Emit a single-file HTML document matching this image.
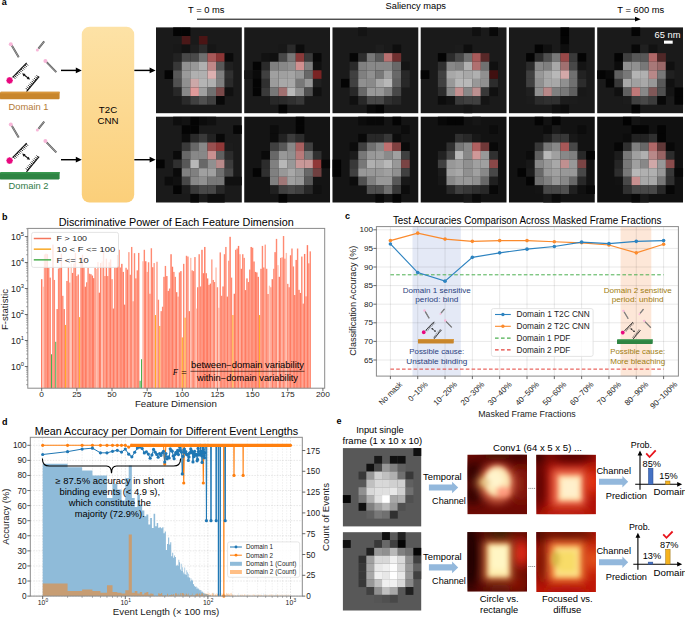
<!DOCTYPE html>
<html><head><meta charset="utf-8"><style>
html,body{margin:0;padding:0;background:#fff;}
svg{display:block;font-family:"Liberation Sans", sans-serif;}
</style></head><body>
<svg width="685" height="617" viewBox="0 0 685 617">
<text x="1.8" y="5.2" font-size="9" font-weight="bold">a</text>
<g transform="translate(0 0)"><line x1="11.8" y1="45.6" x2="18.7" y2="57.3" stroke="#555" stroke-width="1.9"/><line x1="11.8" y1="45.6" x2="18.7" y2="57.3" stroke="#bbb" stroke-width="0.7"/><circle cx="10.8" cy="44.2" r="2.0" fill="#f7b6d8"/><line x1="38.4" y1="48.6" x2="44.2" y2="41.4" stroke="#555" stroke-width="1.9"/><line x1="38.4" y1="48.6" x2="44.2" y2="41.4" stroke="#bbb" stroke-width="0.7"/><circle cx="37.4" cy="49.9" r="1.5" fill="#f7b6d8"/><line x1="46.6" y1="62.2" x2="56.3" y2="72.1" stroke="#555" stroke-width="1.9"/><line x1="46.6" y1="62.2" x2="56.3" y2="72.1" stroke="#bbb" stroke-width="0.7"/><circle cx="45.4" cy="60.9" r="2.0" fill="#f7b6d8"/><line x1="12.6" y1="77.4" x2="26.7" y2="62.9" stroke="#111" stroke-width="1.2"/><line x1="13.24" y1="76.74" x2="15.24" y2="78.74" stroke="#111" stroke-width="0.9"/><line x1="14.52" y1="75.42" x2="16.52" y2="77.42" stroke="#111" stroke-width="0.9"/><line x1="15.80" y1="74.10" x2="17.80" y2="76.10" stroke="#111" stroke-width="0.9"/><line x1="17.09" y1="72.79" x2="19.09" y2="74.79" stroke="#111" stroke-width="0.9"/><line x1="18.37" y1="71.47" x2="20.37" y2="73.47" stroke="#111" stroke-width="0.9"/><line x1="19.65" y1="70.15" x2="21.65" y2="72.15" stroke="#111" stroke-width="0.9"/><line x1="20.93" y1="68.83" x2="22.93" y2="70.83" stroke="#111" stroke-width="0.9"/><line x1="22.21" y1="67.51" x2="24.21" y2="69.51" stroke="#111" stroke-width="0.9"/><line x1="23.50" y1="66.20" x2="25.50" y2="68.20" stroke="#111" stroke-width="0.9"/><line x1="24.78" y1="64.88" x2="26.78" y2="66.88" stroke="#111" stroke-width="0.9"/><line x1="26.06" y1="63.56" x2="28.06" y2="65.56" stroke="#111" stroke-width="0.9"/><polygon points="13.10,80.40 12.40,81.15 12.63,82.15 11.65,82.45 11.35,83.43 10.35,83.20 9.60,83.90 8.85,83.20 7.85,83.43 7.55,82.45 6.57,82.15 6.80,81.15 6.10,80.40 6.80,79.65 6.57,78.65 7.55,78.35 7.85,77.37 8.85,77.60 9.60,76.90 10.35,77.60 11.35,77.37 11.65,78.35 12.63,78.65 12.40,79.65" fill="#e8087e"/><line x1="26.5" y1="91.6" x2="39.1" y2="76.5" stroke="#111" stroke-width="1.2"/><line x1="27.79" y1="90.08" x2="25.79" y2="88.08" stroke="#111" stroke-width="0.9"/><line x1="28.98" y1="88.66" x2="26.98" y2="86.66" stroke="#111" stroke-width="0.9"/><line x1="30.18" y1="87.22" x2="28.18" y2="85.22" stroke="#111" stroke-width="0.9"/><line x1="31.37" y1="85.80" x2="29.37" y2="83.80" stroke="#111" stroke-width="0.9"/><line x1="32.55" y1="84.36" x2="30.55" y2="82.36" stroke="#111" stroke-width="0.9"/><line x1="33.75" y1="82.94" x2="31.75" y2="80.94" stroke="#111" stroke-width="0.9"/><line x1="34.94" y1="81.50" x2="32.94" y2="79.50" stroke="#111" stroke-width="0.9"/><line x1="36.12" y1="80.08" x2="34.12" y2="78.08" stroke="#111" stroke-width="0.9"/><line x1="37.31" y1="78.64" x2="35.31" y2="76.64" stroke="#111" stroke-width="0.9"/><line x1="38.51" y1="77.22" x2="36.51" y2="75.22" stroke="#111" stroke-width="0.9"/><line x1="24.3" y1="75.0" x2="27.9" y2="77.9" stroke="#111" stroke-width="1.2"/><path d="M22.2 73.3 L23.53 76.43 L25.54 73.94 Z M30 79.6 L26.66 78.96 L28.67 76.47 Z" fill="#111"/><path d="M1 91.8 L59.6 91.8 L59.6 98.4 L58.8 99.3 L0.2 99.3 L0 98 L0 92.8 Z" fill="#c8862c"/><rect x="0.5" y="91.8" width="59" height="1.6" fill="#d9983e"/></g>
<text x="28.50" y="109.60" font-size="9.6" text-anchor="middle" fill="#b47a36" textLength="40" lengthAdjust="spacingAndGlyphs" >Domain 1</text>
<g transform="translate(0 80.2)"><line x1="11.8" y1="45.6" x2="18.7" y2="57.3" stroke="#555" stroke-width="1.9"/><line x1="11.8" y1="45.6" x2="18.7" y2="57.3" stroke="#bbb" stroke-width="0.7"/><circle cx="10.8" cy="44.2" r="2.0" fill="#f7b6d8"/><line x1="38.4" y1="48.6" x2="44.2" y2="41.4" stroke="#555" stroke-width="1.9"/><line x1="38.4" y1="48.6" x2="44.2" y2="41.4" stroke="#bbb" stroke-width="0.7"/><circle cx="37.4" cy="49.9" r="1.5" fill="#f7b6d8"/><line x1="46.6" y1="62.2" x2="56.3" y2="72.1" stroke="#555" stroke-width="1.9"/><line x1="46.6" y1="62.2" x2="56.3" y2="72.1" stroke="#bbb" stroke-width="0.7"/><circle cx="45.4" cy="60.9" r="2.0" fill="#f7b6d8"/><line x1="12.6" y1="77.4" x2="26.7" y2="62.9" stroke="#111" stroke-width="1.2"/><line x1="13.24" y1="76.74" x2="15.24" y2="78.74" stroke="#111" stroke-width="0.9"/><line x1="14.52" y1="75.42" x2="16.52" y2="77.42" stroke="#111" stroke-width="0.9"/><line x1="15.80" y1="74.10" x2="17.80" y2="76.10" stroke="#111" stroke-width="0.9"/><line x1="17.09" y1="72.79" x2="19.09" y2="74.79" stroke="#111" stroke-width="0.9"/><line x1="18.37" y1="71.47" x2="20.37" y2="73.47" stroke="#111" stroke-width="0.9"/><line x1="19.65" y1="70.15" x2="21.65" y2="72.15" stroke="#111" stroke-width="0.9"/><line x1="20.93" y1="68.83" x2="22.93" y2="70.83" stroke="#111" stroke-width="0.9"/><line x1="22.21" y1="67.51" x2="24.21" y2="69.51" stroke="#111" stroke-width="0.9"/><line x1="23.50" y1="66.20" x2="25.50" y2="68.20" stroke="#111" stroke-width="0.9"/><line x1="24.78" y1="64.88" x2="26.78" y2="66.88" stroke="#111" stroke-width="0.9"/><line x1="26.06" y1="63.56" x2="28.06" y2="65.56" stroke="#111" stroke-width="0.9"/><polygon points="13.10,80.40 12.40,81.15 12.63,82.15 11.65,82.45 11.35,83.43 10.35,83.20 9.60,83.90 8.85,83.20 7.85,83.43 7.55,82.45 6.57,82.15 6.80,81.15 6.10,80.40 6.80,79.65 6.57,78.65 7.55,78.35 7.85,77.37 8.85,77.60 9.60,76.90 10.35,77.60 11.35,77.37 11.65,78.35 12.63,78.65 12.40,79.65" fill="#e8087e"/><line x1="26.5" y1="91.6" x2="39.1" y2="76.5" stroke="#111" stroke-width="1.2"/><line x1="27.79" y1="90.08" x2="25.79" y2="88.08" stroke="#111" stroke-width="0.9"/><line x1="28.98" y1="88.66" x2="26.98" y2="86.66" stroke="#111" stroke-width="0.9"/><line x1="30.18" y1="87.22" x2="28.18" y2="85.22" stroke="#111" stroke-width="0.9"/><line x1="31.37" y1="85.80" x2="29.37" y2="83.80" stroke="#111" stroke-width="0.9"/><line x1="32.55" y1="84.36" x2="30.55" y2="82.36" stroke="#111" stroke-width="0.9"/><line x1="33.75" y1="82.94" x2="31.75" y2="80.94" stroke="#111" stroke-width="0.9"/><line x1="34.94" y1="81.50" x2="32.94" y2="79.50" stroke="#111" stroke-width="0.9"/><line x1="36.12" y1="80.08" x2="34.12" y2="78.08" stroke="#111" stroke-width="0.9"/><line x1="37.31" y1="78.64" x2="35.31" y2="76.64" stroke="#111" stroke-width="0.9"/><line x1="38.51" y1="77.22" x2="36.51" y2="75.22" stroke="#111" stroke-width="0.9"/><line x1="24.3" y1="75.0" x2="27.9" y2="77.9" stroke="#111" stroke-width="1.2"/><path d="M22.2 73.3 L23.53 76.43 L25.54 73.94 Z M30 79.6 L26.66 78.96 L28.67 76.47 Z" fill="#111"/><path d="M1 91.8 L59.6 91.8 L59.6 98.4 L58.8 99.3 L0.2 99.3 L0 98 L0 92.8 Z" fill="#2e8443"/><rect x="0.5" y="91.8" width="59" height="1.6" fill="#3a9950"/></g>
<text x="28.50" y="188.90" font-size="9.6" text-anchor="middle" fill="#2f7a46" textLength="40" lengthAdjust="spacingAndGlyphs" >Domain 2</text>
<line x1="61" y1="70.4" x2="76.3" y2="70.4" stroke="#000" stroke-width="1.45"/>
<path d="M81.8 70.4 L75.8 67.5 L75.8 73.30000000000001 Z" fill="#000"/>
<line x1="134.2" y1="70.4" x2="150.1" y2="70.4" stroke="#000" stroke-width="1.45"/>
<path d="M155.6 70.4 L149.6 67.5 L149.6 73.30000000000001 Z" fill="#000"/>
<line x1="61" y1="159.7" x2="76.3" y2="159.7" stroke="#000" stroke-width="1.45"/>
<path d="M81.8 159.7 L75.8 156.79999999999998 L75.8 162.6 Z" fill="#000"/>
<line x1="134.2" y1="159.7" x2="150.1" y2="159.7" stroke="#000" stroke-width="1.45"/>
<path d="M155.6 159.7 L149.6 156.79999999999998 L149.6 162.6 Z" fill="#000"/>
<defs><linearGradient id="cnn" x1="0" y1="0" x2="0" y2="1"><stop offset="0" stop-color="#fde2a6"/><stop offset="1" stop-color="#fbcf7a"/></linearGradient></defs>
<rect x="81.8" y="26.8" width="52.4" height="175.7" rx="7.8" fill="url(#cnn)"/>
<text x="108.00" y="112.80" font-size="9.7" text-anchor="middle" >T2C</text>
<text x="107.90" y="124.00" font-size="9.7" text-anchor="middle" >CNN</text>
<text x="188.00" y="13.10" font-size="9.7" textLength="36.4" lengthAdjust="spacingAndGlyphs" >T = 0 ms</text>
<text x="385.60" y="9.30" font-size="9.7" textLength="60.4" lengthAdjust="spacingAndGlyphs" >Saliency maps</text>
<text x="617.30" y="13.10" font-size="9.7" textLength="47" lengthAdjust="spacingAndGlyphs" >T = 600 ms</text>
<line x1="197" y1="19.2" x2="636" y2="19.2" stroke="#000" stroke-width="1"/>
<path d="M640.8 19.2 L635 16.8 L635 21.6 Z" fill="#000"/>
<rect x="156.00" y="27.40" width="85.8" height="85.8" fill="#1a1a1a"/><rect x="173.16" y="27.40" width="8.63" height="8.63" fill="#040404"/><rect x="181.74" y="27.40" width="8.63" height="8.63" fill="#040404"/><rect x="181.74" y="35.98" width="8.63" height="8.63" fill="#4a1818"/><rect x="198.90" y="35.98" width="8.63" height="8.63" fill="#4a1515"/><rect x="173.16" y="44.56" width="8.63" height="8.63" fill="#181818"/><rect x="181.74" y="44.56" width="8.63" height="8.63" fill="#121212"/><rect x="190.32" y="44.56" width="8.63" height="8.63" fill="#1e1e1e"/><rect x="198.90" y="44.56" width="8.63" height="8.63" fill="#2c2c2c"/><rect x="207.48" y="44.56" width="8.63" height="8.63" fill="#161616"/><rect x="173.16" y="53.14" width="8.63" height="8.63" fill="#222222"/><rect x="181.74" y="53.14" width="8.63" height="8.63" fill="#484848"/><rect x="190.32" y="53.14" width="8.63" height="8.63" fill="#4a4a4a"/><rect x="198.90" y="53.14" width="8.63" height="8.63" fill="#707070"/><rect x="207.48" y="53.14" width="8.63" height="8.63" fill="#a85858"/><rect x="216.06" y="53.14" width="8.63" height="8.63" fill="#8c3636"/><rect x="224.64" y="53.14" width="8.63" height="8.63" fill="#0a0a0a"/><rect x="173.16" y="61.72" width="8.63" height="8.63" fill="#383838"/><rect x="181.74" y="61.72" width="8.63" height="8.63" fill="#909090"/><rect x="190.32" y="61.72" width="8.63" height="8.63" fill="#989898"/><rect x="198.90" y="61.72" width="8.63" height="8.63" fill="#b0b0b0"/><rect x="207.48" y="61.72" width="8.63" height="8.63" fill="#c08888"/><rect x="216.06" y="61.72" width="8.63" height="8.63" fill="#585858"/><rect x="224.64" y="61.72" width="8.63" height="8.63" fill="#202020"/><rect x="164.58" y="70.30" width="8.63" height="8.63" fill="#040404"/><rect x="173.16" y="70.30" width="8.63" height="8.63" fill="#585858"/><rect x="181.74" y="70.30" width="8.63" height="8.63" fill="#9a9a9a"/><rect x="190.32" y="70.30" width="8.63" height="8.63" fill="#b0b0b0"/><rect x="198.90" y="70.30" width="8.63" height="8.63" fill="#b0b0b0"/><rect x="207.48" y="70.30" width="8.63" height="8.63" fill="#dcb0b0"/><rect x="216.06" y="70.30" width="8.63" height="8.63" fill="#808080"/><rect x="224.64" y="70.30" width="8.63" height="8.63" fill="#303030"/><rect x="173.16" y="78.88" width="8.63" height="8.63" fill="#505050"/><rect x="181.74" y="78.88" width="8.63" height="8.63" fill="#909090"/><rect x="190.32" y="78.88" width="8.63" height="8.63" fill="#cca8a8"/><rect x="198.90" y="78.88" width="8.63" height="8.63" fill="#b4b4b4"/><rect x="207.48" y="78.88" width="8.63" height="8.63" fill="#b0b0b0"/><rect x="216.06" y="78.88" width="8.63" height="8.63" fill="#808080"/><rect x="224.64" y="78.88" width="8.63" height="8.63" fill="#2a2a2a"/><rect x="173.16" y="87.46" width="8.63" height="8.63" fill="#282828"/><rect x="181.74" y="87.46" width="8.63" height="8.63" fill="#888888"/><rect x="190.32" y="87.46" width="8.63" height="8.63" fill="#e09a9a"/><rect x="198.90" y="87.46" width="8.63" height="8.63" fill="#a0a0a0"/><rect x="207.48" y="87.46" width="8.63" height="8.63" fill="#707070"/><rect x="216.06" y="87.46" width="8.63" height="8.63" fill="#7a4a4a"/><rect x="224.64" y="87.46" width="8.63" height="8.63" fill="#101010"/><rect x="181.74" y="96.04" width="8.63" height="8.63" fill="#2a2a2a"/><rect x="190.32" y="96.04" width="8.63" height="8.63" fill="#404040"/><rect x="198.90" y="96.04" width="8.63" height="8.63" fill="#505050"/><rect x="207.48" y="96.04" width="8.63" height="8.63" fill="#404040"/><rect x="216.06" y="96.04" width="8.63" height="8.63" fill="#080808"/>
<rect x="244.24" y="27.40" width="85.8" height="85.8" fill="#1a1a1a"/><rect x="278.56" y="44.56" width="8.63" height="8.63" fill="#181818"/><rect x="287.14" y="44.56" width="8.63" height="8.63" fill="#2a2a2a"/><rect x="295.72" y="44.56" width="8.63" height="8.63" fill="#0c0c0c"/><rect x="261.40" y="53.14" width="8.63" height="8.63" fill="#121212"/><rect x="269.98" y="53.14" width="8.63" height="8.63" fill="#101010"/><rect x="278.56" y="53.14" width="8.63" height="8.63" fill="#484848"/><rect x="287.14" y="53.14" width="8.63" height="8.63" fill="#787878"/><rect x="295.72" y="53.14" width="8.63" height="8.63" fill="#8a3a3a"/><rect x="304.30" y="53.14" width="8.63" height="8.63" fill="#3a3a3a"/><rect x="312.88" y="53.14" width="8.63" height="8.63" fill="#080808"/><rect x="252.82" y="61.72" width="8.63" height="8.63" fill="#040404"/><rect x="261.40" y="61.72" width="8.63" height="8.63" fill="#2a2a2a"/><rect x="269.98" y="61.72" width="8.63" height="8.63" fill="#808080"/><rect x="278.56" y="61.72" width="8.63" height="8.63" fill="#888888"/><rect x="287.14" y="61.72" width="8.63" height="8.63" fill="#909090"/><rect x="295.72" y="61.72" width="8.63" height="8.63" fill="#d09090"/><rect x="304.30" y="61.72" width="8.63" height="8.63" fill="#808080"/><rect x="312.88" y="61.72" width="8.63" height="8.63" fill="#101010"/><rect x="244.24" y="70.30" width="8.63" height="8.63" fill="#141414"/><rect x="252.82" y="70.30" width="8.63" height="8.63" fill="#0a0a0a"/><rect x="261.40" y="70.30" width="8.63" height="8.63" fill="#404040"/><rect x="269.98" y="70.30" width="8.63" height="8.63" fill="#a0a0a0"/><rect x="278.56" y="70.30" width="8.63" height="8.63" fill="#a0a0a0"/><rect x="287.14" y="70.30" width="8.63" height="8.63" fill="#a4a4a4"/><rect x="295.72" y="70.30" width="8.63" height="8.63" fill="#989898"/><rect x="304.30" y="70.30" width="8.63" height="8.63" fill="#686868"/><rect x="312.88" y="70.30" width="8.63" height="8.63" fill="#7a2424"/><rect x="252.82" y="78.88" width="8.63" height="8.63" fill="#040404"/><rect x="261.40" y="78.88" width="8.63" height="8.63" fill="#303030"/><rect x="269.98" y="78.88" width="8.63" height="8.63" fill="#9c9c9c"/><rect x="278.56" y="78.88" width="8.63" height="8.63" fill="#a8a8a8"/><rect x="287.14" y="78.88" width="8.63" height="8.63" fill="#a8a8a8"/><rect x="295.72" y="78.88" width="8.63" height="8.63" fill="#787878"/><rect x="304.30" y="78.88" width="8.63" height="8.63" fill="#989898"/><rect x="312.88" y="78.88" width="8.63" height="8.63" fill="#202020"/><rect x="252.82" y="87.46" width="8.63" height="8.63" fill="#040404"/><rect x="261.40" y="87.46" width="8.63" height="8.63" fill="#3a3a3a"/><rect x="269.98" y="87.46" width="8.63" height="8.63" fill="#787878"/><rect x="278.56" y="87.46" width="8.63" height="8.63" fill="#a07070"/><rect x="287.14" y="87.46" width="8.63" height="8.63" fill="#b8b8b8"/><rect x="295.72" y="87.46" width="8.63" height="8.63" fill="#909090"/><rect x="304.30" y="87.46" width="8.63" height="8.63" fill="#505050"/><rect x="312.88" y="87.46" width="8.63" height="8.63" fill="#101010"/><rect x="269.98" y="96.04" width="8.63" height="8.63" fill="#282828"/><rect x="278.56" y="96.04" width="8.63" height="8.63" fill="#2a2a2a"/><rect x="287.14" y="96.04" width="8.63" height="8.63" fill="#303030"/><rect x="295.72" y="96.04" width="8.63" height="8.63" fill="#383838"/><rect x="278.56" y="104.62" width="8.63" height="8.63" fill="#040404"/>
<rect x="332.48" y="27.40" width="85.8" height="85.8" fill="#1a1a1a"/><rect x="358.22" y="27.40" width="8.63" height="8.63" fill="#141414"/><rect x="375.38" y="44.56" width="8.63" height="8.63" fill="#1e1e1e"/><rect x="392.54" y="44.56" width="8.63" height="8.63" fill="#0e0e0e"/><rect x="349.64" y="53.14" width="8.63" height="8.63" fill="#060606"/><rect x="358.22" y="53.14" width="8.63" height="8.63" fill="#2e2e2e"/><rect x="366.80" y="53.14" width="8.63" height="8.63" fill="#787878"/><rect x="375.38" y="53.14" width="8.63" height="8.63" fill="#5a5a5a"/><rect x="383.96" y="53.14" width="8.63" height="8.63" fill="#b87070"/><rect x="392.54" y="53.14" width="8.63" height="8.63" fill="#703030"/><rect x="349.64" y="61.72" width="8.63" height="8.63" fill="#2a2a2a"/><rect x="358.22" y="61.72" width="8.63" height="8.63" fill="#808080"/><rect x="366.80" y="61.72" width="8.63" height="8.63" fill="#888888"/><rect x="375.38" y="61.72" width="8.63" height="8.63" fill="#888888"/><rect x="383.96" y="61.72" width="8.63" height="8.63" fill="#888888"/><rect x="392.54" y="61.72" width="8.63" height="8.63" fill="#686868"/><rect x="401.12" y="61.72" width="8.63" height="8.63" fill="#141414"/><rect x="349.64" y="70.30" width="8.63" height="8.63" fill="#404040"/><rect x="358.22" y="70.30" width="8.63" height="8.63" fill="#808080"/><rect x="366.80" y="70.30" width="8.63" height="8.63" fill="#909090"/><rect x="375.38" y="70.30" width="8.63" height="8.63" fill="#787878"/><rect x="383.96" y="70.30" width="8.63" height="8.63" fill="#a0a0a0"/><rect x="392.54" y="70.30" width="8.63" height="8.63" fill="#686868"/><rect x="401.12" y="70.30" width="8.63" height="8.63" fill="#282828"/><rect x="341.06" y="78.88" width="8.63" height="8.63" fill="#040404"/><rect x="349.64" y="78.88" width="8.63" height="8.63" fill="#404040"/><rect x="358.22" y="78.88" width="8.63" height="8.63" fill="#909090"/><rect x="366.80" y="78.88" width="8.63" height="8.63" fill="#8a8a8a"/><rect x="375.38" y="78.88" width="8.63" height="8.63" fill="#a8a8a8"/><rect x="383.96" y="78.88" width="8.63" height="8.63" fill="#b8b8b8"/><rect x="392.54" y="78.88" width="8.63" height="8.63" fill="#606060"/><rect x="401.12" y="78.88" width="8.63" height="8.63" fill="#282828"/><rect x="349.64" y="87.46" width="8.63" height="8.63" fill="#282828"/><rect x="358.22" y="87.46" width="8.63" height="8.63" fill="#686868"/><rect x="366.80" y="87.46" width="8.63" height="8.63" fill="#989898"/><rect x="375.38" y="87.46" width="8.63" height="8.63" fill="#989898"/><rect x="383.96" y="87.46" width="8.63" height="8.63" fill="#808080"/><rect x="392.54" y="87.46" width="8.63" height="8.63" fill="#484848"/><rect x="349.64" y="96.04" width="8.63" height="8.63" fill="#101010"/><rect x="358.22" y="96.04" width="8.63" height="8.63" fill="#282828"/><rect x="366.80" y="96.04" width="8.63" height="8.63" fill="#484848"/><rect x="375.38" y="96.04" width="8.63" height="8.63" fill="#484848"/><rect x="383.96" y="96.04" width="8.63" height="8.63" fill="#303030"/><rect x="392.54" y="96.04" width="8.63" height="8.63" fill="#282828"/><rect x="366.80" y="104.62" width="8.63" height="8.63" fill="#0a0a0a"/><rect x="375.38" y="104.62" width="8.63" height="8.63" fill="#040404"/>
<rect x="420.72" y="27.40" width="85.8" height="85.8" fill="#1a1a1a"/><rect x="472.20" y="27.40" width="8.63" height="8.63" fill="#101010"/><rect x="489.36" y="27.40" width="8.63" height="8.63" fill="#080808"/><rect x="455.04" y="44.56" width="8.63" height="8.63" fill="#1c1c1c"/><rect x="463.62" y="44.56" width="8.63" height="8.63" fill="#0e0e0e"/><rect x="437.88" y="53.14" width="8.63" height="8.63" fill="#040404"/><rect x="446.46" y="53.14" width="8.63" height="8.63" fill="#2c2c2c"/><rect x="455.04" y="53.14" width="8.63" height="8.63" fill="#484848"/><rect x="463.62" y="53.14" width="8.63" height="8.63" fill="#707070"/><rect x="472.20" y="53.14" width="8.63" height="8.63" fill="#a85a5a"/><rect x="480.78" y="53.14" width="8.63" height="8.63" fill="#582828"/><rect x="437.88" y="61.72" width="8.63" height="8.63" fill="#303030"/><rect x="446.46" y="61.72" width="8.63" height="8.63" fill="#888888"/><rect x="455.04" y="61.72" width="8.63" height="8.63" fill="#808080"/><rect x="463.62" y="61.72" width="8.63" height="8.63" fill="#b0b0b0"/><rect x="472.20" y="61.72" width="8.63" height="8.63" fill="#b07070"/><rect x="480.78" y="61.72" width="8.63" height="8.63" fill="#707070"/><rect x="489.36" y="61.72" width="8.63" height="8.63" fill="#101010"/><rect x="420.72" y="70.30" width="8.63" height="8.63" fill="#040404"/><rect x="437.88" y="70.30" width="8.63" height="8.63" fill="#404040"/><rect x="446.46" y="70.30" width="8.63" height="8.63" fill="#a8a8a8"/><rect x="455.04" y="70.30" width="8.63" height="8.63" fill="#b0b0b0"/><rect x="463.62" y="70.30" width="8.63" height="8.63" fill="#a8a8a8"/><rect x="472.20" y="70.30" width="8.63" height="8.63" fill="#b0b0b0"/><rect x="480.78" y="70.30" width="8.63" height="8.63" fill="#909090"/><rect x="489.36" y="70.30" width="8.63" height="8.63" fill="#401010"/><rect x="437.88" y="78.88" width="8.63" height="8.63" fill="#404040"/><rect x="446.46" y="78.88" width="8.63" height="8.63" fill="#989898"/><rect x="455.04" y="78.88" width="8.63" height="8.63" fill="#b8b8b8"/><rect x="463.62" y="78.88" width="8.63" height="8.63" fill="#b8b8b8"/><rect x="472.20" y="78.88" width="8.63" height="8.63" fill="#989898"/><rect x="480.78" y="78.88" width="8.63" height="8.63" fill="#909090"/><rect x="489.36" y="78.88" width="8.63" height="8.63" fill="#2c2c2c"/><rect x="437.88" y="87.46" width="8.63" height="8.63" fill="#2c2c2c"/><rect x="446.46" y="87.46" width="8.63" height="8.63" fill="#888888"/><rect x="455.04" y="87.46" width="8.63" height="8.63" fill="#c49090"/><rect x="463.62" y="87.46" width="8.63" height="8.63" fill="#888888"/><rect x="472.20" y="87.46" width="8.63" height="8.63" fill="#bc9090"/><rect x="480.78" y="87.46" width="8.63" height="8.63" fill="#383838"/><rect x="489.36" y="87.46" width="8.63" height="8.63" fill="#101010"/><rect x="437.88" y="96.04" width="8.63" height="8.63" fill="#0c0c0c"/><rect x="446.46" y="96.04" width="8.63" height="8.63" fill="#121212"/><rect x="455.04" y="96.04" width="8.63" height="8.63" fill="#3a3a3a"/><rect x="463.62" y="96.04" width="8.63" height="8.63" fill="#404040"/><rect x="472.20" y="96.04" width="8.63" height="8.63" fill="#404040"/><rect x="480.78" y="96.04" width="8.63" height="8.63" fill="#141414"/><rect x="463.62" y="104.62" width="8.63" height="8.63" fill="#161616"/>
<rect x="508.96" y="27.40" width="85.8" height="85.8" fill="#1a1a1a"/><rect x="560.44" y="27.40" width="8.63" height="8.63" fill="#020202"/><rect x="560.44" y="35.98" width="8.63" height="8.63" fill="#040404"/><rect x="534.70" y="44.56" width="8.63" height="8.63" fill="#040404"/><rect x="543.28" y="44.56" width="8.63" height="8.63" fill="#101010"/><rect x="560.44" y="44.56" width="8.63" height="8.63" fill="#0e0e0e"/><rect x="526.12" y="53.14" width="8.63" height="8.63" fill="#040404"/><rect x="534.70" y="53.14" width="8.63" height="8.63" fill="#2c2c2c"/><rect x="543.28" y="53.14" width="8.63" height="8.63" fill="#505050"/><rect x="551.86" y="53.14" width="8.63" height="8.63" fill="#787878"/><rect x="560.44" y="53.14" width="8.63" height="8.63" fill="#984848"/><rect x="569.02" y="53.14" width="8.63" height="8.63" fill="#3a3a3a"/><rect x="577.60" y="53.14" width="8.63" height="8.63" fill="#040404"/><rect x="526.12" y="61.72" width="8.63" height="8.63" fill="#2c2c2c"/><rect x="534.70" y="61.72" width="8.63" height="8.63" fill="#888888"/><rect x="543.28" y="61.72" width="8.63" height="8.63" fill="#808080"/><rect x="551.86" y="61.72" width="8.63" height="8.63" fill="#a8a8a8"/><rect x="560.44" y="61.72" width="8.63" height="8.63" fill="#a07070"/><rect x="569.02" y="61.72" width="8.63" height="8.63" fill="#484848"/><rect x="577.60" y="61.72" width="8.63" height="8.63" fill="#141414"/><rect x="526.12" y="70.30" width="8.63" height="8.63" fill="#404040"/><rect x="534.70" y="70.30" width="8.63" height="8.63" fill="#989898"/><rect x="543.28" y="70.30" width="8.63" height="8.63" fill="#a8a8a8"/><rect x="551.86" y="70.30" width="8.63" height="8.63" fill="#b8b8b8"/><rect x="560.44" y="70.30" width="8.63" height="8.63" fill="#d4a8a8"/><rect x="569.02" y="70.30" width="8.63" height="8.63" fill="#707070"/><rect x="577.60" y="70.30" width="8.63" height="8.63" fill="#222222"/><rect x="526.12" y="78.88" width="8.63" height="8.63" fill="#404040"/><rect x="534.70" y="78.88" width="8.63" height="8.63" fill="#909090"/><rect x="543.28" y="78.88" width="8.63" height="8.63" fill="#a8a8a8"/><rect x="551.86" y="78.88" width="8.63" height="8.63" fill="#a8a8a8"/><rect x="560.44" y="78.88" width="8.63" height="8.63" fill="#909090"/><rect x="569.02" y="78.88" width="8.63" height="8.63" fill="#707070"/><rect x="577.60" y="78.88" width="8.63" height="8.63" fill="#2c2c2c"/><rect x="526.12" y="87.46" width="8.63" height="8.63" fill="#202020"/><rect x="534.70" y="87.46" width="8.63" height="8.63" fill="#909090"/><rect x="543.28" y="87.46" width="8.63" height="8.63" fill="#b88888"/><rect x="551.86" y="87.46" width="8.63" height="8.63" fill="#808080"/><rect x="560.44" y="87.46" width="8.63" height="8.63" fill="#787878"/><rect x="569.02" y="87.46" width="8.63" height="8.63" fill="#606060"/><rect x="577.60" y="87.46" width="8.63" height="8.63" fill="#181818"/><rect x="526.12" y="96.04" width="8.63" height="8.63" fill="#1c1c1c"/><rect x="534.70" y="96.04" width="8.63" height="8.63" fill="#2c2c2c"/><rect x="543.28" y="96.04" width="8.63" height="8.63" fill="#303030"/><rect x="551.86" y="96.04" width="8.63" height="8.63" fill="#303030"/><rect x="560.44" y="96.04" width="8.63" height="8.63" fill="#1c1c1c"/><rect x="569.02" y="96.04" width="8.63" height="8.63" fill="#1c1c1c"/><rect x="551.86" y="104.62" width="8.63" height="8.63" fill="#101010"/><rect x="560.44" y="104.62" width="8.63" height="8.63" fill="#0c0c0c"/>
<rect x="597.20" y="27.40" width="85.8" height="85.8" fill="#1a1a1a"/><rect x="631.52" y="27.40" width="8.63" height="8.63" fill="#040404"/><rect x="631.52" y="44.56" width="8.63" height="8.63" fill="#080808"/><rect x="640.10" y="44.56" width="8.63" height="8.63" fill="#202020"/><rect x="648.68" y="44.56" width="8.63" height="8.63" fill="#121212"/><rect x="614.36" y="53.14" width="8.63" height="8.63" fill="#040404"/><rect x="622.94" y="53.14" width="8.63" height="8.63" fill="#404040"/><rect x="631.52" y="53.14" width="8.63" height="8.63" fill="#585858"/><rect x="640.10" y="53.14" width="8.63" height="8.63" fill="#585858"/><rect x="648.68" y="53.14" width="8.63" height="8.63" fill="#b06868"/><rect x="657.26" y="53.14" width="8.63" height="8.63" fill="#502828"/><rect x="614.36" y="61.72" width="8.63" height="8.63" fill="#0c0c0c"/><rect x="622.94" y="61.72" width="8.63" height="8.63" fill="#909090"/><rect x="631.52" y="61.72" width="8.63" height="8.63" fill="#909090"/><rect x="640.10" y="61.72" width="8.63" height="8.63" fill="#787878"/><rect x="648.68" y="61.72" width="8.63" height="8.63" fill="#a87878"/><rect x="657.26" y="61.72" width="8.63" height="8.63" fill="#9a6868"/><rect x="665.84" y="61.72" width="8.63" height="8.63" fill="#101010"/><rect x="597.20" y="70.30" width="8.63" height="8.63" fill="#040404"/><rect x="605.78" y="70.30" width="8.63" height="8.63" fill="#0a0a0a"/><rect x="614.36" y="70.30" width="8.63" height="8.63" fill="#606060"/><rect x="622.94" y="70.30" width="8.63" height="8.63" fill="#787878"/><rect x="631.52" y="70.30" width="8.63" height="8.63" fill="#b4b4b4"/><rect x="640.10" y="70.30" width="8.63" height="8.63" fill="#b0b0b0"/><rect x="648.68" y="70.30" width="8.63" height="8.63" fill="#b88888"/><rect x="657.26" y="70.30" width="8.63" height="8.63" fill="#787878"/><rect x="665.84" y="70.30" width="8.63" height="8.63" fill="#202020"/><rect x="605.78" y="78.88" width="8.63" height="8.63" fill="#040404"/><rect x="614.36" y="78.88" width="8.63" height="8.63" fill="#383838"/><rect x="622.94" y="78.88" width="8.63" height="8.63" fill="#a8a8a8"/><rect x="631.52" y="78.88" width="8.63" height="8.63" fill="#a0a0a0"/><rect x="640.10" y="78.88" width="8.63" height="8.63" fill="#a8a8a8"/><rect x="648.68" y="78.88" width="8.63" height="8.63" fill="#989898"/><rect x="657.26" y="78.88" width="8.63" height="8.63" fill="#585858"/><rect x="665.84" y="78.88" width="8.63" height="8.63" fill="#101010"/><rect x="614.36" y="87.46" width="8.63" height="8.63" fill="#101010"/><rect x="622.94" y="87.46" width="8.63" height="8.63" fill="#606060"/><rect x="631.52" y="87.46" width="8.63" height="8.63" fill="#c07878"/><rect x="640.10" y="87.46" width="8.63" height="8.63" fill="#888888"/><rect x="648.68" y="87.46" width="8.63" height="8.63" fill="#805858"/><rect x="657.26" y="87.46" width="8.63" height="8.63" fill="#505050"/><rect x="665.84" y="87.46" width="8.63" height="8.63" fill="#141414"/><rect x="674.42" y="87.46" width="8.63" height="8.63" fill="#040404"/><rect x="622.94" y="96.04" width="8.63" height="8.63" fill="#1c1c1c"/><rect x="631.52" y="96.04" width="8.63" height="8.63" fill="#404040"/><rect x="640.10" y="96.04" width="8.63" height="8.63" fill="#484848"/><rect x="648.68" y="96.04" width="8.63" height="8.63" fill="#3c3c3c"/><rect x="657.26" y="96.04" width="8.63" height="8.63" fill="#080808"/><rect x="674.42" y="96.04" width="8.63" height="8.63" fill="#040404"/><rect x="631.52" y="104.62" width="8.63" height="8.63" fill="#040404"/>
<rect x="156.00" y="116.70" width="85.8" height="85.8" fill="#1a1a1a"/><rect x="173.16" y="116.70" width="8.63" height="8.63" fill="#0e0e0e"/><rect x="181.74" y="116.70" width="8.63" height="8.63" fill="#121212"/><rect x="190.32" y="116.70" width="8.63" height="8.63" fill="#040404"/><rect x="198.90" y="116.70" width="8.63" height="8.63" fill="#0c0c0c"/><rect x="207.48" y="116.70" width="8.63" height="8.63" fill="#101010"/><rect x="181.74" y="125.28" width="8.63" height="8.63" fill="#040404"/><rect x="190.32" y="125.28" width="8.63" height="8.63" fill="#040404"/><rect x="233.22" y="125.28" width="8.63" height="8.63" fill="#060606"/><rect x="181.74" y="133.86" width="8.63" height="8.63" fill="#0c0c0c"/><rect x="190.32" y="133.86" width="8.63" height="8.63" fill="#2a2a2a"/><rect x="198.90" y="133.86" width="8.63" height="8.63" fill="#3a3a3a"/><rect x="207.48" y="133.86" width="8.63" height="8.63" fill="#222222"/><rect x="216.06" y="133.86" width="8.63" height="8.63" fill="#080808"/><rect x="181.74" y="142.44" width="8.63" height="8.63" fill="#3a3a3a"/><rect x="190.32" y="142.44" width="8.63" height="8.63" fill="#686868"/><rect x="198.90" y="142.44" width="8.63" height="8.63" fill="#888888"/><rect x="207.48" y="142.44" width="8.63" height="8.63" fill="#985050"/><rect x="216.06" y="142.44" width="8.63" height="8.63" fill="#903838"/><rect x="224.64" y="142.44" width="8.63" height="8.63" fill="#1c1c1c"/><rect x="173.16" y="151.02" width="8.63" height="8.63" fill="#0a0a0a"/><rect x="181.74" y="151.02" width="8.63" height="8.63" fill="#686868"/><rect x="190.32" y="151.02" width="8.63" height="8.63" fill="#888888"/><rect x="198.90" y="151.02" width="8.63" height="8.63" fill="#888888"/><rect x="207.48" y="151.02" width="8.63" height="8.63" fill="#c89090"/><rect x="216.06" y="151.02" width="8.63" height="8.63" fill="#606060"/><rect x="224.64" y="151.02" width="8.63" height="8.63" fill="#2c2c2c"/><rect x="156.00" y="159.60" width="8.63" height="8.63" fill="#040404"/><rect x="173.16" y="159.60" width="8.63" height="8.63" fill="#303030"/><rect x="181.74" y="159.60" width="8.63" height="8.63" fill="#585858"/><rect x="190.32" y="159.60" width="8.63" height="8.63" fill="#b8b8b8"/><rect x="198.90" y="159.60" width="8.63" height="8.63" fill="#686868"/><rect x="207.48" y="159.60" width="8.63" height="8.63" fill="#909090"/><rect x="216.06" y="159.60" width="8.63" height="8.63" fill="#b88a8a"/><rect x="224.64" y="159.60" width="8.63" height="8.63" fill="#3c3c3c"/><rect x="173.16" y="168.18" width="8.63" height="8.63" fill="#0a0a0a"/><rect x="181.74" y="168.18" width="8.63" height="8.63" fill="#808080"/><rect x="190.32" y="168.18" width="8.63" height="8.63" fill="#808080"/><rect x="198.90" y="168.18" width="8.63" height="8.63" fill="#a0a0a0"/><rect x="207.48" y="168.18" width="8.63" height="8.63" fill="#a0a0a0"/><rect x="216.06" y="168.18" width="8.63" height="8.63" fill="#707070"/><rect x="224.64" y="168.18" width="8.63" height="8.63" fill="#484848"/><rect x="164.58" y="176.76" width="8.63" height="8.63" fill="#0c0c0c"/><rect x="173.16" y="176.76" width="8.63" height="8.63" fill="#101010"/><rect x="181.74" y="176.76" width="8.63" height="8.63" fill="#484848"/><rect x="190.32" y="176.76" width="8.63" height="8.63" fill="#888888"/><rect x="198.90" y="176.76" width="8.63" height="8.63" fill="#909090"/><rect x="207.48" y="176.76" width="8.63" height="8.63" fill="#787878"/><rect x="216.06" y="176.76" width="8.63" height="8.63" fill="#787878"/><rect x="224.64" y="176.76" width="8.63" height="8.63" fill="#101010"/><rect x="233.22" y="176.76" width="8.63" height="8.63" fill="#101010"/><rect x="173.16" y="185.34" width="8.63" height="8.63" fill="#040404"/><rect x="181.74" y="185.34" width="8.63" height="8.63" fill="#1c1c1c"/><rect x="190.32" y="185.34" width="8.63" height="8.63" fill="#3a3a3a"/><rect x="198.90" y="185.34" width="8.63" height="8.63" fill="#484848"/><rect x="207.48" y="185.34" width="8.63" height="8.63" fill="#484848"/><rect x="216.06" y="185.34" width="8.63" height="8.63" fill="#282828"/><rect x="190.32" y="193.92" width="8.63" height="8.63" fill="#080808"/><rect x="207.48" y="193.92" width="8.63" height="8.63" fill="#0e0e0e"/><rect x="216.06" y="193.92" width="8.63" height="8.63" fill="#0e0e0e"/>
<rect x="244.24" y="116.70" width="85.8" height="85.8" fill="#141414"/><rect x="295.72" y="116.70" width="8.63" height="8.63" fill="#040404"/><rect x="269.98" y="125.28" width="8.63" height="8.63" fill="#0c0c0c"/><rect x="295.72" y="125.28" width="8.63" height="8.63" fill="#040404"/><rect x="269.98" y="133.86" width="8.63" height="8.63" fill="#0c0c0c"/><rect x="278.56" y="133.86" width="8.63" height="8.63" fill="#222222"/><rect x="287.14" y="133.86" width="8.63" height="8.63" fill="#3c3c3c"/><rect x="295.72" y="133.86" width="8.63" height="8.63" fill="#2c2c2c"/><rect x="269.98" y="142.44" width="8.63" height="8.63" fill="#404040"/><rect x="278.56" y="142.44" width="8.63" height="8.63" fill="#585858"/><rect x="287.14" y="142.44" width="8.63" height="8.63" fill="#888888"/><rect x="295.72" y="142.44" width="8.63" height="8.63" fill="#a86060"/><rect x="304.30" y="142.44" width="8.63" height="8.63" fill="#404040"/><rect x="261.40" y="151.02" width="8.63" height="8.63" fill="#0a0a0a"/><rect x="269.98" y="151.02" width="8.63" height="8.63" fill="#686868"/><rect x="278.56" y="151.02" width="8.63" height="8.63" fill="#989898"/><rect x="287.14" y="151.02" width="8.63" height="8.63" fill="#909090"/><rect x="295.72" y="151.02" width="8.63" height="8.63" fill="#b87a7a"/><rect x="304.30" y="151.02" width="8.63" height="8.63" fill="#787878"/><rect x="312.88" y="151.02" width="8.63" height="8.63" fill="#303030"/><rect x="261.40" y="159.60" width="8.63" height="8.63" fill="#2c2c2c"/><rect x="269.98" y="159.60" width="8.63" height="8.63" fill="#808080"/><rect x="278.56" y="159.60" width="8.63" height="8.63" fill="#b8b8b8"/><rect x="287.14" y="159.60" width="8.63" height="8.63" fill="#989898"/><rect x="295.72" y="159.60" width="8.63" height="8.63" fill="#c89898"/><rect x="304.30" y="159.60" width="8.63" height="8.63" fill="#c89898"/><rect x="312.88" y="159.60" width="8.63" height="8.63" fill="#903838"/><rect x="321.46" y="159.60" width="8.63" height="8.63" fill="#080808"/><rect x="252.82" y="168.18" width="8.63" height="8.63" fill="#040404"/><rect x="261.40" y="168.18" width="8.63" height="8.63" fill="#303030"/><rect x="269.98" y="168.18" width="8.63" height="8.63" fill="#808080"/><rect x="278.56" y="168.18" width="8.63" height="8.63" fill="#989898"/><rect x="287.14" y="168.18" width="8.63" height="8.63" fill="#a8a8a8"/><rect x="295.72" y="168.18" width="8.63" height="8.63" fill="#989898"/><rect x="304.30" y="168.18" width="8.63" height="8.63" fill="#686868"/><rect x="312.88" y="168.18" width="8.63" height="8.63" fill="#704040"/><rect x="269.98" y="176.76" width="8.63" height="8.63" fill="#808080"/><rect x="278.56" y="176.76" width="8.63" height="8.63" fill="#a07878"/><rect x="287.14" y="176.76" width="8.63" height="8.63" fill="#a0a0a0"/><rect x="295.72" y="176.76" width="8.63" height="8.63" fill="#989898"/><rect x="304.30" y="176.76" width="8.63" height="8.63" fill="#585858"/><rect x="269.98" y="185.34" width="8.63" height="8.63" fill="#202020"/><rect x="278.56" y="185.34" width="8.63" height="8.63" fill="#404040"/><rect x="287.14" y="185.34" width="8.63" height="8.63" fill="#484848"/><rect x="295.72" y="185.34" width="8.63" height="8.63" fill="#404040"/><rect x="304.30" y="185.34" width="8.63" height="8.63" fill="#282828"/><rect x="312.88" y="185.34" width="8.63" height="8.63" fill="#101010"/><rect x="278.56" y="193.92" width="8.63" height="8.63" fill="#040404"/>
<rect x="332.48" y="116.70" width="85.8" height="85.8" fill="#141414"/><rect x="358.22" y="116.70" width="8.63" height="8.63" fill="#0c0c0c"/><rect x="366.80" y="116.70" width="8.63" height="8.63" fill="#080808"/><rect x="375.38" y="116.70" width="8.63" height="8.63" fill="#080808"/><rect x="392.54" y="116.70" width="8.63" height="8.63" fill="#040404"/><rect x="401.12" y="125.28" width="8.63" height="8.63" fill="#0c0c0c"/><rect x="358.22" y="133.86" width="8.63" height="8.63" fill="#080808"/><rect x="366.80" y="133.86" width="8.63" height="8.63" fill="#282828"/><rect x="375.38" y="133.86" width="8.63" height="8.63" fill="#282828"/><rect x="383.96" y="133.86" width="8.63" height="8.63" fill="#383838"/><rect x="392.54" y="133.86" width="8.63" height="8.63" fill="#0c0c0c"/><rect x="349.64" y="142.44" width="8.63" height="8.63" fill="#0c0c0c"/><rect x="358.22" y="142.44" width="8.63" height="8.63" fill="#404040"/><rect x="366.80" y="142.44" width="8.63" height="8.63" fill="#707070"/><rect x="375.38" y="142.44" width="8.63" height="8.63" fill="#888888"/><rect x="383.96" y="142.44" width="8.63" height="8.63" fill="#c07070"/><rect x="392.54" y="142.44" width="8.63" height="8.63" fill="#804040"/><rect x="401.12" y="142.44" width="8.63" height="8.63" fill="#0a0a0a"/><rect x="349.64" y="151.02" width="8.63" height="8.63" fill="#1c1c1c"/><rect x="358.22" y="151.02" width="8.63" height="8.63" fill="#787878"/><rect x="366.80" y="151.02" width="8.63" height="8.63" fill="#989898"/><rect x="375.38" y="151.02" width="8.63" height="8.63" fill="#9c9c9c"/><rect x="383.96" y="151.02" width="8.63" height="8.63" fill="#8a8a8a"/><rect x="392.54" y="151.02" width="8.63" height="8.63" fill="#a0a0a0"/><rect x="401.12" y="151.02" width="8.63" height="8.63" fill="#404040"/><rect x="332.48" y="159.60" width="8.63" height="8.63" fill="#020202"/><rect x="349.64" y="159.60" width="8.63" height="8.63" fill="#383838"/><rect x="358.22" y="159.60" width="8.63" height="8.63" fill="#787878"/><rect x="366.80" y="159.60" width="8.63" height="8.63" fill="#b0b0b0"/><rect x="375.38" y="159.60" width="8.63" height="8.63" fill="#a8a8a8"/><rect x="383.96" y="159.60" width="8.63" height="8.63" fill="#b8b8b8"/><rect x="392.54" y="159.60" width="8.63" height="8.63" fill="#989898"/><rect x="401.12" y="159.60" width="8.63" height="8.63" fill="#7a4444"/><rect x="332.48" y="168.18" width="8.63" height="8.63" fill="#020202"/><rect x="349.64" y="168.18" width="8.63" height="8.63" fill="#404040"/><rect x="358.22" y="168.18" width="8.63" height="8.63" fill="#989898"/><rect x="366.80" y="168.18" width="8.63" height="8.63" fill="#989898"/><rect x="375.38" y="168.18" width="8.63" height="8.63" fill="#989898"/><rect x="383.96" y="168.18" width="8.63" height="8.63" fill="#a0a0a0"/><rect x="392.54" y="168.18" width="8.63" height="8.63" fill="#909090"/><rect x="401.12" y="168.18" width="8.63" height="8.63" fill="#404040"/><rect x="349.64" y="176.76" width="8.63" height="8.63" fill="#0c0c0c"/><rect x="358.22" y="176.76" width="8.63" height="8.63" fill="#505050"/><rect x="366.80" y="176.76" width="8.63" height="8.63" fill="#808080"/><rect x="375.38" y="176.76" width="8.63" height="8.63" fill="#989898"/><rect x="383.96" y="176.76" width="8.63" height="8.63" fill="#989898"/><rect x="392.54" y="176.76" width="8.63" height="8.63" fill="#585858"/><rect x="401.12" y="176.76" width="8.63" height="8.63" fill="#181818"/><rect x="366.80" y="185.34" width="8.63" height="8.63" fill="#505050"/><rect x="375.38" y="185.34" width="8.63" height="8.63" fill="#505050"/><rect x="383.96" y="185.34" width="8.63" height="8.63" fill="#707070"/><rect x="392.54" y="185.34" width="8.63" height="8.63" fill="#383838"/><rect x="401.12" y="185.34" width="8.63" height="8.63" fill="#0c0c0c"/><rect x="375.38" y="193.92" width="8.63" height="8.63" fill="#080808"/><rect x="392.54" y="193.92" width="8.63" height="8.63" fill="#040404"/>
<rect x="420.72" y="116.70" width="85.8" height="85.8" fill="#121212"/><rect x="437.88" y="116.70" width="8.63" height="8.63" fill="#080808"/><rect x="446.46" y="116.70" width="8.63" height="8.63" fill="#040404"/><rect x="455.04" y="116.70" width="8.63" height="8.63" fill="#040404"/><rect x="472.20" y="116.70" width="8.63" height="8.63" fill="#161616"/><rect x="489.36" y="125.28" width="8.63" height="8.63" fill="#0c0c0c"/><rect x="455.04" y="133.86" width="8.63" height="8.63" fill="#303030"/><rect x="463.62" y="133.86" width="8.63" height="8.63" fill="#282828"/><rect x="472.20" y="133.86" width="8.63" height="8.63" fill="#181818"/><rect x="446.46" y="142.44" width="8.63" height="8.63" fill="#303030"/><rect x="455.04" y="142.44" width="8.63" height="8.63" fill="#787878"/><rect x="463.62" y="142.44" width="8.63" height="8.63" fill="#888888"/><rect x="472.20" y="142.44" width="8.63" height="8.63" fill="#b06060"/><rect x="480.78" y="142.44" width="8.63" height="8.63" fill="#703838"/><rect x="489.36" y="142.44" width="8.63" height="8.63" fill="#080808"/><rect x="437.88" y="151.02" width="8.63" height="8.63" fill="#222222"/><rect x="446.46" y="151.02" width="8.63" height="8.63" fill="#484848"/><rect x="455.04" y="151.02" width="8.63" height="8.63" fill="#b8b8b8"/><rect x="463.62" y="151.02" width="8.63" height="8.63" fill="#888888"/><rect x="472.20" y="151.02" width="8.63" height="8.63" fill="#d09898"/><rect x="480.78" y="151.02" width="8.63" height="8.63" fill="#989898"/><rect x="489.36" y="151.02" width="8.63" height="8.63" fill="#303030"/><rect x="437.88" y="159.60" width="8.63" height="8.63" fill="#404040"/><rect x="446.46" y="159.60" width="8.63" height="8.63" fill="#989898"/><rect x="455.04" y="159.60" width="8.63" height="8.63" fill="#a0a0a0"/><rect x="463.62" y="159.60" width="8.63" height="8.63" fill="#909090"/><rect x="472.20" y="159.60" width="8.63" height="8.63" fill="#a0a0a0"/><rect x="480.78" y="159.60" width="8.63" height="8.63" fill="#a0a0a0"/><rect x="489.36" y="159.60" width="8.63" height="8.63" fill="#8a4848"/><rect x="437.88" y="168.18" width="8.63" height="8.63" fill="#1c1c1c"/><rect x="446.46" y="168.18" width="8.63" height="8.63" fill="#a0a0a0"/><rect x="455.04" y="168.18" width="8.63" height="8.63" fill="#a8a8a8"/><rect x="463.62" y="168.18" width="8.63" height="8.63" fill="#909090"/><rect x="472.20" y="168.18" width="8.63" height="8.63" fill="#a0a0a0"/><rect x="480.78" y="168.18" width="8.63" height="8.63" fill="#888888"/><rect x="489.36" y="168.18" width="8.63" height="8.63" fill="#484848"/><rect x="437.88" y="176.76" width="8.63" height="8.63" fill="#181818"/><rect x="446.46" y="176.76" width="8.63" height="8.63" fill="#888888"/><rect x="455.04" y="176.76" width="8.63" height="8.63" fill="#989898"/><rect x="463.62" y="176.76" width="8.63" height="8.63" fill="#989898"/><rect x="472.20" y="176.76" width="8.63" height="8.63" fill="#909090"/><rect x="480.78" y="176.76" width="8.63" height="8.63" fill="#686868"/><rect x="489.36" y="176.76" width="8.63" height="8.63" fill="#202020"/><rect x="446.46" y="185.34" width="8.63" height="8.63" fill="#282828"/><rect x="455.04" y="185.34" width="8.63" height="8.63" fill="#404040"/><rect x="463.62" y="185.34" width="8.63" height="8.63" fill="#383838"/><rect x="472.20" y="185.34" width="8.63" height="8.63" fill="#303030"/><rect x="480.78" y="185.34" width="8.63" height="8.63" fill="#282828"/><rect x="489.36" y="185.34" width="8.63" height="8.63" fill="#080808"/><rect x="463.62" y="193.92" width="8.63" height="8.63" fill="#181818"/><rect x="472.20" y="193.92" width="8.63" height="8.63" fill="#0a0a0a"/>
<rect x="508.96" y="116.70" width="85.8" height="85.8" fill="#121212"/><rect x="534.70" y="116.70" width="8.63" height="8.63" fill="#040404"/><rect x="551.86" y="116.70" width="8.63" height="8.63" fill="#040404"/><rect x="543.28" y="125.28" width="8.63" height="8.63" fill="#0c0c0c"/><rect x="551.86" y="125.28" width="8.63" height="8.63" fill="#1a1a1a"/><rect x="577.60" y="125.28" width="8.63" height="8.63" fill="#0c0c0c"/><rect x="543.28" y="133.86" width="8.63" height="8.63" fill="#1e1e1e"/><rect x="551.86" y="133.86" width="8.63" height="8.63" fill="#383838"/><rect x="560.44" y="133.86" width="8.63" height="8.63" fill="#383838"/><rect x="569.02" y="133.86" width="8.63" height="8.63" fill="#181818"/><rect x="534.70" y="142.44" width="8.63" height="8.63" fill="#383838"/><rect x="543.28" y="142.44" width="8.63" height="8.63" fill="#787878"/><rect x="551.86" y="142.44" width="8.63" height="8.63" fill="#888888"/><rect x="560.44" y="142.44" width="8.63" height="8.63" fill="#a85858"/><rect x="569.02" y="142.44" width="8.63" height="8.63" fill="#484848"/><rect x="526.12" y="151.02" width="8.63" height="8.63" fill="#0c0c0c"/><rect x="534.70" y="151.02" width="8.63" height="8.63" fill="#606060"/><rect x="543.28" y="151.02" width="8.63" height="8.63" fill="#b8b8b8"/><rect x="551.86" y="151.02" width="8.63" height="8.63" fill="#a0a0a0"/><rect x="560.44" y="151.02" width="8.63" height="8.63" fill="#888888"/><rect x="569.02" y="151.02" width="8.63" height="8.63" fill="#808080"/><rect x="577.60" y="151.02" width="8.63" height="8.63" fill="#282828"/><rect x="586.18" y="151.02" width="8.63" height="8.63" fill="#040404"/><rect x="526.12" y="159.60" width="8.63" height="8.63" fill="#181818"/><rect x="534.70" y="159.60" width="8.63" height="8.63" fill="#888888"/><rect x="543.28" y="159.60" width="8.63" height="8.63" fill="#989898"/><rect x="551.86" y="159.60" width="8.63" height="8.63" fill="#a8a8a8"/><rect x="560.44" y="159.60" width="8.63" height="8.63" fill="#c09090"/><rect x="569.02" y="159.60" width="8.63" height="8.63" fill="#989898"/><rect x="577.60" y="159.60" width="8.63" height="8.63" fill="#7a4444"/><rect x="517.54" y="168.18" width="8.63" height="8.63" fill="#040404"/><rect x="526.12" y="168.18" width="8.63" height="8.63" fill="#1c1c1c"/><rect x="534.70" y="168.18" width="8.63" height="8.63" fill="#686868"/><rect x="543.28" y="168.18" width="8.63" height="8.63" fill="#989898"/><rect x="551.86" y="168.18" width="8.63" height="8.63" fill="#a0a0a0"/><rect x="560.44" y="168.18" width="8.63" height="8.63" fill="#989898"/><rect x="569.02" y="168.18" width="8.63" height="8.63" fill="#989898"/><rect x="577.60" y="168.18" width="8.63" height="8.63" fill="#484848"/><rect x="526.12" y="176.76" width="8.63" height="8.63" fill="#040404"/><rect x="534.70" y="176.76" width="8.63" height="8.63" fill="#707070"/><rect x="543.28" y="176.76" width="8.63" height="8.63" fill="#808080"/><rect x="551.86" y="176.76" width="8.63" height="8.63" fill="#989898"/><rect x="560.44" y="176.76" width="8.63" height="8.63" fill="#888888"/><rect x="569.02" y="176.76" width="8.63" height="8.63" fill="#686868"/><rect x="577.60" y="176.76" width="8.63" height="8.63" fill="#282828"/><rect x="534.70" y="185.34" width="8.63" height="8.63" fill="#141414"/><rect x="543.28" y="185.34" width="8.63" height="8.63" fill="#484848"/><rect x="551.86" y="185.34" width="8.63" height="8.63" fill="#484848"/><rect x="560.44" y="185.34" width="8.63" height="8.63" fill="#505050"/><rect x="569.02" y="185.34" width="8.63" height="8.63" fill="#202020"/><rect x="577.60" y="185.34" width="8.63" height="8.63" fill="#101010"/><rect x="586.18" y="185.34" width="8.63" height="8.63" fill="#080808"/><rect x="543.28" y="193.92" width="8.63" height="8.63" fill="#181818"/><rect x="551.86" y="193.92" width="8.63" height="8.63" fill="#0a0a0a"/>
<rect x="597.20" y="116.70" width="85.8" height="85.8" fill="#101010"/><rect x="622.94" y="116.70" width="8.63" height="8.63" fill="#020202"/><rect x="631.52" y="116.70" width="8.63" height="8.63" fill="#141414"/><rect x="631.52" y="125.28" width="8.63" height="8.63" fill="#040404"/><rect x="640.10" y="125.28" width="8.63" height="8.63" fill="#040404"/><rect x="657.26" y="125.28" width="8.63" height="8.63" fill="#040404"/><rect x="622.94" y="133.86" width="8.63" height="8.63" fill="#0c0c0c"/><rect x="631.52" y="133.86" width="8.63" height="8.63" fill="#222222"/><rect x="640.10" y="133.86" width="8.63" height="8.63" fill="#222222"/><rect x="648.68" y="133.86" width="8.63" height="8.63" fill="#303030"/><rect x="657.26" y="133.86" width="8.63" height="8.63" fill="#040404"/><rect x="614.36" y="142.44" width="8.63" height="8.63" fill="#060606"/><rect x="622.94" y="142.44" width="8.63" height="8.63" fill="#303030"/><rect x="631.52" y="142.44" width="8.63" height="8.63" fill="#808080"/><rect x="640.10" y="142.44" width="8.63" height="8.63" fill="#686868"/><rect x="648.68" y="142.44" width="8.63" height="8.63" fill="#b06868"/><rect x="657.26" y="142.44" width="8.63" height="8.63" fill="#603838"/><rect x="665.84" y="142.44" width="8.63" height="8.63" fill="#080808"/><rect x="614.36" y="151.02" width="8.63" height="8.63" fill="#1c1c1c"/><rect x="622.94" y="151.02" width="8.63" height="8.63" fill="#787878"/><rect x="631.52" y="151.02" width="8.63" height="8.63" fill="#a0a0a0"/><rect x="640.10" y="151.02" width="8.63" height="8.63" fill="#b0b0b0"/><rect x="648.68" y="151.02" width="8.63" height="8.63" fill="#b88888"/><rect x="657.26" y="151.02" width="8.63" height="8.63" fill="#986464"/><rect x="665.84" y="151.02" width="8.63" height="8.63" fill="#2c2c2c"/><rect x="614.36" y="159.60" width="8.63" height="8.63" fill="#262626"/><rect x="622.94" y="159.60" width="8.63" height="8.63" fill="#787878"/><rect x="631.52" y="159.60" width="8.63" height="8.63" fill="#a0a0a0"/><rect x="640.10" y="159.60" width="8.63" height="8.63" fill="#888888"/><rect x="648.68" y="159.60" width="8.63" height="8.63" fill="#d0a8a8"/><rect x="657.26" y="159.60" width="8.63" height="8.63" fill="#989898"/><rect x="665.84" y="159.60" width="8.63" height="8.63" fill="#8a4c4c"/><rect x="614.36" y="168.18" width="8.63" height="8.63" fill="#2e2e2e"/><rect x="622.94" y="168.18" width="8.63" height="8.63" fill="#787878"/><rect x="631.52" y="168.18" width="8.63" height="8.63" fill="#b8b8b8"/><rect x="640.10" y="168.18" width="8.63" height="8.63" fill="#b0b0b0"/><rect x="648.68" y="168.18" width="8.63" height="8.63" fill="#b0b0b0"/><rect x="657.26" y="168.18" width="8.63" height="8.63" fill="#989898"/><rect x="665.84" y="168.18" width="8.63" height="8.63" fill="#383838"/><rect x="674.42" y="168.18" width="8.63" height="8.63" fill="#080808"/><rect x="614.36" y="176.76" width="8.63" height="8.63" fill="#121212"/><rect x="622.94" y="176.76" width="8.63" height="8.63" fill="#484848"/><rect x="631.52" y="176.76" width="8.63" height="8.63" fill="#c89090"/><rect x="640.10" y="176.76" width="8.63" height="8.63" fill="#a8a8a8"/><rect x="648.68" y="176.76" width="8.63" height="8.63" fill="#a8a8a8"/><rect x="657.26" y="176.76" width="8.63" height="8.63" fill="#787878"/><rect x="665.84" y="176.76" width="8.63" height="8.63" fill="#303030"/><rect x="622.94" y="185.34" width="8.63" height="8.63" fill="#303030"/><rect x="631.52" y="185.34" width="8.63" height="8.63" fill="#484848"/><rect x="640.10" y="185.34" width="8.63" height="8.63" fill="#484848"/><rect x="648.68" y="185.34" width="8.63" height="8.63" fill="#484848"/><rect x="657.26" y="185.34" width="8.63" height="8.63" fill="#282828"/><rect x="665.84" y="185.34" width="8.63" height="8.63" fill="#060606"/><rect x="631.52" y="193.92" width="8.63" height="8.63" fill="#080808"/><rect x="640.10" y="193.92" width="8.63" height="8.63" fill="#181818"/>
<text x="667.50" y="38.20" font-size="9" text-anchor="middle" fill="#fff" textLength="25.8" lengthAdjust="spacingAndGlyphs" >65 nm</text>
<rect x="664" y="40.6" width="8.7" height="3.1" fill="#fff"/>
<text x="2" y="220.3" font-size="9" font-weight="bold">b</text>
<text x="176.20" y="225.60" font-size="10" text-anchor="middle" textLength="235" lengthAdjust="spacingAndGlyphs" >Discriminative Power of Each Feature Dimension</text>
<rect x="41.00" y="279.17" width="1.41" height="109.03" fill="#ff7c63"/><rect x="42.40" y="286.71" width="1.41" height="101.49" fill="#ffc0b0"/><rect x="43.81" y="254.48" width="1.41" height="133.72" fill="#ffa08c"/><rect x="45.21" y="253.70" width="1.41" height="134.50" fill="#ff7c63"/><rect x="46.62" y="254.22" width="1.41" height="133.98" fill="#ff7c63"/><rect x="48.03" y="267.74" width="1.41" height="120.46" fill="#ff8a72"/><rect x="49.43" y="277.61" width="1.41" height="110.59" fill="#ff7c63"/><rect x="50.99" y="354.28" width="1.1" height="33.92" fill="#4caf50"/><rect x="52.24" y="244.61" width="1.41" height="143.59" fill="#ff7c63"/><rect x="53.65" y="279.95" width="1.41" height="108.25" fill="#ff8a72"/><rect x="55.21" y="341.81" width="1.1" height="46.39" fill="#4caf50"/><rect x="56.46" y="309.06" width="1.41" height="79.14" fill="#ff7c63"/><rect x="57.87" y="268.52" width="1.41" height="119.68" fill="#ff8a72"/><rect x="59.27" y="267.74" width="1.41" height="120.46" fill="#ff7c63"/><rect x="60.68" y="253.70" width="1.41" height="134.50" fill="#ff7c63"/><rect x="62.09" y="295.81" width="1.41" height="92.39" fill="#ff8a72"/><rect x="63.49" y="309.06" width="1.41" height="79.14" fill="#ff7c63"/><rect x="65.05" y="324.92" width="1.1" height="63.28" fill="#ffa51a"/><rect x="66.30" y="280.99" width="1.41" height="107.21" fill="#ff7c63"/><rect x="67.71" y="266.70" width="1.41" height="121.50" fill="#ff8a72"/><rect x="69.11" y="282.55" width="1.41" height="105.65" fill="#ffa08c"/><rect x="70.52" y="263.58" width="1.41" height="124.62" fill="#ffc0b0"/><rect x="71.93" y="272.94" width="1.41" height="115.26" fill="#ff7c63"/><rect x="73.33" y="263.58" width="1.41" height="124.62" fill="#ff8a72"/><rect x="74.74" y="252.92" width="1.41" height="135.28" fill="#ff8a72"/><rect x="76.14" y="276.05" width="1.41" height="112.15" fill="#ff8a72"/><rect x="77.55" y="274.50" width="1.41" height="113.70" fill="#ff8a72"/><rect x="79.11" y="317.12" width="1.1" height="71.08" fill="#ffa51a"/><rect x="80.36" y="257.34" width="1.41" height="130.86" fill="#ff7c63"/><rect x="81.77" y="254.74" width="1.41" height="133.46" fill="#ff7c63"/><rect x="83.17" y="267.22" width="1.41" height="120.98" fill="#ff7c63"/><rect x="84.58" y="286.71" width="1.41" height="101.49" fill="#ff7c63"/><rect x="85.99" y="282.29" width="1.41" height="105.91" fill="#ff8a72"/><rect x="87.39" y="267.74" width="1.41" height="120.46" fill="#ff8a72"/><rect x="88.80" y="273.72" width="1.41" height="114.48" fill="#ff8a72"/><rect x="90.20" y="274.24" width="1.41" height="113.96" fill="#ff7c63"/><rect x="91.61" y="275.54" width="1.41" height="112.66" fill="#ff7c63"/><rect x="93.02" y="278.13" width="1.41" height="110.07" fill="#ff7c63"/><rect x="94.42" y="267.74" width="1.41" height="120.46" fill="#ff8a72"/><rect x="95.83" y="269.04" width="1.41" height="119.16" fill="#ffc0b0"/><rect x="97.23" y="262.02" width="1.41" height="126.18" fill="#ffa08c"/><rect x="98.64" y="292.69" width="1.41" height="95.51" fill="#ff7c63"/><rect x="100.05" y="263.06" width="1.41" height="125.14" fill="#ff7c63"/><rect x="101.45" y="261.50" width="1.41" height="126.70" fill="#ffc0b0"/><rect x="102.86" y="252.14" width="1.41" height="136.06" fill="#ff8a72"/><rect x="104.27" y="276.05" width="1.41" height="112.15" fill="#ff8a72"/><rect x="105.67" y="258.64" width="1.41" height="129.56" fill="#ff7c63"/><rect x="107.08" y="276.05" width="1.41" height="112.15" fill="#ff8a72"/><rect x="108.48" y="262.28" width="1.41" height="125.92" fill="#ff8a72"/><rect x="109.89" y="259.42" width="1.41" height="128.78" fill="#ff7c63"/><rect x="111.30" y="279.17" width="1.41" height="109.03" fill="#ff8a72"/><rect x="112.70" y="308.54" width="1.41" height="79.66" fill="#ff7c63"/><rect x="114.11" y="267.48" width="1.41" height="120.72" fill="#ff8a72"/><rect x="115.51" y="267.48" width="1.41" height="120.72" fill="#ff8a72"/><rect x="116.92" y="255.00" width="1.41" height="133.20" fill="#ff7c63"/><rect x="118.33" y="249.80" width="1.41" height="138.40" fill="#ff8a72"/><rect x="119.73" y="267.48" width="1.41" height="120.72" fill="#ff8a72"/><rect x="121.14" y="263.84" width="1.41" height="124.36" fill="#ff7c63"/><rect x="122.54" y="271.90" width="1.41" height="116.30" fill="#ff7c63"/><rect x="123.95" y="304.64" width="1.41" height="83.56" fill="#ff7c63"/><rect x="125.36" y="267.74" width="1.41" height="120.46" fill="#ff8a72"/><rect x="126.76" y="269.56" width="1.41" height="118.64" fill="#ff7c63"/><rect x="128.17" y="252.14" width="1.41" height="136.06" fill="#ffa08c"/><rect x="129.57" y="274.76" width="1.41" height="113.44" fill="#ff8a72"/><rect x="130.98" y="246.95" width="1.41" height="141.25" fill="#ff8a72"/><rect x="132.38" y="301.27" width="1.41" height="86.93" fill="#ffa08c"/><rect x="133.79" y="253.18" width="1.41" height="135.02" fill="#ff8a72"/><rect x="135.20" y="278.39" width="1.41" height="109.81" fill="#ff7c63"/><rect x="136.60" y="270.34" width="1.41" height="117.86" fill="#ff8a72"/><rect x="138.01" y="252.92" width="1.41" height="135.28" fill="#ff8a72"/><rect x="139.57" y="380.79" width="1.1" height="7.41" fill="#4caf50"/><rect x="140.98" y="359.22" width="1.1" height="28.98" fill="#4caf50"/><rect x="142.23" y="261.24" width="1.41" height="126.96" fill="#ffc0b0"/><rect x="143.63" y="249.80" width="1.41" height="138.40" fill="#ff8a72"/><rect x="145.04" y="261.24" width="1.41" height="126.96" fill="#ff7c63"/><rect x="146.44" y="271.90" width="1.41" height="116.30" fill="#ffa08c"/><rect x="147.85" y="262.28" width="1.41" height="125.92" fill="#ff8a72"/><rect x="149.26" y="293.73" width="1.41" height="94.47" fill="#ff8a72"/><rect x="150.66" y="248.25" width="1.41" height="139.95" fill="#ff8a72"/><rect x="152.07" y="267.22" width="1.41" height="120.98" fill="#ff7c63"/><rect x="153.47" y="263.06" width="1.41" height="125.14" fill="#ffa08c"/><rect x="155.04" y="315.04" width="1.1" height="73.16" fill="#ffa51a"/><rect x="156.29" y="261.76" width="1.41" height="126.44" fill="#ffa08c"/><rect x="157.69" y="299.71" width="1.41" height="88.49" fill="#ff8a72"/><rect x="159.25" y="325.96" width="1.1" height="62.24" fill="#ffa51a"/><rect x="160.50" y="311.14" width="1.41" height="77.06" fill="#ff8a72"/><rect x="161.91" y="306.72" width="1.41" height="81.48" fill="#ff8a72"/><rect x="163.32" y="276.83" width="1.41" height="111.37" fill="#ff7c63"/><rect x="164.72" y="265.92" width="1.41" height="122.28" fill="#ff8a72"/><rect x="166.13" y="276.05" width="1.41" height="112.15" fill="#ff7c63"/><rect x="167.53" y="290.87" width="1.41" height="97.33" fill="#ff7c63"/><rect x="168.94" y="288.53" width="1.41" height="99.67" fill="#ff8a72"/><rect x="170.35" y="254.22" width="1.41" height="133.98" fill="#ff7c63"/><rect x="171.75" y="266.70" width="1.41" height="121.50" fill="#ff7c63"/><rect x="173.16" y="271.90" width="1.41" height="116.30" fill="#ff8a72"/><rect x="174.56" y="276.83" width="1.41" height="111.37" fill="#ff8a72"/><rect x="175.97" y="292.17" width="1.41" height="96.03" fill="#ff7c63"/><rect x="177.38" y="296.59" width="1.41" height="91.61" fill="#ffa08c"/><rect x="178.78" y="272.42" width="1.41" height="115.78" fill="#ff8a72"/><rect x="180.19" y="271.12" width="1.41" height="117.08" fill="#ff7c63"/><rect x="181.75" y="337.39" width="1.1" height="50.81" fill="#ffa51a"/><rect x="183.00" y="263.84" width="1.41" height="124.36" fill="#ff8a72"/><rect x="184.56" y="317.64" width="1.1" height="70.56" fill="#ffa51a"/><rect x="185.81" y="255.78" width="1.41" height="132.42" fill="#ff8a72"/><rect x="187.22" y="256.56" width="1.41" height="131.64" fill="#ff8a72"/><rect x="188.62" y="311.14" width="1.41" height="77.06" fill="#ff7c63"/><rect x="190.03" y="257.86" width="1.41" height="130.34" fill="#ffc0b0"/><rect x="191.44" y="270.34" width="1.41" height="117.86" fill="#ff8a72"/><rect x="192.84" y="271.12" width="1.41" height="117.08" fill="#ff8a72"/><rect x="194.25" y="257.08" width="1.41" height="131.12" fill="#ff8a72"/><rect x="195.66" y="308.54" width="1.41" height="79.66" fill="#ffc0b0"/><rect x="197.06" y="287.23" width="1.41" height="100.97" fill="#ff7c63"/><rect x="198.47" y="254.22" width="1.41" height="133.98" fill="#ff8a72"/><rect x="199.87" y="286.45" width="1.41" height="101.75" fill="#ff8a72"/><rect x="201.28" y="249.80" width="1.41" height="138.40" fill="#ff7c63"/><rect x="202.68" y="273.20" width="1.41" height="115.00" fill="#ff7c63"/><rect x="204.09" y="246.95" width="1.41" height="141.25" fill="#ff7c63"/><rect x="205.50" y="273.20" width="1.41" height="115.00" fill="#ff7c63"/><rect x="206.90" y="278.39" width="1.41" height="109.81" fill="#ff7c63"/><rect x="208.31" y="284.89" width="1.41" height="103.31" fill="#ff7c63"/><rect x="209.72" y="283.59" width="1.41" height="104.61" fill="#ff7c63"/><rect x="211.12" y="259.42" width="1.41" height="128.78" fill="#ffa08c"/><rect x="212.53" y="279.95" width="1.41" height="108.25" fill="#ff8a72"/><rect x="213.93" y="282.03" width="1.41" height="106.17" fill="#ff8a72"/><rect x="215.34" y="267.48" width="1.41" height="120.72" fill="#ffc0b0"/><rect x="216.74" y="287.23" width="1.41" height="100.97" fill="#ff8a72"/><rect x="218.15" y="307.76" width="1.41" height="80.44" fill="#ffc0b0"/><rect x="219.56" y="252.40" width="1.41" height="135.80" fill="#ff8a72"/><rect x="220.96" y="295.81" width="1.41" height="92.39" fill="#ff8a72"/><rect x="222.37" y="286.45" width="1.41" height="101.75" fill="#ff7c63"/><rect x="223.78" y="254.22" width="1.41" height="133.98" fill="#ff8a72"/><rect x="225.18" y="246.95" width="1.41" height="141.25" fill="#ff8a72"/><rect x="226.59" y="296.59" width="1.41" height="91.61" fill="#ff7c63"/><rect x="227.99" y="260.72" width="1.41" height="127.48" fill="#ffa08c"/><rect x="229.40" y="236.81" width="1.41" height="151.39" fill="#ff7c63"/><rect x="230.80" y="277.61" width="1.41" height="110.59" fill="#ff8a72"/><rect x="232.37" y="315.04" width="1.1" height="73.16" fill="#ffa51a"/><rect x="233.62" y="293.73" width="1.41" height="94.47" fill="#ff7c63"/><rect x="235.02" y="249.80" width="1.41" height="138.40" fill="#ff8a72"/><rect x="236.43" y="248.51" width="1.41" height="139.69" fill="#ff8a72"/><rect x="237.83" y="245.91" width="1.41" height="142.29" fill="#ff7c63"/><rect x="239.24" y="254.22" width="1.41" height="133.98" fill="#ffa08c"/><rect x="240.65" y="268.78" width="1.41" height="119.42" fill="#ff7c63"/><rect x="242.05" y="254.22" width="1.41" height="133.98" fill="#ff8a72"/><rect x="243.46" y="257.86" width="1.41" height="130.34" fill="#ff8a72"/><rect x="244.86" y="290.09" width="1.41" height="98.11" fill="#ff7c63"/><rect x="246.27" y="278.39" width="1.41" height="109.81" fill="#ff7c63"/><rect x="247.68" y="282.03" width="1.41" height="106.17" fill="#ff8a72"/><rect x="249.08" y="269.56" width="1.41" height="118.64" fill="#ff8a72"/><rect x="250.49" y="246.95" width="1.41" height="141.25" fill="#ff7c63"/><rect x="251.89" y="247.73" width="1.41" height="140.47" fill="#ff8a72"/><rect x="253.30" y="261.50" width="1.41" height="126.70" fill="#ff7c63"/><rect x="254.71" y="271.90" width="1.41" height="116.30" fill="#ff7c63"/><rect x="256.11" y="272.42" width="1.41" height="115.78" fill="#ff7c63"/><rect x="257.52" y="276.83" width="1.41" height="111.37" fill="#ff7c63"/><rect x="259.08" y="315.04" width="1.1" height="73.16" fill="#ffa51a"/><rect x="260.33" y="268.78" width="1.41" height="119.42" fill="#ff7c63"/><rect x="261.74" y="245.91" width="1.41" height="142.29" fill="#ff8a72"/><rect x="263.14" y="267.48" width="1.41" height="120.72" fill="#ff7c63"/><rect x="264.55" y="244.61" width="1.41" height="143.59" fill="#ffa08c"/><rect x="265.95" y="268.78" width="1.41" height="119.42" fill="#ff8a72"/><rect x="267.36" y="293.99" width="1.41" height="94.21" fill="#ff7c63"/><rect x="268.77" y="285.67" width="1.41" height="102.53" fill="#ffc0b0"/><rect x="270.17" y="287.23" width="1.41" height="100.97" fill="#ffa08c"/><rect x="271.58" y="279.17" width="1.41" height="109.03" fill="#ff7c63"/><rect x="272.99" y="268.78" width="1.41" height="119.42" fill="#ffa08c"/><rect x="274.39" y="252.14" width="1.41" height="136.06" fill="#ff7c63"/><rect x="275.80" y="238.89" width="1.41" height="149.31" fill="#ff8a72"/><rect x="277.20" y="265.14" width="1.41" height="123.06" fill="#ffc0b0"/><rect x="278.61" y="276.83" width="1.41" height="111.37" fill="#ff7c63"/><rect x="280.01" y="257.86" width="1.41" height="130.34" fill="#ff8a72"/><rect x="281.42" y="257.34" width="1.41" height="130.86" fill="#ffa08c"/><rect x="282.83" y="236.03" width="1.41" height="152.17" fill="#ff8a72"/><rect x="284.23" y="258.64" width="1.41" height="129.56" fill="#ff8a72"/><rect x="285.64" y="252.92" width="1.41" height="135.28" fill="#ffc0b0"/><rect x="287.05" y="283.85" width="1.41" height="104.35" fill="#ff8a72"/><rect x="288.45" y="287.23" width="1.41" height="100.97" fill="#ff8a72"/><rect x="289.86" y="255.26" width="1.41" height="132.94" fill="#ff7c63"/><rect x="291.26" y="248.51" width="1.41" height="139.69" fill="#ff8a72"/><rect x="292.67" y="266.44" width="1.41" height="121.76" fill="#ff8a72"/><rect x="294.07" y="295.03" width="1.41" height="93.17" fill="#ff7c63"/><rect x="295.48" y="259.94" width="1.41" height="128.26" fill="#ff7c63"/><rect x="296.89" y="248.51" width="1.41" height="139.69" fill="#ff8a72"/><rect x="298.29" y="289.83" width="1.41" height="98.37" fill="#ff7c63"/><rect x="299.70" y="292.95" width="1.41" height="95.25" fill="#ff7c63"/><rect x="301.10" y="256.56" width="1.41" height="131.64" fill="#ff8a72"/><rect x="302.51" y="303.60" width="1.41" height="84.60" fill="#ff8a72"/><rect x="303.92" y="253.96" width="1.41" height="134.24" fill="#ff7c63"/><rect x="305.32" y="296.33" width="1.41" height="91.87" fill="#ff8a72"/><rect x="306.73" y="245.13" width="1.41" height="143.07" fill="#ff7c63"/><rect x="308.13" y="263.32" width="1.41" height="124.88" fill="#ff8a72"/><rect x="309.54" y="251.36" width="1.41" height="136.84" fill="#ff8a72"/>
<rect x="27.8" y="228.4" width="296.90" height="159.80" fill="none" stroke="#8a8a8a" stroke-width="1"/>
<line x1="24.8" y1="366.50" x2="27.8" y2="366.50" stroke="#444" stroke-width="0.8"/>
<text x="11.10" y="369.55" font-size="8.2" fill="#222" textLength="9.7" lengthAdjust="spacingAndGlyphs" >10</text>
<text x="20.70" y="366.40" font-size="5.8" fill="#222" >0</text>
<line x1="26.0" y1="384.67" x2="27.8" y2="384.67" stroke="#666" stroke-width="0.5"/>
<line x1="26.0" y1="380.09" x2="27.8" y2="380.09" stroke="#666" stroke-width="0.5"/>
<line x1="26.0" y1="376.84" x2="27.8" y2="376.84" stroke="#666" stroke-width="0.5"/>
<line x1="26.0" y1="374.32" x2="27.8" y2="374.32" stroke="#666" stroke-width="0.5"/>
<line x1="26.0" y1="372.27" x2="27.8" y2="372.27" stroke="#666" stroke-width="0.5"/>
<line x1="26.0" y1="370.53" x2="27.8" y2="370.53" stroke="#666" stroke-width="0.5"/>
<line x1="26.0" y1="369.02" x2="27.8" y2="369.02" stroke="#666" stroke-width="0.5"/>
<line x1="26.0" y1="367.69" x2="27.8" y2="367.69" stroke="#666" stroke-width="0.5"/>
<line x1="24.8" y1="340.51" x2="27.8" y2="340.51" stroke="#444" stroke-width="0.8"/>
<text x="11.10" y="343.56" font-size="8.2" fill="#222" textLength="9.7" lengthAdjust="spacingAndGlyphs" >10</text>
<text x="20.70" y="340.41" font-size="5.8" fill="#222" >1</text>
<line x1="26.0" y1="358.68" x2="27.8" y2="358.68" stroke="#666" stroke-width="0.5"/>
<line x1="26.0" y1="354.10" x2="27.8" y2="354.10" stroke="#666" stroke-width="0.5"/>
<line x1="26.0" y1="350.85" x2="27.8" y2="350.85" stroke="#666" stroke-width="0.5"/>
<line x1="26.0" y1="348.33" x2="27.8" y2="348.33" stroke="#666" stroke-width="0.5"/>
<line x1="26.0" y1="346.28" x2="27.8" y2="346.28" stroke="#666" stroke-width="0.5"/>
<line x1="26.0" y1="344.54" x2="27.8" y2="344.54" stroke="#666" stroke-width="0.5"/>
<line x1="26.0" y1="343.03" x2="27.8" y2="343.03" stroke="#666" stroke-width="0.5"/>
<line x1="26.0" y1="341.70" x2="27.8" y2="341.70" stroke="#666" stroke-width="0.5"/>
<line x1="24.8" y1="314.52" x2="27.8" y2="314.52" stroke="#444" stroke-width="0.8"/>
<text x="11.10" y="317.57" font-size="8.2" fill="#222" textLength="9.7" lengthAdjust="spacingAndGlyphs" >10</text>
<text x="20.70" y="314.42" font-size="5.8" fill="#222" >2</text>
<line x1="26.0" y1="332.69" x2="27.8" y2="332.69" stroke="#666" stroke-width="0.5"/>
<line x1="26.0" y1="328.11" x2="27.8" y2="328.11" stroke="#666" stroke-width="0.5"/>
<line x1="26.0" y1="324.86" x2="27.8" y2="324.86" stroke="#666" stroke-width="0.5"/>
<line x1="26.0" y1="322.34" x2="27.8" y2="322.34" stroke="#666" stroke-width="0.5"/>
<line x1="26.0" y1="320.29" x2="27.8" y2="320.29" stroke="#666" stroke-width="0.5"/>
<line x1="26.0" y1="318.55" x2="27.8" y2="318.55" stroke="#666" stroke-width="0.5"/>
<line x1="26.0" y1="317.04" x2="27.8" y2="317.04" stroke="#666" stroke-width="0.5"/>
<line x1="26.0" y1="315.71" x2="27.8" y2="315.71" stroke="#666" stroke-width="0.5"/>
<line x1="24.8" y1="288.53" x2="27.8" y2="288.53" stroke="#444" stroke-width="0.8"/>
<text x="11.10" y="291.58" font-size="8.2" fill="#222" textLength="9.7" lengthAdjust="spacingAndGlyphs" >10</text>
<text x="20.70" y="288.43" font-size="5.8" fill="#222" >3</text>
<line x1="26.0" y1="306.70" x2="27.8" y2="306.70" stroke="#666" stroke-width="0.5"/>
<line x1="26.0" y1="302.12" x2="27.8" y2="302.12" stroke="#666" stroke-width="0.5"/>
<line x1="26.0" y1="298.87" x2="27.8" y2="298.87" stroke="#666" stroke-width="0.5"/>
<line x1="26.0" y1="296.35" x2="27.8" y2="296.35" stroke="#666" stroke-width="0.5"/>
<line x1="26.0" y1="294.30" x2="27.8" y2="294.30" stroke="#666" stroke-width="0.5"/>
<line x1="26.0" y1="292.56" x2="27.8" y2="292.56" stroke="#666" stroke-width="0.5"/>
<line x1="26.0" y1="291.05" x2="27.8" y2="291.05" stroke="#666" stroke-width="0.5"/>
<line x1="26.0" y1="289.72" x2="27.8" y2="289.72" stroke="#666" stroke-width="0.5"/>
<line x1="24.8" y1="262.54" x2="27.8" y2="262.54" stroke="#444" stroke-width="0.8"/>
<text x="11.10" y="265.59" font-size="8.2" fill="#222" textLength="9.7" lengthAdjust="spacingAndGlyphs" >10</text>
<text x="20.70" y="262.44" font-size="5.8" fill="#222" >4</text>
<line x1="26.0" y1="280.71" x2="27.8" y2="280.71" stroke="#666" stroke-width="0.5"/>
<line x1="26.0" y1="276.13" x2="27.8" y2="276.13" stroke="#666" stroke-width="0.5"/>
<line x1="26.0" y1="272.88" x2="27.8" y2="272.88" stroke="#666" stroke-width="0.5"/>
<line x1="26.0" y1="270.36" x2="27.8" y2="270.36" stroke="#666" stroke-width="0.5"/>
<line x1="26.0" y1="268.31" x2="27.8" y2="268.31" stroke="#666" stroke-width="0.5"/>
<line x1="26.0" y1="266.57" x2="27.8" y2="266.57" stroke="#666" stroke-width="0.5"/>
<line x1="26.0" y1="265.06" x2="27.8" y2="265.06" stroke="#666" stroke-width="0.5"/>
<line x1="26.0" y1="263.73" x2="27.8" y2="263.73" stroke="#666" stroke-width="0.5"/>
<line x1="24.8" y1="236.55" x2="27.8" y2="236.55" stroke="#444" stroke-width="0.8"/>
<text x="11.10" y="239.60" font-size="8.2" fill="#222" textLength="9.7" lengthAdjust="spacingAndGlyphs" >10</text>
<text x="20.70" y="236.45" font-size="5.8" fill="#222" >5</text>
<line x1="26.0" y1="254.72" x2="27.8" y2="254.72" stroke="#666" stroke-width="0.5"/>
<line x1="26.0" y1="250.14" x2="27.8" y2="250.14" stroke="#666" stroke-width="0.5"/>
<line x1="26.0" y1="246.89" x2="27.8" y2="246.89" stroke="#666" stroke-width="0.5"/>
<line x1="26.0" y1="244.37" x2="27.8" y2="244.37" stroke="#666" stroke-width="0.5"/>
<line x1="26.0" y1="242.32" x2="27.8" y2="242.32" stroke="#666" stroke-width="0.5"/>
<line x1="26.0" y1="240.58" x2="27.8" y2="240.58" stroke="#666" stroke-width="0.5"/>
<line x1="26.0" y1="239.07" x2="27.8" y2="239.07" stroke="#666" stroke-width="0.5"/>
<line x1="26.0" y1="237.74" x2="27.8" y2="237.74" stroke="#666" stroke-width="0.5"/>
<line x1="26.0" y1="228.73" x2="27.8" y2="228.73" stroke="#666" stroke-width="0.5"/>
<line x1="41.70" y1="388.2" x2="41.70" y2="391.2" stroke="#444" stroke-width="0.8"/>
<text x="41.70" y="397.10" font-size="7.6" text-anchor="middle" fill="#222" textLength="4.64" lengthAdjust="spacingAndGlyphs" >0</text>
<line x1="76.85" y1="388.2" x2="76.85" y2="391.2" stroke="#444" stroke-width="0.8"/>
<text x="76.85" y="397.10" font-size="7.6" text-anchor="middle" fill="#222" textLength="9.28" lengthAdjust="spacingAndGlyphs" >25</text>
<line x1="112.00" y1="388.2" x2="112.00" y2="391.2" stroke="#444" stroke-width="0.8"/>
<text x="112.00" y="397.10" font-size="7.6" text-anchor="middle" fill="#222" textLength="9.28" lengthAdjust="spacingAndGlyphs" >50</text>
<line x1="147.15" y1="388.2" x2="147.15" y2="391.2" stroke="#444" stroke-width="0.8"/>
<text x="147.15" y="397.10" font-size="7.6" text-anchor="middle" fill="#222" textLength="9.28" lengthAdjust="spacingAndGlyphs" >75</text>
<line x1="182.30" y1="388.2" x2="182.30" y2="391.2" stroke="#444" stroke-width="0.8"/>
<text x="182.30" y="397.10" font-size="7.6" text-anchor="middle" fill="#222" textLength="13.919999999999998" lengthAdjust="spacingAndGlyphs" >100</text>
<line x1="217.45" y1="388.2" x2="217.45" y2="391.2" stroke="#444" stroke-width="0.8"/>
<text x="217.45" y="397.10" font-size="7.6" text-anchor="middle" fill="#222" textLength="13.919999999999998" lengthAdjust="spacingAndGlyphs" >125</text>
<line x1="252.60" y1="388.2" x2="252.60" y2="391.2" stroke="#444" stroke-width="0.8"/>
<text x="252.60" y="397.10" font-size="7.6" text-anchor="middle" fill="#222" textLength="13.919999999999998" lengthAdjust="spacingAndGlyphs" >150</text>
<line x1="287.75" y1="388.2" x2="287.75" y2="391.2" stroke="#444" stroke-width="0.8"/>
<text x="287.75" y="397.10" font-size="7.6" text-anchor="middle" fill="#222" textLength="13.919999999999998" lengthAdjust="spacingAndGlyphs" >175</text>
<line x1="322.90" y1="388.2" x2="322.90" y2="391.2" stroke="#444" stroke-width="0.8"/>
<text x="322.90" y="397.10" font-size="7.6" text-anchor="middle" fill="#222" textLength="13.919999999999998" lengthAdjust="spacingAndGlyphs" >200</text>
<text x="175.90" y="407.00" font-size="9.0" text-anchor="middle" fill="#222" textLength="82" lengthAdjust="spacingAndGlyphs" >Feature Dimension</text>
<text x="7.60" y="309.50" font-size="8.8" text-anchor="middle" fill="#222" textLength="41" lengthAdjust="spacingAndGlyphs" transform="rotate(-90 7.60 309.50)" >F-statistic</text>
<rect x="31.6" y="232.4" width="86.9" height="35" rx="2" fill="#fff" fill-opacity="0.8" stroke="#ddd" stroke-width="0.8"/>
<line x1="33.8" y1="238.50" x2="51.1" y2="238.50" stroke="#f4765c" stroke-width="1.5"/>
<text x="56.50" y="241.25" font-size="8.1" fill="#222" textLength="30.6" lengthAdjust="spacingAndGlyphs" >F &gt; 100</text>
<line x1="33.8" y1="249.17" x2="51.1" y2="249.17" stroke="#f9a825" stroke-width="1.5"/>
<text x="56.50" y="251.92" font-size="8.1" fill="#222" textLength="58.7" lengthAdjust="spacingAndGlyphs" >10 &lt; F &lt;= 100</text>
<line x1="33.8" y1="259.84" x2="51.1" y2="259.84" stroke="#4caf50" stroke-width="1.5"/>
<text x="56.50" y="262.59" font-size="8.1" fill="#222" textLength="32.1" lengthAdjust="spacingAndGlyphs" >F &lt;= 10</text>
<text x="172.80" y="374.60" font-size="8.6" font-style="italic" font-family="Liberation Serif">F</text>
<text x="181.30" y="374.60" font-size="9.4" >=</text>
<text x="247.50" y="367.60" font-size="8.4" text-anchor="middle" textLength="113" lengthAdjust="spacingAndGlyphs" >between−domain variability</text>
<line x1="190.5" y1="371.3" x2="304.5" y2="371.3" stroke="#000" stroke-width="0.6"/>
<text x="247.50" y="380.80" font-size="8.4" text-anchor="middle" textLength="101" lengthAdjust="spacingAndGlyphs" >within−domain variability</text>
<text x="345" y="218.8" font-size="9" font-weight="bold">c</text>
<text x="527.20" y="223.70" font-size="10" text-anchor="middle" textLength="268.6" lengthAdjust="spacingAndGlyphs" >Test Accuracies Comparison Across Masked Frame Fractions</text>
<rect x="412.5" y="226.6" width="48.3" height="149.5" fill="#e4e9f6"/>
<rect x="620.6" y="226.6" width="30.7" height="149.5" fill="#fde7d8"/>
<line x1="390.40" y1="226.6" x2="390.40" y2="376.1" stroke="#000" stroke-opacity="0.13" stroke-width="0.7"/><line x1="417.72" y1="226.6" x2="417.72" y2="376.1" stroke="#000" stroke-opacity="0.13" stroke-width="0.7"/><line x1="445.04" y1="226.6" x2="445.04" y2="376.1" stroke="#000" stroke-opacity="0.13" stroke-width="0.7"/><line x1="472.36" y1="226.6" x2="472.36" y2="376.1" stroke="#000" stroke-opacity="0.13" stroke-width="0.7"/><line x1="499.68" y1="226.6" x2="499.68" y2="376.1" stroke="#000" stroke-opacity="0.13" stroke-width="0.7"/><line x1="527.00" y1="226.6" x2="527.00" y2="376.1" stroke="#000" stroke-opacity="0.13" stroke-width="0.7"/><line x1="554.32" y1="226.6" x2="554.32" y2="376.1" stroke="#000" stroke-opacity="0.13" stroke-width="0.7"/><line x1="581.64" y1="226.6" x2="581.64" y2="376.1" stroke="#000" stroke-opacity="0.13" stroke-width="0.7"/><line x1="608.96" y1="226.6" x2="608.96" y2="376.1" stroke="#000" stroke-opacity="0.13" stroke-width="0.7"/><line x1="636.28" y1="226.6" x2="636.28" y2="376.1" stroke="#000" stroke-opacity="0.13" stroke-width="0.7"/><line x1="663.60" y1="226.6" x2="663.60" y2="376.1" stroke="#000" stroke-opacity="0.13" stroke-width="0.7"/><line x1="376.4" y1="360.00" x2="678.4" y2="360.00" stroke="#000" stroke-opacity="0.13" stroke-width="0.7"/><line x1="376.4" y1="341.40" x2="678.4" y2="341.40" stroke="#000" stroke-opacity="0.13" stroke-width="0.7"/><line x1="376.4" y1="322.80" x2="678.4" y2="322.80" stroke="#000" stroke-opacity="0.13" stroke-width="0.7"/><line x1="376.4" y1="304.20" x2="678.4" y2="304.20" stroke="#000" stroke-opacity="0.13" stroke-width="0.7"/><line x1="376.4" y1="285.60" x2="678.4" y2="285.60" stroke="#000" stroke-opacity="0.13" stroke-width="0.7"/><line x1="376.4" y1="267.00" x2="678.4" y2="267.00" stroke="#000" stroke-opacity="0.13" stroke-width="0.7"/><line x1="376.4" y1="248.40" x2="678.4" y2="248.40" stroke="#000" stroke-opacity="0.13" stroke-width="0.7"/><line x1="376.4" y1="229.80" x2="678.4" y2="229.80" stroke="#000" stroke-opacity="0.13" stroke-width="0.7"/>
<line x1="390.4" y1="274.81" x2="663.5999999999999" y2="274.81" stroke="#4caf50" stroke-width="1.0" stroke-dasharray="3.6 2.2"/>
<line x1="390.4" y1="369.11" x2="663.5999999999999" y2="369.11" stroke="#e4403a" stroke-width="1.0" stroke-dasharray="3.6 2.2"/>
<polyline points="390.40,240.59 417.72,233.15 445.04,239.10 472.36,241.33 499.68,240.59 527.00,240.59 554.32,241.70 581.64,242.82 608.96,245.05 636.28,252.86 663.60,244.31" fill="none" stroke="#fb8a2c" stroke-width="1.15"/>
<circle cx="390.40" cy="240.59" r="1.8" fill="#fb8a2c"/><circle cx="417.72" cy="233.15" r="1.8" fill="#fb8a2c"/><circle cx="445.04" cy="239.10" r="1.8" fill="#fb8a2c"/><circle cx="472.36" cy="241.33" r="1.8" fill="#fb8a2c"/><circle cx="499.68" cy="240.59" r="1.8" fill="#fb8a2c"/><circle cx="527.00" cy="240.59" r="1.8" fill="#fb8a2c"/><circle cx="554.32" cy="241.70" r="1.8" fill="#fb8a2c"/><circle cx="581.64" cy="242.82" r="1.8" fill="#fb8a2c"/><circle cx="608.96" cy="245.05" r="1.8" fill="#fb8a2c"/><circle cx="636.28" cy="252.86" r="1.8" fill="#fb8a2c"/><circle cx="663.60" cy="244.31" r="1.8" fill="#fb8a2c"/>
<polyline points="390.40,243.94 417.72,272.58 445.04,281.14 472.36,257.33 499.68,252.86 527.00,249.14 554.32,246.54 581.64,242.08 608.96,243.56 636.28,241.33 663.60,240.59" fill="none" stroke="#2d83c0" stroke-width="1.15"/>
<circle cx="390.40" cy="243.94" r="1.8" fill="#2d83c0"/><circle cx="417.72" cy="272.58" r="1.8" fill="#2d83c0"/><circle cx="445.04" cy="281.14" r="1.8" fill="#2d83c0"/><circle cx="472.36" cy="257.33" r="1.8" fill="#2d83c0"/><circle cx="499.68" cy="252.86" r="1.8" fill="#2d83c0"/><circle cx="527.00" cy="249.14" r="1.8" fill="#2d83c0"/><circle cx="554.32" cy="246.54" r="1.8" fill="#2d83c0"/><circle cx="581.64" cy="242.08" r="1.8" fill="#2d83c0"/><circle cx="608.96" cy="243.56" r="1.8" fill="#2d83c0"/><circle cx="636.28" cy="241.33" r="1.8" fill="#2d83c0"/><circle cx="663.60" cy="240.59" r="1.8" fill="#2d83c0"/>
<rect x="376.4" y="226.6" width="302.00" height="149.50" fill="none" stroke="#8a8a8a" stroke-width="1"/>
<line x1="373.4" y1="360.00" x2="376.4" y2="360.00" stroke="#444" stroke-width="0.8"/>
<text x="373.00" y="362.60" font-size="7.4" text-anchor="end" fill="#222" textLength="9.0" lengthAdjust="spacingAndGlyphs" >65</text>
<line x1="373.4" y1="341.40" x2="376.4" y2="341.40" stroke="#444" stroke-width="0.8"/>
<text x="373.00" y="344.00" font-size="7.4" text-anchor="end" fill="#222" textLength="9.0" lengthAdjust="spacingAndGlyphs" >70</text>
<line x1="373.4" y1="322.80" x2="376.4" y2="322.80" stroke="#444" stroke-width="0.8"/>
<text x="373.00" y="325.40" font-size="7.4" text-anchor="end" fill="#222" textLength="9.0" lengthAdjust="spacingAndGlyphs" >75</text>
<line x1="373.4" y1="304.20" x2="376.4" y2="304.20" stroke="#444" stroke-width="0.8"/>
<text x="373.00" y="306.80" font-size="7.4" text-anchor="end" fill="#222" textLength="9.0" lengthAdjust="spacingAndGlyphs" >80</text>
<line x1="373.4" y1="285.60" x2="376.4" y2="285.60" stroke="#444" stroke-width="0.8"/>
<text x="373.00" y="288.20" font-size="7.4" text-anchor="end" fill="#222" textLength="9.0" lengthAdjust="spacingAndGlyphs" >85</text>
<line x1="373.4" y1="267.00" x2="376.4" y2="267.00" stroke="#444" stroke-width="0.8"/>
<text x="373.00" y="269.60" font-size="7.4" text-anchor="end" fill="#222" textLength="9.0" lengthAdjust="spacingAndGlyphs" >90</text>
<line x1="373.4" y1="248.40" x2="376.4" y2="248.40" stroke="#444" stroke-width="0.8"/>
<text x="373.00" y="251.00" font-size="7.4" text-anchor="end" fill="#222" textLength="9.0" lengthAdjust="spacingAndGlyphs" >95</text>
<line x1="373.4" y1="229.80" x2="376.4" y2="229.80" stroke="#444" stroke-width="0.8"/>
<text x="373.00" y="232.40" font-size="7.4" text-anchor="end" fill="#222" textLength="13.5" lengthAdjust="spacingAndGlyphs" >100</text>
<line x1="390.40" y1="376.1" x2="390.40" y2="379.1" stroke="#444" stroke-width="0.8"/>
<text x="390.40" y="396.01" font-size="7.9" text-anchor="middle" fill="#222" textLength="29" lengthAdjust="spacingAndGlyphs" transform="rotate(-45 390.40 393.21)">No mask</text>
<line x1="417.72" y1="376.1" x2="417.72" y2="379.1" stroke="#444" stroke-width="0.8"/>
<text x="417.72" y="394.31" font-size="7.9" text-anchor="middle" fill="#222" textLength="24.2" lengthAdjust="spacingAndGlyphs" transform="rotate(-45 417.72 391.51)">0−10%</text>
<line x1="445.04" y1="376.1" x2="445.04" y2="379.1" stroke="#444" stroke-width="0.8"/>
<text x="445.04" y="396.32" font-size="7.9" text-anchor="middle" fill="#222" textLength="29.9" lengthAdjust="spacingAndGlyphs" transform="rotate(-45 445.04 393.52)">10−20%</text>
<line x1="472.36" y1="376.1" x2="472.36" y2="379.1" stroke="#444" stroke-width="0.8"/>
<text x="472.36" y="396.32" font-size="7.9" text-anchor="middle" fill="#222" textLength="29.9" lengthAdjust="spacingAndGlyphs" transform="rotate(-45 472.36 393.52)">20−30%</text>
<line x1="499.68" y1="376.1" x2="499.68" y2="379.1" stroke="#444" stroke-width="0.8"/>
<text x="499.68" y="396.32" font-size="7.9" text-anchor="middle" fill="#222" textLength="29.9" lengthAdjust="spacingAndGlyphs" transform="rotate(-45 499.68 393.52)">30−40%</text>
<line x1="527.00" y1="376.1" x2="527.00" y2="379.1" stroke="#444" stroke-width="0.8"/>
<text x="527.00" y="396.32" font-size="7.9" text-anchor="middle" fill="#222" textLength="29.9" lengthAdjust="spacingAndGlyphs" transform="rotate(-45 527.00 393.52)">40−50%</text>
<line x1="554.32" y1="376.1" x2="554.32" y2="379.1" stroke="#444" stroke-width="0.8"/>
<text x="554.32" y="396.32" font-size="7.9" text-anchor="middle" fill="#222" textLength="29.9" lengthAdjust="spacingAndGlyphs" transform="rotate(-45 554.32 393.52)">50−60%</text>
<line x1="581.64" y1="376.1" x2="581.64" y2="379.1" stroke="#444" stroke-width="0.8"/>
<text x="581.64" y="396.32" font-size="7.9" text-anchor="middle" fill="#222" textLength="29.9" lengthAdjust="spacingAndGlyphs" transform="rotate(-45 581.64 393.52)">60−70%</text>
<line x1="608.96" y1="376.1" x2="608.96" y2="379.1" stroke="#444" stroke-width="0.8"/>
<text x="608.96" y="396.32" font-size="7.9" text-anchor="middle" fill="#222" textLength="29.9" lengthAdjust="spacingAndGlyphs" transform="rotate(-45 608.96 393.52)">70−80%</text>
<line x1="636.28" y1="376.1" x2="636.28" y2="379.1" stroke="#444" stroke-width="0.8"/>
<text x="636.28" y="396.32" font-size="7.9" text-anchor="middle" fill="#222" textLength="29.9" lengthAdjust="spacingAndGlyphs" transform="rotate(-45 636.28 393.52)">80−90%</text>
<line x1="663.60" y1="376.1" x2="663.60" y2="379.1" stroke="#444" stroke-width="0.8"/>
<text x="663.60" y="397.95" font-size="7.9" text-anchor="middle" fill="#222" textLength="34.5" lengthAdjust="spacingAndGlyphs" transform="rotate(-45 663.60 395.15)">90−100%</text>
<text x="527.00" y="416.70" font-size="8.2" text-anchor="middle" fill="#222" textLength="97.5" lengthAdjust="spacingAndGlyphs" >Masked Frame Fractions</text>
<text x="356.20" y="300.70" font-size="8.6" text-anchor="middle" fill="#222" textLength="110" lengthAdjust="spacingAndGlyphs" transform="rotate(-90 356.20 300.70)" >Classification Accuracy (%)</text>
<rect x="491.4" y="308.6" width="101.7" height="47.8" rx="2" fill="#fff" fill-opacity="0.8" stroke="#ddd" stroke-width="0.8"/>
<line x1="495" y1="314.50" x2="510.8" y2="314.50" stroke="#2d83c0" stroke-width="1.1"/><circle cx="502.9" cy="314.50" r="1.7" fill="#2d83c0"/>
<text x="516.50" y="317.40" font-size="8.2" fill="#222" textLength="73.3" lengthAdjust="spacingAndGlyphs" >Domain 1 T2C CNN</text>
<line x1="495" y1="326.30" x2="510.8" y2="326.30" stroke="#fb8a2c" stroke-width="1.1"/><circle cx="502.9" cy="326.30" r="1.7" fill="#fb8a2c"/>
<text x="516.50" y="329.20" font-size="8.2" fill="#222" textLength="73.3" lengthAdjust="spacingAndGlyphs" >Domain 2 T2C CNN</text>
<line x1="495" y1="338.10" x2="510.8" y2="338.10" stroke="#4caf50" stroke-width="1.1" stroke-dasharray="3.6 2.4"/>
<text x="516.50" y="341.00" font-size="8.2" fill="#222" textLength="53.9" lengthAdjust="spacingAndGlyphs" >Domain 1 PDF</text>
<line x1="495" y1="349.90" x2="510.8" y2="349.90" stroke="#e4403a" stroke-width="1.1" stroke-dasharray="3.6 2.4"/>
<text x="516.50" y="352.80" font-size="8.2" fill="#222" textLength="53.9" lengthAdjust="spacingAndGlyphs" >Domain 2 PDF</text>
<g transform="translate(418 339.1) scale(0.6) translate(0 -91.8)"><line x1="11.8" y1="45.6" x2="18.7" y2="57.3" stroke="#555" stroke-width="1.9"/><line x1="11.8" y1="45.6" x2="18.7" y2="57.3" stroke="#bbb" stroke-width="0.7"/><circle cx="10.8" cy="44.2" r="2.0" fill="#f7b6d8"/><line x1="38.4" y1="48.6" x2="44.2" y2="41.4" stroke="#555" stroke-width="1.9"/><line x1="38.4" y1="48.6" x2="44.2" y2="41.4" stroke="#bbb" stroke-width="0.7"/><circle cx="37.4" cy="49.9" r="1.5" fill="#f7b6d8"/><line x1="46.6" y1="62.2" x2="56.3" y2="72.1" stroke="#555" stroke-width="1.9"/><line x1="46.6" y1="62.2" x2="56.3" y2="72.1" stroke="#bbb" stroke-width="0.7"/><circle cx="45.4" cy="60.9" r="2.0" fill="#f7b6d8"/><line x1="12.6" y1="77.4" x2="26.7" y2="62.9" stroke="#111" stroke-width="1.2"/><line x1="13.24" y1="76.74" x2="15.24" y2="78.74" stroke="#111" stroke-width="0.9"/><line x1="14.52" y1="75.42" x2="16.52" y2="77.42" stroke="#111" stroke-width="0.9"/><line x1="15.80" y1="74.10" x2="17.80" y2="76.10" stroke="#111" stroke-width="0.9"/><line x1="17.09" y1="72.79" x2="19.09" y2="74.79" stroke="#111" stroke-width="0.9"/><line x1="18.37" y1="71.47" x2="20.37" y2="73.47" stroke="#111" stroke-width="0.9"/><line x1="19.65" y1="70.15" x2="21.65" y2="72.15" stroke="#111" stroke-width="0.9"/><line x1="20.93" y1="68.83" x2="22.93" y2="70.83" stroke="#111" stroke-width="0.9"/><line x1="22.21" y1="67.51" x2="24.21" y2="69.51" stroke="#111" stroke-width="0.9"/><line x1="23.50" y1="66.20" x2="25.50" y2="68.20" stroke="#111" stroke-width="0.9"/><line x1="24.78" y1="64.88" x2="26.78" y2="66.88" stroke="#111" stroke-width="0.9"/><line x1="26.06" y1="63.56" x2="28.06" y2="65.56" stroke="#111" stroke-width="0.9"/><polygon points="13.10,80.40 12.40,81.15 12.63,82.15 11.65,82.45 11.35,83.43 10.35,83.20 9.60,83.90 8.85,83.20 7.85,83.43 7.55,82.45 6.57,82.15 6.80,81.15 6.10,80.40 6.80,79.65 6.57,78.65 7.55,78.35 7.85,77.37 8.85,77.60 9.60,76.90 10.35,77.60 11.35,77.37 11.65,78.35 12.63,78.65 12.40,79.65" fill="#e8087e"/><line x1="26.5" y1="91.6" x2="39.1" y2="76.5" stroke="#111" stroke-width="1.2"/><line x1="27.79" y1="90.08" x2="25.79" y2="88.08" stroke="#111" stroke-width="0.9"/><line x1="28.98" y1="88.66" x2="26.98" y2="86.66" stroke="#111" stroke-width="0.9"/><line x1="30.18" y1="87.22" x2="28.18" y2="85.22" stroke="#111" stroke-width="0.9"/><line x1="31.37" y1="85.80" x2="29.37" y2="83.80" stroke="#111" stroke-width="0.9"/><line x1="32.55" y1="84.36" x2="30.55" y2="82.36" stroke="#111" stroke-width="0.9"/><line x1="33.75" y1="82.94" x2="31.75" y2="80.94" stroke="#111" stroke-width="0.9"/><line x1="34.94" y1="81.50" x2="32.94" y2="79.50" stroke="#111" stroke-width="0.9"/><line x1="36.12" y1="80.08" x2="34.12" y2="78.08" stroke="#111" stroke-width="0.9"/><line x1="37.31" y1="78.64" x2="35.31" y2="76.64" stroke="#111" stroke-width="0.9"/><line x1="38.51" y1="77.22" x2="36.51" y2="75.22" stroke="#111" stroke-width="0.9"/><line x1="24.3" y1="75.0" x2="27.9" y2="77.9" stroke="#111" stroke-width="1.2"/><path d="M22.2 73.3 L23.53 76.43 L25.54 73.94 Z M30 79.6 L26.66 78.96 L28.67 76.47 Z" fill="#111"/><path d="M1 91.8 L59.6 91.8 L59.6 98.4 L58.8 99.3 L0.2 99.3 L0 98 L0 92.8 Z" fill="#c8862c"/><rect x="0.5" y="91.8" width="59" height="1.6" fill="#d9983e"/></g>
<g transform="translate(617 339.4) scale(0.6) translate(0 -91.8)"><line x1="11.8" y1="45.6" x2="18.7" y2="57.3" stroke="#555" stroke-width="1.9"/><line x1="11.8" y1="45.6" x2="18.7" y2="57.3" stroke="#bbb" stroke-width="0.7"/><circle cx="10.8" cy="44.2" r="2.0" fill="#f7b6d8"/><line x1="38.4" y1="48.6" x2="44.2" y2="41.4" stroke="#555" stroke-width="1.9"/><line x1="38.4" y1="48.6" x2="44.2" y2="41.4" stroke="#bbb" stroke-width="0.7"/><circle cx="37.4" cy="49.9" r="1.5" fill="#f7b6d8"/><line x1="46.6" y1="62.2" x2="56.3" y2="72.1" stroke="#555" stroke-width="1.9"/><line x1="46.6" y1="62.2" x2="56.3" y2="72.1" stroke="#bbb" stroke-width="0.7"/><circle cx="45.4" cy="60.9" r="2.0" fill="#f7b6d8"/><line x1="12.6" y1="77.4" x2="26.7" y2="62.9" stroke="#111" stroke-width="1.2"/><line x1="13.24" y1="76.74" x2="15.24" y2="78.74" stroke="#111" stroke-width="0.9"/><line x1="14.52" y1="75.42" x2="16.52" y2="77.42" stroke="#111" stroke-width="0.9"/><line x1="15.80" y1="74.10" x2="17.80" y2="76.10" stroke="#111" stroke-width="0.9"/><line x1="17.09" y1="72.79" x2="19.09" y2="74.79" stroke="#111" stroke-width="0.9"/><line x1="18.37" y1="71.47" x2="20.37" y2="73.47" stroke="#111" stroke-width="0.9"/><line x1="19.65" y1="70.15" x2="21.65" y2="72.15" stroke="#111" stroke-width="0.9"/><line x1="20.93" y1="68.83" x2="22.93" y2="70.83" stroke="#111" stroke-width="0.9"/><line x1="22.21" y1="67.51" x2="24.21" y2="69.51" stroke="#111" stroke-width="0.9"/><line x1="23.50" y1="66.20" x2="25.50" y2="68.20" stroke="#111" stroke-width="0.9"/><line x1="24.78" y1="64.88" x2="26.78" y2="66.88" stroke="#111" stroke-width="0.9"/><line x1="26.06" y1="63.56" x2="28.06" y2="65.56" stroke="#111" stroke-width="0.9"/><polygon points="13.10,80.40 12.40,81.15 12.63,82.15 11.65,82.45 11.35,83.43 10.35,83.20 9.60,83.90 8.85,83.20 7.85,83.43 7.55,82.45 6.57,82.15 6.80,81.15 6.10,80.40 6.80,79.65 6.57,78.65 7.55,78.35 7.85,77.37 8.85,77.60 9.60,76.90 10.35,77.60 11.35,77.37 11.65,78.35 12.63,78.65 12.40,79.65" fill="#e8087e"/><line x1="26.5" y1="91.6" x2="39.1" y2="76.5" stroke="#111" stroke-width="1.2"/><line x1="27.79" y1="90.08" x2="25.79" y2="88.08" stroke="#111" stroke-width="0.9"/><line x1="28.98" y1="88.66" x2="26.98" y2="86.66" stroke="#111" stroke-width="0.9"/><line x1="30.18" y1="87.22" x2="28.18" y2="85.22" stroke="#111" stroke-width="0.9"/><line x1="31.37" y1="85.80" x2="29.37" y2="83.80" stroke="#111" stroke-width="0.9"/><line x1="32.55" y1="84.36" x2="30.55" y2="82.36" stroke="#111" stroke-width="0.9"/><line x1="33.75" y1="82.94" x2="31.75" y2="80.94" stroke="#111" stroke-width="0.9"/><line x1="34.94" y1="81.50" x2="32.94" y2="79.50" stroke="#111" stroke-width="0.9"/><line x1="36.12" y1="80.08" x2="34.12" y2="78.08" stroke="#111" stroke-width="0.9"/><line x1="37.31" y1="78.64" x2="35.31" y2="76.64" stroke="#111" stroke-width="0.9"/><line x1="38.51" y1="77.22" x2="36.51" y2="75.22" stroke="#111" stroke-width="0.9"/><line x1="24.3" y1="75.0" x2="27.9" y2="77.9" stroke="#111" stroke-width="1.2"/><path d="M22.2 73.3 L23.53 76.43 L25.54 73.94 Z M30 79.6 L26.66 78.96 L28.67 76.47 Z" fill="#111"/><path d="M1 91.8 L59.6 91.8 L59.6 98.4 L58.8 99.3 L0.2 99.3 L0 98 L0 92.8 Z" fill="#2e8443"/><rect x="0.5" y="91.8" width="59" height="1.6" fill="#3a9950"/></g>
<text x="436.80" y="292.80" font-size="7.8" text-anchor="middle" fill="#2b3f7e" textLength="68" lengthAdjust="spacingAndGlyphs" >Domain 1 sensitive</text>
<text x="436.80" y="301.70" font-size="7.8" text-anchor="middle" fill="#2b3f7e" textLength="43" lengthAdjust="spacingAndGlyphs" >period: bind</text>
<text x="436.80" y="353.80" font-size="7.8" text-anchor="middle" fill="#2b3f7e" textLength="55" lengthAdjust="spacingAndGlyphs" >Possible cause:</text>
<text x="436.80" y="363.60" font-size="7.8" text-anchor="middle" fill="#2b3f7e" textLength="61" lengthAdjust="spacingAndGlyphs" >Unstable binding</text>
<text x="637.70" y="293.40" font-size="7.8" text-anchor="middle" fill="#a07d10" textLength="68" lengthAdjust="spacingAndGlyphs" >Domain 2 sensitive</text>
<text x="637.70" y="302.40" font-size="7.8" text-anchor="middle" fill="#a07d10" textLength="52" lengthAdjust="spacingAndGlyphs" >period: unbind</text>
<text x="637.70" y="354.30" font-size="7.8" text-anchor="middle" fill="#a07d10" textLength="55" lengthAdjust="spacingAndGlyphs" >Possible cause:</text>
<text x="637.70" y="363.90" font-size="7.8" text-anchor="middle" fill="#a07d10" textLength="55" lengthAdjust="spacingAndGlyphs" >More bleaching</text>
<text x="2" y="425.3" font-size="9" font-weight="bold">d</text>
<text x="166.40" y="435.20" font-size="10" text-anchor="middle" textLength="263.3" lengthAdjust="spacingAndGlyphs" >Mean Accuracy per Domain for Different Event Lengths</text>
<line x1="42.70" y1="437.3" x2="42.70" y2="596.1" stroke="#000" stroke-opacity="0.18" stroke-width="0.6" stroke-dasharray="1.6 1.2"/><line x1="67.57" y1="437.3" x2="67.57" y2="596.1" stroke="#000" stroke-opacity="0.1" stroke-width="0.6" stroke-dasharray="1.6 1.2"/><line x1="82.11" y1="437.3" x2="82.11" y2="596.1" stroke="#000" stroke-opacity="0.1" stroke-width="0.6" stroke-dasharray="1.6 1.2"/><line x1="92.43" y1="437.3" x2="92.43" y2="596.1" stroke="#000" stroke-opacity="0.1" stroke-width="0.6" stroke-dasharray="1.6 1.2"/><line x1="100.43" y1="437.3" x2="100.43" y2="596.1" stroke="#000" stroke-opacity="0.1" stroke-width="0.6" stroke-dasharray="1.6 1.2"/><line x1="106.98" y1="437.3" x2="106.98" y2="596.1" stroke="#000" stroke-opacity="0.1" stroke-width="0.6" stroke-dasharray="1.6 1.2"/><line x1="112.51" y1="437.3" x2="112.51" y2="596.1" stroke="#000" stroke-opacity="0.1" stroke-width="0.6" stroke-dasharray="1.6 1.2"/><line x1="117.30" y1="437.3" x2="117.30" y2="596.1" stroke="#000" stroke-opacity="0.1" stroke-width="0.6" stroke-dasharray="1.6 1.2"/><line x1="121.52" y1="437.3" x2="121.52" y2="596.1" stroke="#000" stroke-opacity="0.1" stroke-width="0.6" stroke-dasharray="1.6 1.2"/><line x1="125.30" y1="437.3" x2="125.30" y2="596.1" stroke="#000" stroke-opacity="0.18" stroke-width="0.6" stroke-dasharray="1.6 1.2"/><line x1="150.17" y1="437.3" x2="150.17" y2="596.1" stroke="#000" stroke-opacity="0.1" stroke-width="0.6" stroke-dasharray="1.6 1.2"/><line x1="164.71" y1="437.3" x2="164.71" y2="596.1" stroke="#000" stroke-opacity="0.1" stroke-width="0.6" stroke-dasharray="1.6 1.2"/><line x1="175.03" y1="437.3" x2="175.03" y2="596.1" stroke="#000" stroke-opacity="0.1" stroke-width="0.6" stroke-dasharray="1.6 1.2"/><line x1="183.03" y1="437.3" x2="183.03" y2="596.1" stroke="#000" stroke-opacity="0.1" stroke-width="0.6" stroke-dasharray="1.6 1.2"/><line x1="189.58" y1="437.3" x2="189.58" y2="596.1" stroke="#000" stroke-opacity="0.1" stroke-width="0.6" stroke-dasharray="1.6 1.2"/><line x1="195.11" y1="437.3" x2="195.11" y2="596.1" stroke="#000" stroke-opacity="0.1" stroke-width="0.6" stroke-dasharray="1.6 1.2"/><line x1="199.90" y1="437.3" x2="199.90" y2="596.1" stroke="#000" stroke-opacity="0.1" stroke-width="0.6" stroke-dasharray="1.6 1.2"/><line x1="204.12" y1="437.3" x2="204.12" y2="596.1" stroke="#000" stroke-opacity="0.1" stroke-width="0.6" stroke-dasharray="1.6 1.2"/><line x1="207.90" y1="437.3" x2="207.90" y2="596.1" stroke="#000" stroke-opacity="0.18" stroke-width="0.6" stroke-dasharray="1.6 1.2"/><line x1="232.77" y1="437.3" x2="232.77" y2="596.1" stroke="#000" stroke-opacity="0.1" stroke-width="0.6" stroke-dasharray="1.6 1.2"/><line x1="247.31" y1="437.3" x2="247.31" y2="596.1" stroke="#000" stroke-opacity="0.1" stroke-width="0.6" stroke-dasharray="1.6 1.2"/><line x1="257.63" y1="437.3" x2="257.63" y2="596.1" stroke="#000" stroke-opacity="0.1" stroke-width="0.6" stroke-dasharray="1.6 1.2"/><line x1="265.63" y1="437.3" x2="265.63" y2="596.1" stroke="#000" stroke-opacity="0.1" stroke-width="0.6" stroke-dasharray="1.6 1.2"/><line x1="272.18" y1="437.3" x2="272.18" y2="596.1" stroke="#000" stroke-opacity="0.1" stroke-width="0.6" stroke-dasharray="1.6 1.2"/><line x1="277.71" y1="437.3" x2="277.71" y2="596.1" stroke="#000" stroke-opacity="0.1" stroke-width="0.6" stroke-dasharray="1.6 1.2"/><line x1="282.50" y1="437.3" x2="282.50" y2="596.1" stroke="#000" stroke-opacity="0.1" stroke-width="0.6" stroke-dasharray="1.6 1.2"/><line x1="286.72" y1="437.3" x2="286.72" y2="596.1" stroke="#000" stroke-opacity="0.1" stroke-width="0.6" stroke-dasharray="1.6 1.2"/><line x1="290.50" y1="437.3" x2="290.50" y2="596.1" stroke="#000" stroke-opacity="0.18" stroke-width="0.6" stroke-dasharray="1.6 1.2"/><line x1="34.70" y1="437.3" x2="34.70" y2="596.1" stroke="#000" stroke-opacity="0.07" stroke-width="0.6" stroke-dasharray="1.6 1.2"/><line x1="38.92" y1="437.3" x2="38.92" y2="596.1" stroke="#000" stroke-opacity="0.07" stroke-width="0.6" stroke-dasharray="1.6 1.2"/><line x1="30.3" y1="596.10" x2="302.3" y2="596.10" stroke="#000" stroke-opacity="0.16" stroke-width="0.6" stroke-dasharray="1.6 1.2"/><line x1="30.3" y1="581.02" x2="302.3" y2="581.02" stroke="#000" stroke-opacity="0.16" stroke-width="0.6" stroke-dasharray="1.6 1.2"/><line x1="30.3" y1="565.94" x2="302.3" y2="565.94" stroke="#000" stroke-opacity="0.16" stroke-width="0.6" stroke-dasharray="1.6 1.2"/><line x1="30.3" y1="550.86" x2="302.3" y2="550.86" stroke="#000" stroke-opacity="0.16" stroke-width="0.6" stroke-dasharray="1.6 1.2"/><line x1="30.3" y1="535.78" x2="302.3" y2="535.78" stroke="#000" stroke-opacity="0.16" stroke-width="0.6" stroke-dasharray="1.6 1.2"/><line x1="30.3" y1="520.70" x2="302.3" y2="520.70" stroke="#000" stroke-opacity="0.16" stroke-width="0.6" stroke-dasharray="1.6 1.2"/><line x1="30.3" y1="505.62" x2="302.3" y2="505.62" stroke="#000" stroke-opacity="0.16" stroke-width="0.6" stroke-dasharray="1.6 1.2"/><line x1="30.3" y1="490.54" x2="302.3" y2="490.54" stroke="#000" stroke-opacity="0.16" stroke-width="0.6" stroke-dasharray="1.6 1.2"/><line x1="30.3" y1="475.46" x2="302.3" y2="475.46" stroke="#000" stroke-opacity="0.16" stroke-width="0.6" stroke-dasharray="1.6 1.2"/><line x1="30.3" y1="460.38" x2="302.3" y2="460.38" stroke="#000" stroke-opacity="0.16" stroke-width="0.6" stroke-dasharray="1.6 1.2"/><line x1="30.3" y1="445.30" x2="302.3" y2="445.30" stroke="#000" stroke-opacity="0.16" stroke-width="0.6" stroke-dasharray="1.6 1.2"/>
<path d="M42.70 596.1 L42.70 463.81 L67.57 463.81 L67.57 467.14 L82.11 467.14 L82.11 470.47 L92.43 470.47 L92.43 475.46 L100.43 475.46 L100.43 475.46 L106.98 475.46 L106.98 497.92 L112.51 497.92 L112.51 483.78 L117.30 483.78 L117.30 489.60 L121.52 489.60 L121.52 500.42 L125.30 500.42 L125.30 477.96 L128.72 477.96 L128.72 465.48 L131.84 465.48 L131.84 497.92 L134.71 497.92 L134.71 507.08 L137.37 507.08 L137.37 494.60 L139.85 494.60 L139.85 504.58 L142.16 504.58 L142.16 510.40 L144.34 510.40 L144.34 516.23 L146.39 516.23 L146.39 514.56 L148.33 514.56 L148.33 524.55 L150.17 524.55 L150.17 517.89 L151.92 517.89 L151.92 527.88 L153.58 527.88 L153.58 513.73 L155.18 513.73 L155.18 526.21 L156.71 526.21 L156.71 522.88 L158.17 522.88 L158.17 527.84 L159.58 527.84 L159.58 527.32 L160.93 527.32 L160.93 528.24 L162.24 528.24 L162.24 527.25 L163.49 527.25 L163.49 533.20 L164.71 533.20 L164.71 531.55 L165.89 531.55 L165.89 550.09 L167.03 550.09 L167.03 543.93 L168.13 543.93 L168.13 537.55 L169.20 537.55 L169.20 544.41 L170.24 544.41 L170.24 542.18 L171.25 542.18 L171.25 556.15 L172.23 556.15 L172.23 552.68 L173.19 552.68 L173.19 557.75 L174.12 557.75 L174.12 555.53 L175.03 555.53 L175.03 557.04 L175.92 557.04 L175.92 565.72 L176.78 565.72 L176.78 564.86 L177.62 564.86 L177.62 565.74 L178.45 565.74 L178.45 559.76 L179.26 559.76 L179.26 562.32 L180.04 562.32 L180.04 569.38 L180.82 569.38 L180.82 563.85 L181.57 563.85 L181.57 571.04 L182.31 571.04 L182.31 567.30 L183.03 567.30 L183.03 572.54 L183.75 572.54 L183.75 574.31 L184.44 574.31 L184.44 567.53 L185.13 567.53 L185.13 574.13 L185.80 574.13 L185.80 575.03 L186.45 575.03 L186.45 570.23 L187.10 570.23 L187.10 572.19 L187.74 572.19 L187.74 577.26 L188.36 577.26 L188.36 573.82 L188.97 573.82 L188.97 577.52 L189.58 577.52 L189.58 577.66 L190.17 577.66 L190.17 581.25 L190.75 581.25 L190.75 578.23 L191.33 578.23 L191.33 580.24 L191.89 580.24 L191.89 579.63 L192.45 579.63 L192.45 580.70 L192.99 580.70 L192.99 584.01 L193.53 584.01 L193.53 584.34 L194.07 584.34 L194.07 585.69 L194.59 585.69 L194.59 586.31 L195.11 586.31 L195.11 587.12 L195.61 587.12 L195.61 586.84 L196.12 586.84 L196.12 586.44 L196.61 586.44 L196.61 588.80 L197.10 588.80 L197.10 587.42 L197.58 587.42 L197.58 588.70 L198.06 588.70 L198.06 589.13 L198.52 589.13 L198.52 588.26 L198.99 588.26 L198.99 589.42 L199.44 589.42 L199.44 590.13 L199.90 590.13 L199.90 590.12 L200.34 590.12 L200.34 590.04 L200.78 590.04 L200.78 591.57 L201.22 591.57 L201.22 590.32 L201.65 590.32 L201.65 592.19 L202.07 592.19 L202.07 591.42 L202.49 591.42 L202.49 591.65 L202.90 591.65 L202.90 593.02 L203.31 593.02 L203.31 592.43 L203.72 592.43 L203.72 593.20 L204.12 593.20 L204.12 593.14 L204.52 593.14 L204.52 593.82 L204.91 593.82 L204.91 593.90 L205.30 593.90 L205.30 593.92 L205.68 593.92 L205.68 593.45 L206.06 593.45 L206.06 594.16 L206.44 594.16 L206.44 593.91 L206.81 593.91 L206.81 593.95 L207.18 593.95 L207.18 594.10 L207.54 594.10 L207.54 594.58 L207.90 594.58 L207.90 594.70 L208.26 594.70 L208.26 594.75 L208.61 594.75 L208.61 594.78 L208.96 594.78 L208.96 595.16 L209.31 595.16 L209.31 595.07 L209.65 595.07 L209.65 595.20 L209.99 595.20 L209.99 595.28 L210.33 595.28 L210.33 595.55 L210.66 595.55 L210.66 595.45 L210.99 595.45 L210.99 595.68 L211.32 595.68 L211.32 595.72 L211.64 595.72 L211.64 596.10 L211.97 596.10 L211.97 596.10 L212.28 596.10 L212.28 596.10 L212.60 596.10 L212.60 596.10 L212.91 596.10 L212.91 592.81 L213.22 592.81 L213.22 596.10 L213.53 596.10 L213.53 596.10 L213.84 596.10 L213.84 592.98 L214.14 592.98 L214.14 596.10 L214.44 596.10 L214.44 596.10 L214.74 596.10 L214.74 596.10 L215.03 596.10 L215.03 596.10 L215.33 596.10 L215.33 596.10 L215.62 596.10 L215.62 596.10 L215.90 596.10 L215.90 596.10 L216.19 596.10 L216.19 596.10 L216.47 596.10 L216.47 596.10 L216.76 596.10 L216.76 596.10 L217.03 596.10 L217.03 596.10 L217.31 596.10 L217.31 596.10 L217.59 596.10 L217.59 596.10 L217.86 596.10 L217.86 596.10 L218.13 596.10 L218.13 596.10 L218.40 596.10 L218.40 596.10 L218.67 596.10 L218.67 596.10 L218.93 596.10 L218.93 596.10 L219.19 596.10 L219.19 596.10 L219.45 596.10 L219.45 596.10 L219.71 596.10 L219.71 596.10 L219.97 596.10 L219.97 596.10 L220.23 596.10 L220.23 596.10 L220.48 596.10 L220.48 596.10 L220.73 596.10 L220.73 596.10 L220.98 596.10 L220.98 596.10 L221.23 596.10 L221.23 596.10 L221.48 596.10 L221.48 596.10 L221.72 596.10 L221.72 596.10 L221.96 596.10 L221.96 596.10 L222.21 596.10 L222.21 596.10 L222.45 596.10 L222.45 596.10 L222.68 596.10 L222.68 596.10 L222.92 596.10 L222.92 596.10 L223.16 596.10 L223.16 596.10 L223.39 596.10 L223.39 596.10 L223.62 596.10 L223.62 596.10 L223.85 596.10 L223.85 596.10 L224.08 596.10 L224.08 593.74 L224.31 593.74 L224.31 596.10 L224.54 596.10 L224.54 596.10 L224.76 596.10 L224.76 596.10 L224.98 596.10 L224.98 596.10 L225.21 596.10 L225.21 596.10 L225.43 596.10 L225.43 596.10 L225.65 596.10 L225.65 596.10 L225.86 596.10 L225.86 596.10 L226.08 596.10 L226.08 596.10 L226.30 596.10 L226.30 596.10 L226.51 596.10 L226.51 596.10 L226.72 596.10 L226.72 596.10 L226.94 596.10 L226.94 596.10 L227.15 596.10 L227.15 596.10 L227.35 596.10 L227.35 596.10 L227.56 596.10 L227.56 596.10 L227.77 596.10 L227.77 593.94 L227.97 593.94 L227.97 596.10 L228.18 596.10 L228.18 596.10 L228.38 596.10 L228.38 596.10 L228.58 596.10 L228.58 596.10 L228.79 596.10 L228.79 596.10 L228.99 596.10 L228.99 596.10 L229.18 596.10 L229.18 596.10 L229.38 596.10 L229.38 596.10 L229.58 596.10 L229.58 596.10 L229.77 596.10 L229.77 596.10 L229.97 596.10 L229.97 596.10 L230.16 596.10 L230.16 596.10 L230.35 596.10 L230.35 596.10 L230.55 596.10 L230.55 596.10 L230.74 596.10 L230.74 596.10 L230.93 596.10 L230.93 596.10 L231.11 596.10 L231.11 596.10 L231.30 596.10 L231.30 596.10 L231.49 596.10 L231.49 596.10 L231.67 596.10 L231.67 596.10 L231.86 596.10 L231.86 596.10 L232.04 596.10 L232.04 593.46 L232.22 593.46 L232.22 596.10 L232.40 596.10 L232.40 596.10 L232.59 596.10 L232.59 596.10 L232.77 596.10 L232.77 596.10 L232.94 596.10 L232.94 596.10 L233.12 596.10 L233.12 596.10 L233.30 596.10 L233.30 596.10 L233.48 596.10 L233.48 596.10 L233.65 596.10 L233.65 596.10 L233.83 596.10 L233.83 596.10 L234.00 596.10 L234.00 596.10 L234.17 596.10 L234.17 596.10 L234.34 596.10 L234.34 596.10 L234.52 596.10 L234.52 596.10 L234.69 596.10 L234.69 596.10 L234.86 596.10 L234.86 596.10 L235.02 596.10 L235.02 596.10 L235.19 596.10 L235.19 596.10 L235.36 596.10 L235.36 596.10 L235.53 596.10 L235.53 596.10 L235.69 596.10 L235.69 596.10 L235.86 596.10 L235.86 594.89 L236.02 594.89 L236.02 596.10 L236.18 596.10 L236.18 596.10 L236.35 596.10 L236.35 596.10 L236.51 596.10 L236.51 596.10 L236.67 596.10 L236.67 596.10 L236.83 596.10 L236.83 596.10 L236.99 596.10 L236.99 596.10 L237.15 596.10 L237.15 596.10 L237.31 596.10 L237.31 596.10 L237.47 596.10 L237.47 596.10 L237.62 596.10 L237.62 596.10 L237.78 596.10 L237.78 596.10 L237.93 596.10 L237.93 596.10 L238.09 596.10 L238.09 596.10 L238.24 596.10 L238.24 596.10 L238.40 596.10 L238.40 596.10 L238.55 596.10 L238.55 596.10 L238.70 596.10 L238.70 592.96 L238.85 592.96 L238.85 596.10 L239.01 596.10 L239.01 596.10 L239.16 596.10 L239.16 596.10 L239.31 596.10 L239.31 596.10 L239.45 596.10 L239.45 594.69 L239.60 594.69 L239.60 596.10 L239.75 596.10 L239.75 596.10 L239.90 596.10 L239.90 596.10 L240.05 596.10 L240.05 596.10 L240.19 596.10 L240.19 596.10 L240.34 596.10 L240.34 595.12 L240.48 595.12 L240.48 596.10 L240.63 596.10 L240.63 596.10 L240.77 596.10 L240.77 596.10 L240.91 596.10 L240.91 596.10 L241.06 596.10 L241.06 596.10 L241.20 596.10 L241.20 596.10 L241.34 596.10 L241.34 596.10 L241.48 596.10 L241.48 596.10 L241.62 596.10 L241.62 596.10 L241.76 596.10 L241.76 596.10 L241.90 596.10 L241.90 596.10 L242.04 596.10 L242.04 596.10 L242.18 596.10 L242.18 596.10 L242.31 596.10 L242.31 596.10 L242.45 596.10 L242.45 596.10 L242.59 596.10 L242.59 596.10 L242.72 596.10 L242.72 596.10 L242.86 596.10 L242.86 596.10 L243.00 596.10 L243.00 596.10 L243.13 596.10 L243.13 596.10 L243.26 596.10 L243.26 596.10 L243.40 596.10 L243.40 596.10 L243.53 596.10 L243.53 596.10 L243.66 596.10 L243.66 596.10 L243.80 596.10 L243.80 596.10 L243.93 596.10 L243.93 596.10 L244.06 596.10 L244.06 596.10 L244.19 596.10 L244.19 596.10 L244.32 596.10 L244.32 596.10 L244.45 596.10 L244.45 596.10 L244.58 596.10 L244.58 596.10 L244.71 596.10 L244.71 594.94 L244.84 594.94 L244.84 596.10 L244.96 596.10 L244.96 596.10 L245.09 596.10 L245.09 596.10 L245.22 596.10 L245.22 596.10 L245.34 596.10 L245.34 596.10 L245.47 596.10 L245.47 596.10 L245.60 596.10 L245.60 596.10 L245.72 596.10 L245.72 596.10 L245.85 596.10 L245.85 596.10 L245.97 596.10 L245.97 596.10 L246.09 596.10 L246.09 596.10 L246.22 596.10 L246.22 596.10 L246.34 596.10 L246.34 596.10 L246.46 596.10 L246.46 596.10 L246.59 596.10 L246.59 596.10 L246.71 596.10 L246.71 596.10 L246.83 596.10 L246.83 596.10 L246.95 596.10 L246.95 596.10 L247.07 596.10 L247.07 596.10 L247.19 596.10 L247.19 596.10 L247.31 596.10 L247.31 596.10 L247.43 596.10 L247.43 596.10 L247.55 596.10 L247.55 596.10 L247.67 596.10 L247.67 593.99 L247.79 593.99 L247.79 596.10 L247.90 596.10 L247.90 594.49 L248.02 594.49 L248.02 596.10 L248.14 596.10 L248.14 596.10 L248.25 596.10 L248.25 596.10 L248.37 596.10 L248.37 596.10 L248.49 596.10 L248.49 596.10 L248.60 596.10 L248.60 596.10 L248.72 596.10 L248.72 596.10 L248.83 596.10 L248.83 596.10 L248.95 596.10 L248.95 596.10 L249.06 596.10 L249.06 596.10 L249.17 596.10 L249.17 596.10 L249.29 596.10 L249.29 596.10 L249.40 596.10 L249.40 596.10 L249.51 596.10 L249.51 596.10 L249.63 596.10 L249.63 596.10 L249.74 596.10 L249.74 596.10 L249.85 596.10 L249.85 596.10 L249.96 596.10 L249.96 596.10 L250.07 596.10 L250.07 596.10 L250.18 596.10 L250.18 596.10 L250.29 596.10 L250.29 596.10 L250.40 596.10 L250.40 596.10 L250.51 596.10 L250.51 596.10 L250.62 596.10 L250.62 596.10 L250.73 596.10 L250.73 596.10 L250.84 596.10 L250.84 596.10 L250.95 596.10 L250.95 594.98 L251.05 594.98 L251.05 596.10 L251.16 596.10 L251.16 596.10 L251.27 596.10 L251.27 596.10 L251.38 596.10 L251.38 596.10 L251.48 596.10 L251.48 596.10 L251.59 596.10 L251.59 596.10 L251.69 596.10 L251.69 596.10 L251.80 596.10 L251.80 596.10 L251.91 596.10 L251.91 596.10 L252.01 596.10 L252.01 596.10 L252.12 596.10 L252.12 596.10 L252.22 596.10 L252.22 596.10 L252.32 596.10 L252.32 596.10 L252.43 596.10 L252.43 596.10 L252.53 596.10 L252.53 596.10 L252.63 596.10 L252.63 596.10 L252.74 596.10 L252.74 596.10 L252.84 596.10 L252.84 596.10 L252.94 596.10 L252.94 596.10 L253.04 596.10 L253.04 596.10 L253.15 596.10 L253.15 596.10 L253.25 596.10 L253.25 596.10 L253.35 596.10 L253.35 596.10 L253.45 596.10 L253.45 596.10 L253.55 596.10 L253.55 596.10 L253.65 596.10 L253.65 596.10 L253.75 596.10 L253.75 596.10 L253.85 596.10 L253.85 596.10 L253.95 596.10 L253.95 596.10 L254.05 596.10 L254.05 596.10 L254.15 596.10 L254.15 596.10 L254.25 596.10 L254.25 596.10 L254.35 596.10 L254.35 594.72 L254.44 594.72 L254.44 596.10 L254.54 596.10 L254.54 596.10 L254.64 596.10 L254.64 596.10 L254.74 596.10 L254.74 596.10 L254.83 596.10 L254.83 596.10 L254.93 596.10 L254.93 595.21 L255.03 595.21 L255.03 596.10 L255.12 596.10 L255.12 596.10 L255.22 596.10 L255.22 596.10 L255.31 596.10 L255.31 596.10 L255.41 596.10 L255.41 596.10 L255.51 596.10 L255.51 596.10 L255.60 596.10 L255.60 596.10 L255.70 596.10 L255.70 596.10 L255.79 596.10 L255.79 596.10 L255.88 596.10 L255.88 593.20 L255.98 593.20 L255.98 596.10 L256.07 596.10 L256.07 596.10 L256.17 596.10 L256.17 596.10 L256.26 596.10 L256.26 596.10 L256.35 596.10 L256.35 596.10 L256.44 596.10 L256.44 596.10 L256.54 596.10 L256.54 596.10 L256.63 596.10 L256.63 596.10 L256.72 596.10 L256.72 596.10 L256.81 596.10 L256.81 596.10 L256.91 596.10 L256.91 596.10 L257.00 596.10 L257.00 596.10 L257.09 596.10 L257.09 596.10 L257.18 596.10 L257.18 596.10 L257.27 596.10 L257.27 596.10 L257.36 596.10 L257.36 596.10 L257.45 596.10 L257.45 596.10 L257.54 596.10 L257.54 596.10 L257.63 596.10 L257.63 596.10 L257.72 596.10 L257.72 596.10 L257.81 596.10 L257.81 596.10 L257.90 596.10 L257.90 596.10 L257.99 596.10 L257.99 596.10 L258.08 596.10 L258.08 596.10 L258.16 596.10 L258.16 595.05 L258.25 595.05 L258.25 596.10 L258.34 596.10 L258.34 596.10 L258.43 596.10 L258.43 596.10 L258.52 596.10 L258.52 596.10 L258.60 596.10 L258.60 596.10 L258.69 596.10 L258.69 596.10 L258.78 596.10 L258.78 593.42 L258.86 593.42 L258.86 595.16 L258.95 595.16 L258.95 596.10 L259.04 596.10 L259.04 596.10 L259.12 596.10 L259.12 596.10 L259.21 596.10 L259.21 596.10 L259.29 596.10 L259.29 596.10 L259.38 596.10 L259.38 596.10 L259.47 596.10 L259.47 596.10 L259.55 596.10 L259.55 596.10 L259.64 596.10 L259.64 596.10 L259.72 596.10 L259.72 596.10 L259.80 596.10 L259.80 596.10 L259.89 596.10 L259.89 596.10 L259.97 596.10 L259.97 596.10 L260.06 596.10 L260.06 596.10 L260.14 596.10 L260.14 596.10 L260.22 596.10 L260.22 596.10 L260.31 596.10 L260.31 596.10 L260.39 596.10 L260.39 596.10 L260.47 596.10 L260.47 596.10 L260.56 596.10 L260.56 596.10 L260.64 596.10 L260.64 596.10 L260.72 596.10 L260.72 596.10 L260.80 596.10 L260.80 596.10 L260.89 596.10 L260.89 596.10 L260.97 596.10 L260.97 596.10 L261.05 596.10 L261.05 592.84 L261.13 592.84 L261.13 596.10 L261.21 596.10 L261.21 596.10 L261.29 596.10 L261.29 596.10 L261.37 596.10 L261.37 596.10 L261.45 596.10 L261.45 596.10 L261.54 596.10 L261.54 596.10 L261.62 596.10 L261.62 596.10 L261.70 596.10 L261.70 596.10 L261.78 596.10 L261.78 596.10 L261.86 596.10 L261.86 596.10 L261.93 596.10 L261.93 596.10 L262.01 596.10 L262.01 596.10 L262.09 596.10 L262.09 596.10 L262.17 596.10 L262.17 596.10 L262.25 596.10 L262.25 596.10 L262.33 596.10 L262.33 596.10 L262.41 596.10 L262.41 596.10 L262.49 596.10 L262.49 596.10 L262.57 596.10 L262.57 596.10 L262.64 596.10 L262.64 596.10 L262.72 596.10 L262.72 596.10 L262.80 596.10 L262.80 596.10 L262.88 596.10 L262.88 596.10 L262.95 596.10 L262.95 596.10 L263.03 596.10 L263.03 596.10 L263.11 596.10 L263.11 596.10 L263.19 596.10 L263.19 596.10 L263.26 596.10 L263.26 593.47 L263.34 593.47 L263.34 596.10 L263.42 596.10 L263.42 596.10 L263.49 596.10 L263.49 596.10 L263.57 596.10 L263.57 596.10 L263.64 596.10 L263.64 596.10 L263.72 596.10 L263.72 596.10 L263.79 596.10 L263.79 592.91 L263.87 592.91 L263.87 596.10 L263.95 596.10 L263.95 596.10 L264.02 596.10 L264.02 596.10 L264.10 596.10 L264.10 596.10 L264.17 596.10 L264.17 596.10 L264.25 596.10 L264.25 596.10 L264.32 596.10 L264.32 596.10 L264.39 596.10 L264.39 596.10 L264.47 596.10 L264.47 596.10 L264.54 596.10 L264.54 596.10 L264.62 596.10 L264.62 596.10 L264.69 596.10 L264.69 596.10 L264.76 596.10 L264.76 596.10 L264.84 596.10 L264.84 596.10 L264.91 596.10 L264.91 596.10 L264.98 596.10 L264.98 596.10 L265.06 596.10 L265.06 595.23 L265.13 595.23 L265.13 596.10 L265.20 596.10 L265.20 596.10 L265.27 596.10 L265.27 593.28 L265.35 593.28 L265.35 596.10 L265.42 596.10 L265.42 596.10 L265.49 596.10 L265.49 593.06 L265.56 593.06 L265.56 596.10 L265.63 596.10 L265.63 596.10 L265.71 596.10 L265.71 596.10 L265.78 596.10 L265.78 596.10 L265.85 596.10 L265.85 596.10 L265.92 596.10 L265.92 596.10 L265.99 596.10 L265.99 596.10 L266.06 596.10 L266.06 596.10 L266.13 596.10 L266.13 596.10 L266.20 596.10 L266.20 596.10 L266.27 596.10 L266.27 596.10 L266.35 596.10 L266.35 596.10 L266.42 596.10 L266.42 596.10 L266.49 596.10 L266.49 596.10 L266.56 596.10 L266.56 596.10 L266.63 596.10 L266.63 596.10 L266.70 596.10 L266.70 596.10 L266.76 596.10 L266.76 596.10 L266.83 596.10 L266.83 593.90 L266.90 593.90 L266.90 596.10 L266.97 596.10 L266.97 596.10 L267.04 596.10 L267.04 593.77 L267.11 593.77 L267.11 596.10 L267.18 596.10 L267.18 596.10 L267.25 596.10 L267.25 596.10 L267.32 596.10 L267.32 596.10 L267.39 596.10 L267.39 596.10 L267.45 596.10 L267.45 596.10 L267.52 596.10 L267.52 596.10 L267.59 596.10 L267.59 596.10 L267.66 596.10 L267.66 596.10 L267.73 596.10 L267.73 596.10 L267.79 596.10 L267.79 596.10 L267.86 596.10 L267.86 596.10 L267.93 596.10 L267.93 596.10 L267.99 596.10 L267.99 596.10 L268.06 596.10 L268.06 596.10 L268.13 596.10 L268.13 596.10 L268.20 596.10 L268.20 596.10 L268.26 596.10 L268.26 596.10 L268.33 596.10 L268.33 596.10 L268.40 596.10 L268.40 596.10 L268.46 596.10 L268.46 596.10 L268.53 596.10 L268.53 596.10 L268.59 596.10 L268.59 596.10 L268.66 596.10 L268.66 596.10 L268.73 596.10 L268.73 596.10 L268.79 596.10 L268.79 596.10 L268.86 596.10 L268.86 596.10 L268.92 596.10 L268.92 596.10 L268.99 596.10 L268.99 596.10 L269.05 596.10 L269.05 596.10 L269.12 596.10 L269.12 596.10 L269.18 596.10 L269.18 596.10 L269.25 596.10 L269.25 596.10 L269.31 596.10 L269.31 596.10 L269.38 596.10 L269.38 596.10 L269.44 596.10 L269.44 596.10 L269.51 596.10 L269.51 596.10 L269.57 596.10 L269.57 596.10 L269.64 596.10 L269.64 596.10 L269.70 596.10 L269.70 596.10 L269.76 596.10 L269.76 596.10 L269.83 596.10 L269.83 596.10 L269.89 596.10 L269.89 596.10 L269.96 596.10 L269.96 596.10 L270.02 596.10 L270.02 596.10 L270.08 596.10 L270.08 596.10 L270.15 596.10 L270.15 596.10 L270.21 596.10 L270.21 596.10 L270.27 596.10 L270.27 596.10 L270.34 596.10 L270.34 594.02 L270.40 594.02 L270.40 596.10 L270.46 596.10 L270.46 596.10 L270.52 596.10 L270.52 596.10 L270.59 596.10 L270.59 596.10 L270.65 596.10 L270.65 596.10 L270.71 596.10 L270.71 596.10 L270.77 596.10 L270.77 596.10 L270.84 596.10 L270.84 596.10 L270.90 596.10 L270.90 596.10 L270.96 596.10 L270.96 594.51 L271.02 594.51 L271.02 596.10 L271.08 596.10 L271.08 596.10 L271.14 596.10 L271.14 596.10 L271.21 596.10 L271.21 596.10 L271.27 596.10 L271.27 596.10 L271.33 596.10 L271.33 596.10 L271.39 596.10 L271.39 596.10 L271.45 596.10 L271.45 596.10 L271.51 596.10 L271.51 596.10 L271.57 596.10 L271.57 596.10 L271.63 596.10 L271.63 596.10 L271.69 596.10 L271.69 596.10 L271.75 596.10 L271.75 596.10 L271.81 596.10 L271.81 596.10 L271.88 596.10 L271.88 596.10 L271.94 596.10 L271.94 596.10 L272.00 596.10 L272.00 596.10 L272.06 596.10 L272.06 596.10 L272.12 596.10 L272.12 596.10 L272.18 596.10 L272.18 596.10 L272.24 596.10 L272.24 596.10 L272.29 596.10 L272.29 596.10 L272.35 596.10 L272.35 596.10 L272.41 596.10 L272.41 596.10 L272.47 596.10 L272.47 596.10 L272.53 596.10 L272.53 596.10 L272.59 596.10 L272.59 596.10 L272.65 596.10 L272.65 596.10 L272.71 596.10 L272.71 596.10 L272.77 596.10 L272.77 596.10 L272.83 596.10 L272.83 596.10 L272.89 596.10 L272.89 596.10 L272.94 596.10 L272.94 596.10 L273.00 596.10 L273.00 596.10 L273.06 596.10 L273.06 594.01 L273.12 594.01 L273.12 596.10 L273.18 596.10 L273.18 596.10 L273.24 596.10 L273.24 596.10 L273.29 596.10 L273.29 596.10 L273.35 596.10 L273.35 596.10 L273.41 596.10 L273.41 596.10 L273.47 596.10 L273.47 596.10 L273.52 596.10 L273.52 596.10 L273.58 596.10 L273.58 596.10 L273.64 596.10 L273.64 596.10 L273.70 596.10 L273.70 596.10 L273.75 596.10 L273.75 596.10 L273.81 596.10 L273.81 596.10 L273.87 596.10 L273.87 596.10 L273.93 596.10 L273.93 596.10 L273.98 596.10 L273.98 596.10 L274.04 596.10 L274.04 596.10 L274.10 596.10 L274.10 596.10 L274.15 596.10 L274.15 596.10 L274.21 596.10 L274.21 596.10 L274.27 596.10 L274.27 596.10 L274.32 596.10 L274.32 596.10 L274.38 596.10 L274.38 596.10 L274.43 596.10 L274.43 596.10 L274.49 596.10 L274.49 596.10 L274.55 596.10 L274.55 596.10 L274.60 596.10 L274.60 596.10 L274.66 596.10 L274.66 596.10 L274.71 596.10 L274.71 596.10 L274.77 596.10 L274.77 596.10 L274.83 596.10 L274.83 596.10 L274.88 596.10 L274.88 596.10 L274.94 596.10 L274.94 596.10 L274.99 596.10 L274.99 593.03 L275.05 593.03 L275.05 594.62 L275.10 594.62 L275.10 596.10 L275.16 596.10 L275.16 594.50 L275.21 594.50 L275.21 596.10 L275.27 596.10 L275.27 596.10 L275.32 596.10 L275.32 596.10 L275.38 596.10 L275.38 596.10 L275.43 596.10 L275.43 596.10 L275.49 596.10 L275.49 596.10 L275.54 596.10 L275.54 596.10 L275.59 596.10 L275.59 596.10 L275.65 596.10 L275.65 596.10 L275.70 596.10 L275.70 594.97 L275.76 594.97 L275.76 593.58 L275.81 593.58 L275.81 596.10 L275.87 596.10 L275.87 596.10 L275.92 596.10 L275.92 596.10 L275.97 596.10 L275.97 596.10 L276.03 596.10 L276.03 593.05 L276.08 593.05 L276.08 596.10 L276.13 596.10 L276.13 596.10 L276.19 596.10 L276.19 596.10 L276.24 596.10 L276.24 596.10 L276.29 596.10 L276.29 596.10 L276.35 596.10 L276.35 596.10 L276.40 596.10 L276.40 596.10 L276.45 596.10 L276.45 596.10 L276.51 596.10 L276.51 596.10 L276.56 596.10 L276.56 596.10 L276.61 596.10 L276.61 596.10 L276.67 596.10 L276.67 596.10 L276.72 596.10 L276.72 596.10 L276.77 596.10 L276.77 596.10 L276.82 596.10 L276.82 596.10 L276.88 596.10 L276.88 593.07 L276.93 593.07 L276.93 596.10 L276.98 596.10 L276.98 596.10 L277.03 596.10 L277.03 596.10 L277.08 596.10 L277.08 596.10 L277.14 596.10 L277.14 596.10 L277.19 596.10 L277.19 596.10 L277.24 596.10 L277.24 596.10 L277.29 596.10 L277.29 594.12 L277.34 594.12 L277.34 596.10 L277.40 596.10 L277.40 596.10 L277.45 596.10 L277.45 596.10 L277.50 596.10 L277.50 596.10 L277.55 596.10 L277.55 596.10 L277.60 596.10 L277.60 596.10 L277.65 596.10 L277.65 596.10 L277.71 596.10 L277.71 596.10 L277.76 596.10 L277.76 595.21 L277.81 595.21 L277.81 596.10 L277.86 596.10 L277.86 596.10 L277.91 596.10 L277.91 596.10 L277.96 596.10 L277.96 596.10 L278.01 596.10 L278.01 596.10 L278.06 596.10 L278.06 596.10 L278.11 596.10 L278.11 596.10 L278.16 596.10 L278.16 596.10 L278.21 596.10 L278.21 596.10 L278.26 596.10 L278.26 596.10 L278.31 596.10 L278.31 596.10 L278.37 596.10 L278.37 596.10 L278.42 596.10 L278.42 596.10 L278.47 596.10 L278.47 596.10 L278.52 596.10 L278.52 596.10 L278.57 596.10 L278.57 596.10 L278.62 596.10 L278.62 596.10 L278.67 596.10 L278.67 596.10 L278.72 596.10 L278.72 596.10 L278.77 596.10 L278.77 596.10 L278.82 596.10 L278.82 596.10 L278.86 596.10 L278.86 596.10 L278.91 596.10 L278.91 596.10 L278.96 596.10 L278.96 596.10 L279.01 596.10 L279.01 596.10 L279.06 596.10 L279.06 596.10 L279.11 596.10 L279.11 596.10 L279.16 596.10 L279.16 596.10 L279.21 596.10 L279.21 596.10 L279.26 596.10 L279.26 596.10 L279.31 596.10 L279.31 596.10 L279.36 596.10 L279.36 596.10 L279.41 596.10 L279.41 596.10 L279.46 596.10 L279.46 593.93 L279.50 593.93 L279.50 596.10 L279.55 596.10 L279.55 596.10 L279.60 596.10 L279.60 596.10 L279.65 596.10 L279.65 596.10 L279.70 596.10 L279.70 596.10 L279.75 596.10 L279.75 596.10 L279.80 596.10 L279.80 596.10 L279.84 596.10 L279.84 596.10 L279.89 596.10 L279.89 596.10 L279.94 596.10 L279.94 596.10 L279.99 596.10 L279.99 596.10 L280.04 596.10 L280.04 596.10 L280.08 596.10 L280.08 596.10 L280.13 596.10 L280.13 595.26 L280.18 595.26 L280.18 596.10 L280.23 596.10 L280.23 596.10 L280.28 596.10 L280.28 596.10 L280.32 596.10 L280.32 596.10 L280.37 596.10 L280.37 596.10 L280.42 596.10 L280.42 596.10 L280.47 596.10 L280.47 596.10 L280.51 596.10 L280.51 596.10 L280.56 596.10 L280.56 596.10 L280.61 596.10 L280.61 596.10 L280.66 596.10 L280.66 596.10 L280.70 596.10 L280.70 596.10 L280.75 596.10 L280.75 596.10 L280.80 596.10 L280.80 596.10 L280.84 596.10 L280.84 596.10 L280.89 596.10 L280.89 596.10 L280.94 596.10 L280.94 596.10 L280.98 596.10 L280.98 596.10 L281.03 596.10 L281.03 596.10 L281.08 596.10 L281.08 596.10 L281.12 596.10 L281.12 596.10 L281.17 596.10 L281.17 596.10 L281.22 596.10 L281.22 596.10 L281.26 596.10 L281.26 596.10 L281.31 596.10 L281.31 596.10 L281.36 596.10 L281.36 596.10 L281.40 596.10 L281.40 596.10 L281.45 596.10 L281.45 596.10 L281.49 596.10 L281.49 596.10 L281.54 596.10 L281.54 596.10 L281.59 596.10 L281.59 596.10 L281.63 596.10 L281.63 596.10 L281.68 596.10 L281.68 594.10 L281.72 594.10 L281.72 596.10 L281.77 596.10 L281.77 596.10 L281.82 596.10 L281.82 596.10 L281.86 596.10 L281.86 596.10 L281.91 596.10 L281.91 596.10 L281.95 596.10 L281.95 596.10 L282.00 596.10 L282.00 595.09 L282.04 595.09 L282.04 596.10 L282.09 596.10 L282.09 596.10 L282.13 596.10 L282.13 596.10 L282.18 596.10 L282.18 596.10 L282.23 596.10 L282.23 596.10 L282.27 596.10 L282.27 596.10 L282.32 596.10 L282.32 596.10 L282.36 596.10 L282.36 596.10 L282.41 596.10 L282.41 596.10 L282.45 596.10 L282.45 596.10 L282.50 596.10 L282.50 596.10 L282.54 596.10 L282.54 596.10 L282.58 596.10 L282.58 596.10 L282.63 596.10 L282.63 596.10 L282.67 596.10 L282.67 596.10 L282.72 596.10 L282.72 596.10 L282.76 596.10 L282.76 596.10 L282.81 596.10 L282.81 596.10 L282.85 596.10 L282.85 596.10 L282.90 596.10 L282.90 596.10 L282.94 596.10 L282.94 596.10 L282.99 596.10 L282.99 596.10 L283.03 596.10 L283.03 596.10 L283.07 596.10 L283.07 596.10 L283.12 596.10 L283.12 596.10 L283.16 596.10 L283.16 596.10 L283.21 596.10 L283.21 596.10 L283.25 596.10 L283.25 596.10 L283.29 596.10 L283.29 596.10 L283.34 596.10 L283.34 596.10 L283.38 596.10 L283.38 596.10 L283.42 596.10 L283.42 596.10 L283.47 596.10 L283.47 596.10 L283.51 596.10 L283.51 596.10 L283.56 596.10 L283.56 596.10 L283.60 596.10 L283.60 596.10 L283.64 596.10 L283.64 596.10 L283.69 596.10 L283.69 596.10 L283.73 596.10 L283.73 596.10 L283.77 596.10 L283.77 596.10 L283.82 596.10 L283.82 596.10 L283.86 596.10 L283.86 596.10 L283.90 596.10 L283.90 596.10 L283.95 596.10 L283.95 596.10 L283.99 596.10 L283.99 596.10 L284.03 596.10 L284.03 596.10 L284.07 596.10 L284.07 596.10 L284.12 596.10 L284.12 596.10 L284.16 596.10 L284.16 596.10 L284.20 596.10 L284.20 596.10 L284.25 596.10 L284.25 596.10 L284.29 596.10 L284.29 596.10 L284.33 596.10 L284.33 596.10 L284.37 596.10 L284.37 596.10 L284.42 596.10 L284.42 596.10 L284.46 596.10 L284.46 596.10 L284.50 596.10 L284.50 596.10 L284.54 596.10 L284.54 596.10 L284.59 596.10 L284.59 596.10 L284.63 596.10 L284.63 596.10 L284.67 596.10 L284.67 596.10 L284.71 596.10 L284.71 596.10 L284.75 596.10 L284.75 596.10 L284.80 596.10 L284.80 596.10 L284.84 596.10 L284.84 596.10 L284.88 596.10 L284.88 596.10 L284.92 596.10 L284.92 596.10 L284.96 596.10 L284.96 596.10 L285.01 596.10 L285.01 596.10 L285.05 596.10 L285.05 596.10 L285.09 596.10 L285.09 594.56 L285.13 594.56 L285.13 596.10 L285.17 596.10 L285.17 596.10 L285.21 596.10 L285.21 596.10 L285.26 596.10 L285.26 596.10 L285.30 596.10 L285.30 592.89 L285.34 592.89 L285.34 596.10 L285.38 596.10 L285.38 596.10 L285.42 596.10 L285.42 596.10 L285.46 596.10 L285.46 596.10 L285.50 596.10 L285.50 596.10 L285.55 596.10 L285.55 596.10 L285.59 596.10 L285.59 596.10 L285.63 596.10 L285.63 596.10 L285.67 596.10 L285.67 596.10 L285.71 596.10 L285.71 596.10 L285.75 596.10 L285.75 596.10 L285.79 596.10 L285.79 596.10 L285.83 596.10 L285.83 596.10 L285.87 596.10 L285.87 596.10 L285.91 596.10 L285.91 596.10 L285.96 596.10 L285.96 596.10 L286.00 596.10 L286.00 596.10 L286.04 596.10 L286.04 596.10 L286.08 596.10 L286.08 596.10 L286.12 596.10 L286.12 596.10 L286.16 596.10 L286.16 596.10 L286.20 596.10 L286.20 596.10 L286.24 596.10 L286.24 596.10 L286.28 596.10 L286.28 594.83 L286.32 594.83 L286.32 596.10 L286.36 596.10 L286.36 596.10 L286.40 596.10 L286.40 596.10 L286.44 596.10 L286.44 594.60 L286.48 594.60 L286.48 596.10 L286.52 596.10 L286.52 596.10 L286.56 596.10 L286.56 596.10 L286.60 596.10 L286.60 596.10 L286.64 596.10 L286.64 596.10 L286.68 596.10 L286.68 596.10 L286.72 596.10 L286.72 596.10 L286.76 596.10 L286.76 593.01 L286.80 593.01 L286.80 596.10 L286.84 596.10 L286.84 596.10 L286.88 596.10 L286.88 596.10 L286.92 596.10 L286.92 596.10 L286.96 596.10 L286.96 596.10 L287.00 596.10 L287.00 596.10 L287.04 596.10 L287.04 596.10 L287.08 596.10 L287.08 596.10 L287.12 596.10 L287.12 594.52 L287.16 594.52 L287.16 596.10 L287.20 596.10 L287.20 596.10 L287.23 596.10 L287.23 596.10 L287.27 596.10 L287.27 596.10 L287.31 596.10 L287.31 596.10 L287.35 596.10 L287.35 596.10 L287.39 596.10 L287.39 596.10 L287.43 596.10 L287.43 596.10 L287.47 596.10 L287.47 596.10 L287.51 596.10 L287.51 596.10 L287.55 596.10 L287.55 596.10 L287.59 596.10 L287.59 596.10 L287.63 596.10 L287.63 596.10 L287.66 596.10 L287.66 596.10 L287.70 596.10 L287.70 596.10 L287.74 596.10 L287.74 596.10 L287.78 596.10 L287.78 596.10 L287.82 596.10 L287.82 596.10 L287.86 596.10 L287.86 596.10 L287.90 596.10 L287.90 596.10 L287.94 596.10 L287.94 596.10 L287.97 596.10 L287.97 596.10 L288.01 596.10 L288.01 596.10 L288.05 596.10 L288.05 596.10 L288.09 596.10 L288.09 596.10 L288.13 596.10 L288.13 596.10 L288.17 596.10 L288.17 593.68 L288.20 593.68 L288.20 596.10 L288.24 596.10 L288.24 596.10 L288.28 596.10 L288.28 596.10 L288.32 596.10 L288.32 596.10 L288.36 596.10 L288.36 596.10 L288.39 596.10 L288.39 596.10 L288.43 596.10 L288.43 596.10 L288.47 596.10 L288.47 596.10 L288.51 596.10 L288.51 596.10 L288.55 596.10 L288.55 596.10 L288.58 596.10 L288.58 596.10 L288.62 596.10 L288.62 596.10 L288.66 596.10 L288.66 596.10 L288.70 596.10 L288.70 596.10 L288.74 596.10 L288.74 596.10 L288.77 596.10 L288.77 596.10 L288.81 596.10 L288.81 596.10 L288.85 596.10 L288.85 596.10 L288.89 596.10 L288.89 596.10 L288.92 596.10 L288.92 596.10 L288.96 596.10 L288.96 596.10 L289.00 596.10 L289.00 596.10 L289.04 596.10 L289.04 593.44 L289.07 593.44 L289.07 596.10 L289.11 596.10 L289.11 596.10 L289.15 596.10 L289.15 594.63 L289.18 594.63 L289.18 596.10 L289.22 596.10 L289.22 596.10 L289.26 596.10 L289.26 596.10 L289.30 596.10 L289.30 596.10 L289.33 596.10 L289.33 596.10 L289.37 596.10 L289.37 596.10 L289.41 596.10 L289.41 596.10 L289.44 596.10 L289.44 596.10 L289.48 596.10 L289.48 596.10 L289.52 596.10 L289.52 596.10 L289.55 596.10 L289.55 596.10 L289.59 596.10 L289.59 596.10 L289.63 596.10 L289.63 596.10 L289.67 596.10 L289.67 596.10 L289.70 596.10 L289.70 596.10 L289.74 596.10 L289.74 596.10 L289.78 596.10 L289.78 596.10 L289.81 596.10 L289.81 596.10 L289.85 596.10 L289.85 596.10 L289.88 596.10 L289.88 596.10 L289.92 596.10 L289.92 596.10 L289.96 596.10 L289.96 596.10 L289.99 596.10 L289.99 596.10 L290.03 596.10 L290.03 596.10 L290.07 596.10 L290.07 596.10 L290.10 596.10 L290.10 596.10 L290.14 596.10 L290.14 596.10 L290.18 596.10 L290.18 596.10 L290.21 596.10 L290.21 596.10 L290.25 596.10 L290.25 596.10 L290.28 596.10 L290.28 596.10 L290.32 596.10 L290.32 596.10 L290.36 596.10 L290.36 596.10 L290.39 596.10 L290.39 596.10 L290.43 596.10 L290.43 596.10 L290.46 596.10 L290.46 596.10 L290.50 596.10 L290.50 596.1 Z" fill="#8fbbd9" />
<path d="M42.70 596.1 L42.70 583.62 L67.57 583.62 L67.57 591.11 L82.11 591.11 L82.11 589.44 L92.43 589.44 L92.43 591.11 L100.43 591.11 L100.43 592.77 L106.98 592.77 L106.98 585.28 L112.51 585.28 L112.51 591.94 L117.30 591.94 L117.30 592.77 L121.52 592.77 L121.52 593.60 L125.30 593.60 L125.30 590.28 L128.72 590.28 L128.72 534.53 L131.84 534.53 L131.84 592.77 L134.71 592.77 L134.71 591.11 L137.37 591.11 L137.37 593.60 L139.85 593.60 L139.85 591.94 L142.16 591.94 L142.16 594.44 L144.34 594.44 L144.34 592.77 L146.39 592.77 L146.39 591.94 L148.33 591.94 L148.33 594.44 L150.17 594.44 L150.17 593.60 L151.92 593.60 L151.92 593.70 L153.58 593.70 L153.58 596.10 L155.18 596.10 L155.18 596.10 L156.71 596.10 L156.71 596.10 L158.17 596.10 L158.17 593.34 L159.58 593.34 L159.58 594.05 L160.93 594.05 L160.93 592.96 L162.24 592.96 L162.24 595.17 L163.49 595.17 L163.49 596.10 L164.71 596.10 L164.71 595.07 L165.89 595.07 L165.89 596.10 L167.03 596.10 L167.03 593.87 L168.13 593.87 L168.13 596.10 L169.20 596.10 L169.20 594.88 L170.24 594.88 L170.24 595.09 L171.25 595.09 L171.25 594.29 L172.23 594.29 L172.23 595.32 L173.19 595.32 L173.19 594.01 L174.12 594.01 L174.12 596.10 L175.03 596.10 L175.03 593.21 L175.92 593.21 L175.92 593.35 L176.78 593.35 L176.78 594.61 L177.62 594.61 L177.62 596.10 L178.45 596.10 L178.45 593.87 L179.26 593.87 L179.26 595.53 L180.04 595.53 L180.04 593.36 L180.82 593.36 L180.82 596.10 L181.57 596.10 L181.57 593.07 L182.31 593.07 L182.31 593.04 L183.03 593.04 L183.03 593.32 L183.75 593.32 L183.75 593.97 L184.44 593.97 L184.44 596.10 L185.13 596.10 L185.13 595.15 L185.80 595.15 L185.80 593.13 L186.45 593.13 L186.45 594.09 L187.10 594.09 L187.10 594.78 L187.74 594.78 L187.74 596.10 L188.36 596.10 L188.36 593.41 L188.97 593.41 L188.97 595.26 L189.58 595.26 L189.58 596.10 L190.17 596.10 L190.17 595.39 L190.75 595.39 L190.75 594.66 L191.33 594.66 L191.33 595.23 L191.89 595.23 L191.89 596.10 L192.45 596.10 L192.45 593.60 L192.99 593.60 L192.99 595.64 L193.53 595.64 L193.53 595.33 L194.07 595.33 L194.07 596.10 L194.59 596.10 L194.59 594.96 L195.11 594.96 L195.11 593.82 L195.61 593.82 L195.61 595.16 L196.12 595.16 L196.12 593.61 L196.61 593.61 L196.61 594.05 L197.10 594.05 L197.10 594.06 L197.58 594.06 L197.58 593.00 L198.06 593.00 L198.06 596.10 L198.52 596.10 L198.52 594.30 L198.99 594.30 L198.99 593.50 L199.44 593.50 L199.44 593.62 L199.90 593.62 L199.90 594.52 L200.34 594.52 L200.34 595.16 L200.78 595.16 L200.78 594.98 L201.22 594.98 L201.22 593.17 L201.65 593.17 L201.65 593.54 L202.07 593.54 L202.07 592.99 L202.49 592.99 L202.49 593.52 L202.90 593.52 L202.90 593.93 L203.31 593.93 L203.31 596.10 L203.72 596.10 L203.72 595.41 L204.12 595.41 L204.12 593.44 L204.52 593.44 L204.52 595.50 L204.91 595.50 L204.91 593.02 L205.30 593.02 L205.30 595.43 L205.68 595.43 L205.68 596.10 L206.06 596.10 L206.06 596.10 L206.44 596.10 L206.44 593.65 L206.81 593.65 L206.81 593.25 L207.18 593.25 L207.18 593.56 L207.54 593.56 L207.54 596.10 L207.90 596.10 L207.90 594.16 L208.26 594.16 L208.26 592.83 L208.61 592.83 L208.61 596.10 L208.96 596.10 L208.96 596.10 L209.31 596.10 L209.31 593.08 L209.65 593.08 L209.65 596.10 L209.99 596.10 L209.99 595.30 L210.33 595.30 L210.33 595.29 L210.66 595.29 L210.66 594.03 L210.99 594.03 L210.99 593.81 L211.32 593.81 L211.32 596.10 L211.64 596.10 L211.64 596.10 L211.97 596.10 L211.97 592.91 L212.28 592.91 L212.28 594.67 L212.60 594.67 L212.60 592.84 L212.91 592.84 L212.91 593.37 L213.22 593.37 L213.22 596.10 L213.53 596.10 L213.53 593.89 L213.84 593.89 L213.84 596.10 L214.14 596.10 L214.14 595.32 L214.44 595.32 L214.44 596.10 L214.74 596.10 L214.74 594.46 L215.03 594.46 L215.03 594.39 L215.33 594.39 L215.33 594.66 L215.62 594.66 L215.62 593.82 L215.90 593.82 L215.90 595.65 L216.19 595.65 L216.19 596.10 L216.47 596.10 L216.47 594.87 L216.76 594.87 L216.76 592.95 L217.03 592.95 L217.03 594.57 L217.31 594.57 L217.31 593.74 L217.59 593.74 L217.59 593.40 L217.86 593.40 L217.86 594.12 L218.13 594.12 L218.13 593.42 L218.40 593.42 L218.40 595.41 L218.67 595.41 L218.67 595.55 L218.93 595.55 L218.93 596.10 L219.19 596.10 L219.19 594.32 L219.45 594.32 L219.45 594.28 L219.71 594.28 L219.71 595.11 L219.97 595.11 L219.97 592.85 L220.23 592.85 L220.23 595.05 L220.48 595.05 L220.48 595.37 L220.73 595.37 L220.73 592.89 L220.98 592.89 L220.98 596.10 L221.23 596.10 L221.23 593.26 L221.48 593.26 L221.48 595.08 L221.72 595.08 L221.72 596.10 L221.96 596.10 L221.96 593.82 L222.21 593.82 L222.21 593.65 L222.45 593.65 L222.45 595.25 L222.68 595.25 L222.68 594.83 L222.92 594.83 L222.92 593.53 L223.16 593.53 L223.16 593.57 L223.39 593.57 L223.39 596.10 L223.62 596.10 L223.62 594.01 L223.85 594.01 L223.85 593.12 L224.08 593.12 L224.08 595.39 L224.31 595.39 L224.31 594.39 L224.54 594.39 L224.54 595.09 L224.76 595.09 L224.76 596.10 L224.98 596.10 L224.98 594.55 L225.21 594.55 L225.21 595.57 L225.43 595.57 L225.43 596.10 L225.65 596.10 L225.65 596.10 L225.86 596.10 L225.86 594.36 L226.08 594.36 L226.08 593.38 L226.30 593.38 L226.30 596.10 L226.51 596.10 L226.51 592.83 L226.72 592.83 L226.72 593.16 L226.94 593.16 L226.94 596.10 L227.15 596.10 L227.15 596.10 L227.35 596.10 L227.35 594.20 L227.56 594.20 L227.56 592.91 L227.77 592.91 L227.77 593.99 L227.97 593.99 L227.97 595.18 L228.18 595.18 L228.18 594.81 L228.38 594.81 L228.38 594.52 L228.58 594.52 L228.58 593.59 L228.79 593.59 L228.79 592.92 L228.99 592.92 L228.99 596.10 L229.18 596.10 L229.18 593.90 L229.38 593.90 L229.38 593.39 L229.58 593.39 L229.58 594.72 L229.77 594.72 L229.77 594.77 L229.97 594.77 L229.97 596.10 L230.16 596.10 L230.16 593.62 L230.35 593.62 L230.35 593.07 L230.55 593.07 L230.55 596.10 L230.74 596.10 L230.74 596.10 L230.93 596.10 L230.93 593.26 L231.11 593.26 L231.11 596.10 L231.30 596.10 L231.30 595.47 L231.49 595.47 L231.49 592.81 L231.67 592.81 L231.67 593.24 L231.86 593.24 L231.86 594.30 L232.04 594.30 L232.04 594.21 L232.22 594.21 L232.22 595.10 L232.40 595.10 L232.40 596.10 L232.59 596.10 L232.59 595.20 L232.77 595.20 L232.77 596.10 L232.94 596.10 L232.94 596.10 L233.12 596.10 L233.12 596.10 L233.30 596.10 L233.30 596.10 L233.48 596.10 L233.48 596.10 L233.65 596.10 L233.65 594.98 L233.83 594.98 L233.83 594.43 L234.00 594.43 L234.00 594.31 L234.17 594.31 L234.17 596.10 L234.34 596.10 L234.34 596.10 L234.52 596.10 L234.52 596.10 L234.69 596.10 L234.69 596.10 L234.86 596.10 L234.86 596.10 L235.02 596.10 L235.02 596.10 L235.19 596.10 L235.19 596.10 L235.36 596.10 L235.36 596.10 L235.53 596.10 L235.53 595.36 L235.69 595.36 L235.69 596.10 L235.86 596.10 L235.86 596.10 L236.02 596.10 L236.02 596.10 L236.18 596.10 L236.18 596.10 L236.35 596.10 L236.35 596.10 L236.51 596.10 L236.51 596.10 L236.67 596.10 L236.67 596.10 L236.83 596.10 L236.83 596.10 L236.99 596.10 L236.99 594.67 L237.15 594.67 L237.15 596.10 L237.31 596.10 L237.31 596.10 L237.47 596.10 L237.47 595.37 L237.62 595.37 L237.62 594.38 L237.78 594.38 L237.78 596.10 L237.93 596.10 L237.93 596.10 L238.09 596.10 L238.09 596.10 L238.24 596.10 L238.24 596.10 L238.40 596.10 L238.40 596.10 L238.55 596.10 L238.55 595.11 L238.70 595.11 L238.70 596.10 L238.85 596.10 L238.85 596.10 L239.01 596.10 L239.01 595.49 L239.16 595.49 L239.16 596.10 L239.31 596.10 L239.31 596.10 L239.45 596.10 L239.45 596.10 L239.60 596.10 L239.60 596.10 L239.75 596.10 L239.75 596.10 L239.90 596.10 L239.90 596.10 L240.05 596.10 L240.05 594.25 L240.19 594.25 L240.19 595.56 L240.34 595.56 L240.34 594.83 L240.48 594.83 L240.48 596.10 L240.63 596.10 L240.63 596.10 L240.77 596.10 L240.77 596.10 L240.91 596.10 L240.91 595.05 L241.06 595.05 L241.06 596.10 L241.20 596.10 L241.20 596.10 L241.34 596.10 L241.34 596.10 L241.48 596.10 L241.48 596.10 L241.62 596.10 L241.62 594.38 L241.76 594.38 L241.76 596.10 L241.90 596.10 L241.90 594.33 L242.04 594.33 L242.04 594.55 L242.18 594.55 L242.18 596.10 L242.31 596.10 L242.31 595.53 L242.45 595.53 L242.45 594.64 L242.59 594.64 L242.59 596.10 L242.72 596.10 L242.72 596.10 L242.86 596.10 L242.86 594.65 L243.00 594.65 L243.00 595.61 L243.13 595.61 L243.13 595.50 L243.26 595.50 L243.26 595.62 L243.40 595.62 L243.40 596.10 L243.53 596.10 L243.53 596.10 L243.66 596.10 L243.66 596.10 L243.80 596.10 L243.80 596.10 L243.93 596.10 L243.93 596.10 L244.06 596.10 L244.06 594.11 L244.19 594.11 L244.19 594.09 L244.32 594.09 L244.32 596.10 L244.45 596.10 L244.45 596.10 L244.58 596.10 L244.58 594.04 L244.71 594.04 L244.71 596.10 L244.84 596.10 L244.84 596.10 L244.96 596.10 L244.96 596.10 L245.09 596.10 L245.09 596.10 L245.22 596.10 L245.22 596.10 L245.34 596.10 L245.34 596.10 L245.47 596.10 L245.47 596.10 L245.60 596.10 L245.60 594.80 L245.72 594.80 L245.72 596.10 L245.85 596.10 L245.85 594.20 L245.97 594.20 L245.97 596.10 L246.09 596.10 L246.09 595.19 L246.22 595.19 L246.22 596.10 L246.34 596.10 L246.34 596.10 L246.46 596.10 L246.46 596.10 L246.59 596.10 L246.59 594.29 L246.71 594.29 L246.71 596.10 L246.83 596.10 L246.83 596.10 L246.95 596.10 L246.95 595.51 L247.07 595.51 L247.07 594.97 L247.19 594.97 L247.19 595.34 L247.31 595.34 L247.31 595.46 L247.43 595.46 L247.43 595.26 L247.55 595.26 L247.55 596.10 L247.67 596.10 L247.67 596.10 L247.79 596.10 L247.79 596.10 L247.90 596.10 L247.90 596.10 L248.02 596.10 L248.02 596.10 L248.14 596.10 L248.14 596.10 L248.25 596.10 L248.25 596.10 L248.37 596.10 L248.37 596.10 L248.49 596.10 L248.49 596.10 L248.60 596.10 L248.60 596.10 L248.72 596.10 L248.72 594.67 L248.83 594.67 L248.83 594.14 L248.95 594.14 L248.95 594.02 L249.06 594.02 L249.06 595.12 L249.17 595.12 L249.17 596.10 L249.29 596.10 L249.29 596.10 L249.40 596.10 L249.40 595.47 L249.51 595.47 L249.51 596.10 L249.63 596.10 L249.63 594.84 L249.74 594.84 L249.74 596.10 L249.85 596.10 L249.85 596.10 L249.96 596.10 L249.96 596.10 L250.07 596.10 L250.07 594.13 L250.18 594.13 L250.18 596.10 L250.29 596.10 L250.29 596.10 L250.40 596.10 L250.40 596.10 L250.51 596.10 L250.51 596.10 L250.62 596.10 L250.62 596.10 L250.73 596.10 L250.73 595.09 L250.84 595.09 L250.84 596.10 L250.95 596.10 L250.95 596.10 L251.05 596.10 L251.05 596.10 L251.16 596.10 L251.16 596.10 L251.27 596.10 L251.27 596.10 L251.38 596.10 L251.38 596.10 L251.48 596.10 L251.48 596.10 L251.59 596.10 L251.59 594.23 L251.69 594.23 L251.69 596.10 L251.80 596.10 L251.80 596.10 L251.91 596.10 L251.91 596.10 L252.01 596.10 L252.01 595.66 L252.12 595.66 L252.12 594.20 L252.22 594.20 L252.22 596.10 L252.32 596.10 L252.32 596.10 L252.43 596.10 L252.43 596.10 L252.53 596.10 L252.53 596.10 L252.63 596.10 L252.63 596.10 L252.74 596.10 L252.74 596.10 L252.84 596.10 L252.84 596.10 L252.94 596.10 L252.94 594.11 L253.04 594.11 L253.04 594.17 L253.15 594.17 L253.15 596.10 L253.25 596.10 L253.25 594.05 L253.35 594.05 L253.35 594.56 L253.45 594.56 L253.45 595.46 L253.55 595.46 L253.55 596.10 L253.65 596.10 L253.65 596.10 L253.75 596.10 L253.75 596.10 L253.85 596.10 L253.85 596.10 L253.95 596.10 L253.95 596.10 L254.05 596.10 L254.05 594.02 L254.15 594.02 L254.15 594.62 L254.25 594.62 L254.25 595.16 L254.35 595.16 L254.35 596.10 L254.44 596.10 L254.44 596.10 L254.54 596.10 L254.54 596.10 L254.64 596.10 L254.64 596.10 L254.74 596.10 L254.74 594.61 L254.83 594.61 L254.83 596.10 L254.93 596.10 L254.93 595.07 L255.03 595.07 L255.03 596.10 L255.12 596.10 L255.12 596.10 L255.22 596.10 L255.22 596.10 L255.31 596.10 L255.31 594.64 L255.41 594.64 L255.41 596.10 L255.51 596.10 L255.51 596.10 L255.60 596.10 L255.60 596.10 L255.70 596.10 L255.70 596.10 L255.79 596.10 L255.79 596.10 L255.88 596.10 L255.88 595.46 L255.98 595.46 L255.98 595.37 L256.07 595.37 L256.07 595.50 L256.17 595.50 L256.17 596.10 L256.26 596.10 L256.26 596.10 L256.35 596.10 L256.35 596.10 L256.44 596.10 L256.44 596.10 L256.54 596.10 L256.54 594.24 L256.63 594.24 L256.63 596.10 L256.72 596.10 L256.72 596.10 L256.81 596.10 L256.81 595.68 L256.91 595.68 L256.91 594.48 L257.00 594.48 L257.00 594.94 L257.09 594.94 L257.09 596.10 L257.18 596.10 L257.18 596.10 L257.27 596.10 L257.27 594.12 L257.36 594.12 L257.36 596.10 L257.45 596.10 L257.45 596.10 L257.54 596.10 L257.54 596.10 L257.63 596.10 L257.63 596.10 L257.72 596.10 L257.72 596.10 L257.81 596.10 L257.81 595.45 L257.90 595.45 L257.90 595.51 L257.99 595.51 L257.99 596.10 L258.08 596.10 L258.08 596.10 L258.16 596.10 L258.16 595.55 L258.25 595.55 L258.25 594.92 L258.34 594.92 L258.34 596.10 L258.43 596.10 L258.43 596.10 L258.52 596.10 L258.52 596.10 L258.60 596.10 L258.60 594.31 L258.69 594.31 L258.69 594.71 L258.78 594.71 L258.78 596.10 L258.86 596.10 L258.86 594.78 L258.95 594.78 L258.95 594.36 L259.04 594.36 L259.04 594.38 L259.12 594.38 L259.12 595.67 L259.21 595.67 L259.21 596.10 L259.29 596.10 L259.29 596.10 L259.38 596.10 L259.38 596.10 L259.47 596.10 L259.47 594.84 L259.55 594.84 L259.55 594.58 L259.64 594.58 L259.64 595.40 L259.72 595.40 L259.72 596.10 L259.80 596.10 L259.80 595.46 L259.89 595.46 L259.89 595.13 L259.97 595.13 L259.97 596.10 L260.06 596.10 L260.06 596.10 L260.14 596.10 L260.14 594.30 L260.22 594.30 L260.22 596.10 L260.31 596.10 L260.31 595.40 L260.39 595.40 L260.39 594.83 L260.47 594.83 L260.47 596.10 L260.56 596.10 L260.56 596.10 L260.64 596.10 L260.64 594.24 L260.72 594.24 L260.72 596.10 L260.80 596.10 L260.80 596.10 L260.89 596.10 L260.89 595.39 L260.97 595.39 L260.97 596.10 L261.05 596.10 L261.05 594.65 L261.13 594.65 L261.13 596.10 L261.21 596.10 L261.21 595.44 L261.29 595.44 L261.29 594.95 L261.37 594.95 L261.37 596.10 L261.45 596.10 L261.45 596.10 L261.54 596.10 L261.54 596.10 L261.62 596.10 L261.62 594.78 L261.70 594.78 L261.70 595.20 L261.78 595.20 L261.78 596.10 L261.86 596.10 L261.86 595.03 L261.93 595.03 L261.93 596.10 L262.01 596.10 L262.01 596.10 L262.09 596.10 L262.09 594.70 L262.17 594.70 L262.17 596.10 L262.25 596.10 L262.25 595.51 L262.33 595.51 L262.33 595.12 L262.41 595.12 L262.41 596.10 L262.49 596.10 L262.49 596.10 L262.57 596.10 L262.57 596.10 L262.64 596.10 L262.64 596.10 L262.72 596.10 L262.72 596.10 L262.80 596.10 L262.80 596.10 L262.88 596.10 L262.88 596.10 L262.95 596.10 L262.95 596.10 L263.03 596.10 L263.03 596.10 L263.11 596.10 L263.11 594.61 L263.19 594.61 L263.19 596.10 L263.26 596.10 L263.26 596.10 L263.34 596.10 L263.34 596.10 L263.42 596.10 L263.42 596.10 L263.49 596.10 L263.49 596.10 L263.57 596.10 L263.57 596.10 L263.64 596.10 L263.64 596.10 L263.72 596.10 L263.72 596.10 L263.79 596.10 L263.79 596.10 L263.87 596.10 L263.87 596.10 L263.95 596.10 L263.95 596.10 L264.02 596.10 L264.02 594.02 L264.10 594.02 L264.10 594.22 L264.17 594.22 L264.17 596.10 L264.25 596.10 L264.25 596.10 L264.32 596.10 L264.32 595.21 L264.39 595.21 L264.39 595.48 L264.47 595.48 L264.47 595.40 L264.54 595.40 L264.54 596.10 L264.62 596.10 L264.62 596.10 L264.69 596.10 L264.69 596.10 L264.76 596.10 L264.76 596.10 L264.84 596.10 L264.84 596.10 L264.91 596.10 L264.91 594.19 L264.98 594.19 L264.98 594.83 L265.06 594.83 L265.06 596.10 L265.13 596.10 L265.13 595.24 L265.20 595.24 L265.20 596.10 L265.27 596.10 L265.27 594.24 L265.35 594.24 L265.35 596.10 L265.42 596.10 L265.42 596.10 L265.49 596.10 L265.49 596.10 L265.56 596.10 L265.56 594.27 L265.63 594.27 L265.63 596.10 L265.71 596.10 L265.71 596.10 L265.78 596.10 L265.78 596.10 L265.85 596.10 L265.85 596.10 L265.92 596.10 L265.92 594.52 L265.99 594.52 L265.99 594.75 L266.06 594.75 L266.06 595.00 L266.13 595.00 L266.13 596.10 L266.20 596.10 L266.20 596.10 L266.27 596.10 L266.27 596.10 L266.35 596.10 L266.35 596.10 L266.42 596.10 L266.42 594.39 L266.49 594.39 L266.49 594.71 L266.56 594.71 L266.56 596.10 L266.63 596.10 L266.63 596.10 L266.70 596.10 L266.70 595.55 L266.76 595.55 L266.76 596.10 L266.83 596.10 L266.83 596.10 L266.90 596.10 L266.90 596.10 L266.97 596.10 L266.97 596.10 L267.04 596.10 L267.04 596.10 L267.11 596.10 L267.11 596.10 L267.18 596.10 L267.18 596.10 L267.25 596.10 L267.25 595.50 L267.32 595.50 L267.32 596.10 L267.39 596.10 L267.39 594.74 L267.45 594.74 L267.45 596.10 L267.52 596.10 L267.52 594.67 L267.59 594.67 L267.59 596.10 L267.66 596.10 L267.66 596.10 L267.73 596.10 L267.73 596.10 L267.79 596.10 L267.79 596.10 L267.86 596.10 L267.86 596.10 L267.93 596.10 L267.93 594.73 L267.99 594.73 L267.99 596.10 L268.06 596.10 L268.06 595.07 L268.13 595.07 L268.13 596.10 L268.20 596.10 L268.20 595.55 L268.26 595.55 L268.26 595.00 L268.33 595.00 L268.33 596.10 L268.40 596.10 L268.40 596.10 L268.46 596.10 L268.46 596.10 L268.53 596.10 L268.53 596.10 L268.59 596.10 L268.59 596.10 L268.66 596.10 L268.66 596.10 L268.73 596.10 L268.73 596.10 L268.79 596.10 L268.79 594.48 L268.86 594.48 L268.86 596.10 L268.92 596.10 L268.92 594.67 L268.99 594.67 L268.99 594.12 L269.05 594.12 L269.05 596.10 L269.12 596.10 L269.12 596.10 L269.18 596.10 L269.18 594.24 L269.25 594.24 L269.25 596.10 L269.31 596.10 L269.31 596.10 L269.38 596.10 L269.38 596.10 L269.44 596.10 L269.44 594.51 L269.51 594.51 L269.51 596.10 L269.57 596.10 L269.57 596.10 L269.64 596.10 L269.64 594.85 L269.70 594.85 L269.70 596.10 L269.76 596.10 L269.76 594.64 L269.83 594.64 L269.83 596.10 L269.89 596.10 L269.89 595.18 L269.96 595.18 L269.96 596.10 L270.02 596.10 L270.02 594.89 L270.08 594.89 L270.08 596.10 L270.15 596.10 L270.15 595.65 L270.21 595.65 L270.21 596.10 L270.27 596.10 L270.27 596.10 L270.34 596.10 L270.34 594.29 L270.40 594.29 L270.40 596.10 L270.46 596.10 L270.46 596.10 L270.52 596.10 L270.52 594.15 L270.59 594.15 L270.59 594.02 L270.65 594.02 L270.65 596.10 L270.71 596.10 L270.71 596.10 L270.77 596.10 L270.77 596.10 L270.84 596.10 L270.84 596.10 L270.90 596.10 L270.90 596.10 L270.96 596.10 L270.96 596.10 L271.02 596.10 L271.02 594.07 L271.08 594.07 L271.08 596.10 L271.14 596.10 L271.14 594.25 L271.21 594.25 L271.21 596.10 L271.27 596.10 L271.27 595.30 L271.33 595.30 L271.33 594.29 L271.39 594.29 L271.39 594.29 L271.45 594.29 L271.45 596.10 L271.51 596.10 L271.51 596.10 L271.57 596.10 L271.57 594.34 L271.63 594.34 L271.63 595.50 L271.69 595.50 L271.69 596.10 L271.75 596.10 L271.75 594.46 L271.81 594.46 L271.81 596.10 L271.88 596.10 L271.88 596.10 L271.94 596.10 L271.94 596.10 L272.00 596.10 L272.00 596.10 L272.06 596.10 L272.06 596.10 L272.12 596.10 L272.12 596.10 L272.18 596.10 L272.18 596.10 L272.24 596.10 L272.24 596.10 L272.29 596.10 L272.29 594.20 L272.35 594.20 L272.35 596.10 L272.41 596.10 L272.41 594.53 L272.47 594.53 L272.47 594.95 L272.53 594.95 L272.53 595.55 L272.59 595.55 L272.59 596.10 L272.65 596.10 L272.65 596.10 L272.71 596.10 L272.71 596.10 L272.77 596.10 L272.77 596.10 L272.83 596.10 L272.83 596.10 L272.89 596.10 L272.89 596.10 L272.94 596.10 L272.94 594.39 L273.00 594.39 L273.00 596.10 L273.06 596.10 L273.06 595.66 L273.12 595.66 L273.12 596.10 L273.18 596.10 L273.18 594.23 L273.24 594.23 L273.24 596.10 L273.29 596.10 L273.29 596.10 L273.35 596.10 L273.35 596.10 L273.41 596.10 L273.41 595.56 L273.47 595.56 L273.47 596.10 L273.52 596.10 L273.52 596.10 L273.58 596.10 L273.58 595.36 L273.64 595.36 L273.64 594.41 L273.70 594.41 L273.70 595.59 L273.75 595.59 L273.75 596.10 L273.81 596.10 L273.81 595.40 L273.87 595.40 L273.87 596.10 L273.93 596.10 L273.93 596.10 L273.98 596.10 L273.98 596.10 L274.04 596.10 L274.04 596.10 L274.10 596.10 L274.10 596.10 L274.15 596.10 L274.15 594.85 L274.21 594.85 L274.21 596.10 L274.27 596.10 L274.27 594.99 L274.32 594.99 L274.32 596.10 L274.38 596.10 L274.38 596.10 L274.43 596.10 L274.43 594.64 L274.49 594.64 L274.49 596.10 L274.55 596.10 L274.55 594.94 L274.60 594.94 L274.60 596.10 L274.66 596.10 L274.66 594.53 L274.71 594.53 L274.71 596.10 L274.77 596.10 L274.77 596.10 L274.83 596.10 L274.83 596.10 L274.88 596.10 L274.88 595.57 L274.94 595.57 L274.94 596.10 L274.99 596.10 L274.99 596.10 L275.05 596.10 L275.05 596.10 L275.10 596.10 L275.10 596.10 L275.16 596.10 L275.16 596.10 L275.21 596.10 L275.21 596.10 L275.27 596.10 L275.27 596.10 L275.32 596.10 L275.32 596.10 L275.38 596.10 L275.38 596.10 L275.43 596.10 L275.43 596.10 L275.49 596.10 L275.49 596.10 L275.54 596.10 L275.54 594.22 L275.59 594.22 L275.59 596.10 L275.65 596.10 L275.65 596.10 L275.70 596.10 L275.70 596.10 L275.76 596.10 L275.76 595.28 L275.81 595.28 L275.81 596.10 L275.87 596.10 L275.87 595.09 L275.92 595.09 L275.92 596.10 L275.97 596.10 L275.97 596.10 L276.03 596.10 L276.03 595.23 L276.08 595.23 L276.08 596.10 L276.13 596.10 L276.13 594.88 L276.19 594.88 L276.19 595.56 L276.24 595.56 L276.24 596.10 L276.29 596.10 L276.29 596.10 L276.35 596.10 L276.35 596.10 L276.40 596.10 L276.40 595.42 L276.45 595.42 L276.45 596.10 L276.51 596.10 L276.51 596.10 L276.56 596.10 L276.56 596.10 L276.61 596.10 L276.61 596.10 L276.67 596.10 L276.67 596.10 L276.72 596.10 L276.72 594.30 L276.77 594.30 L276.77 595.17 L276.82 595.17 L276.82 594.45 L276.88 594.45 L276.88 596.10 L276.93 596.10 L276.93 596.10 L276.98 596.10 L276.98 594.16 L277.03 594.16 L277.03 594.41 L277.08 594.41 L277.08 594.17 L277.14 594.17 L277.14 594.23 L277.19 594.23 L277.19 596.10 L277.24 596.10 L277.24 595.34 L277.29 595.34 L277.29 596.10 L277.34 596.10 L277.34 594.72 L277.40 594.72 L277.40 594.57 L277.45 594.57 L277.45 594.54 L277.50 594.54 L277.50 594.73 L277.55 594.73 L277.55 596.10 L277.60 596.10 L277.60 595.14 L277.65 595.14 L277.65 596.10 L277.71 596.10 L277.71 596.10 L277.76 596.10 L277.76 596.10 L277.81 596.10 L277.81 595.04 L277.86 595.04 L277.86 594.21 L277.91 594.21 L277.91 596.10 L277.96 596.10 L277.96 595.42 L278.01 595.42 L278.01 596.10 L278.06 596.10 L278.06 595.65 L278.11 595.65 L278.11 596.10 L278.16 596.10 L278.16 596.10 L278.21 596.10 L278.21 596.10 L278.26 596.10 L278.26 596.10 L278.31 596.10 L278.31 596.10 L278.37 596.10 L278.37 596.10 L278.42 596.10 L278.42 596.10 L278.47 596.10 L278.47 596.10 L278.52 596.10 L278.52 595.08 L278.57 595.08 L278.57 594.35 L278.62 594.35 L278.62 596.10 L278.67 596.10 L278.67 596.10 L278.72 596.10 L278.72 595.31 L278.77 595.31 L278.77 596.10 L278.82 596.10 L278.82 594.69 L278.86 594.69 L278.86 596.10 L278.91 596.10 L278.91 596.10 L278.96 596.10 L278.96 594.34 L279.01 594.34 L279.01 596.10 L279.06 596.10 L279.06 596.10 L279.11 596.10 L279.11 596.10 L279.16 596.10 L279.16 596.10 L279.21 596.10 L279.21 594.40 L279.26 594.40 L279.26 596.10 L279.31 596.10 L279.31 596.10 L279.36 596.10 L279.36 596.10 L279.41 596.10 L279.41 596.10 L279.46 596.10 L279.46 596.10 L279.50 596.10 L279.50 596.10 L279.55 596.10 L279.55 596.10 L279.60 596.10 L279.60 596.10 L279.65 596.10 L279.65 596.10 L279.70 596.10 L279.70 595.35 L279.75 595.35 L279.75 596.10 L279.80 596.10 L279.80 594.24 L279.84 594.24 L279.84 596.10 L279.89 596.10 L279.89 594.21 L279.94 594.21 L279.94 596.10 L279.99 596.10 L279.99 595.11 L280.04 595.11 L280.04 596.10 L280.08 596.10 L280.08 596.10 L280.13 596.10 L280.13 596.10 L280.18 596.10 L280.18 596.10 L280.23 596.10 L280.23 594.26 L280.28 594.26 L280.28 596.10 L280.32 596.10 L280.32 596.10 L280.37 596.10 L280.37 596.10 L280.42 596.10 L280.42 594.85 L280.47 594.85 L280.47 596.10 L280.51 596.10 L280.51 596.10 L280.56 596.10 L280.56 595.20 L280.61 595.20 L280.61 595.48 L280.66 595.48 L280.66 594.78 L280.70 594.78 L280.70 596.10 L280.75 596.10 L280.75 596.10 L280.80 596.10 L280.80 596.10 L280.84 596.10 L280.84 596.10 L280.89 596.10 L280.89 596.10 L280.94 596.10 L280.94 595.15 L280.98 595.15 L280.98 594.37 L281.03 594.37 L281.03 596.10 L281.08 596.10 L281.08 596.10 L281.12 596.10 L281.12 596.10 L281.17 596.10 L281.17 596.10 L281.22 596.10 L281.22 594.13 L281.26 594.13 L281.26 595.37 L281.31 595.37 L281.31 596.10 L281.36 596.10 L281.36 594.09 L281.40 594.09 L281.40 596.10 L281.45 596.10 L281.45 594.99 L281.49 594.99 L281.49 596.10 L281.54 596.10 L281.54 596.10 L281.59 596.10 L281.59 596.10 L281.63 596.10 L281.63 596.10 L281.68 596.10 L281.68 596.10 L281.72 596.10 L281.72 596.10 L281.77 596.10 L281.77 594.59 L281.82 594.59 L281.82 594.48 L281.86 594.48 L281.86 595.64 L281.91 595.64 L281.91 596.10 L281.95 596.10 L281.95 594.84 L282.00 594.84 L282.00 594.96 L282.04 594.96 L282.04 595.08 L282.09 595.08 L282.09 596.10 L282.13 596.10 L282.13 596.10 L282.18 596.10 L282.18 596.10 L282.23 596.10 L282.23 596.10 L282.27 596.10 L282.27 594.67 L282.32 594.67 L282.32 596.10 L282.36 596.10 L282.36 595.47 L282.41 595.47 L282.41 596.10 L282.45 596.10 L282.45 594.42 L282.50 594.42 L282.50 596.10 L282.54 596.10 L282.54 595.11 L282.58 595.11 L282.58 596.10 L282.63 596.10 L282.63 596.10 L282.67 596.10 L282.67 596.10 L282.72 596.10 L282.72 596.10 L282.76 596.10 L282.76 596.10 L282.81 596.10 L282.81 596.10 L282.85 596.10 L282.85 596.10 L282.90 596.10 L282.90 596.10 L282.94 596.10 L282.94 596.10 L282.99 596.10 L282.99 594.11 L283.03 594.11 L283.03 596.10 L283.07 596.10 L283.07 596.10 L283.12 596.10 L283.12 596.10 L283.16 596.10 L283.16 596.10 L283.21 596.10 L283.21 596.10 L283.25 596.10 L283.25 594.48 L283.29 594.48 L283.29 594.19 L283.34 594.19 L283.34 596.10 L283.38 596.10 L283.38 596.10 L283.42 596.10 L283.42 596.10 L283.47 596.10 L283.47 594.68 L283.51 594.68 L283.51 596.10 L283.56 596.10 L283.56 596.10 L283.60 596.10 L283.60 596.10 L283.64 596.10 L283.64 596.10 L283.69 596.10 L283.69 596.10 L283.73 596.10 L283.73 596.10 L283.77 596.10 L283.77 596.10 L283.82 596.10 L283.82 596.10 L283.86 596.10 L283.86 596.10 L283.90 596.10 L283.90 596.10 L283.95 596.10 L283.95 595.23 L283.99 595.23 L283.99 594.83 L284.03 594.83 L284.03 594.41 L284.07 594.41 L284.07 596.10 L284.12 596.10 L284.12 594.51 L284.16 594.51 L284.16 596.10 L284.20 596.10 L284.20 594.46 L284.25 594.46 L284.25 596.10 L284.29 596.10 L284.29 596.10 L284.33 596.10 L284.33 596.10 L284.37 596.10 L284.37 596.10 L284.42 596.10 L284.42 596.10 L284.46 596.10 L284.46 594.46 L284.50 594.46 L284.50 596.10 L284.54 596.10 L284.54 596.10 L284.59 596.10 L284.59 596.10 L284.63 596.10 L284.63 595.05 L284.67 595.05 L284.67 594.58 L284.71 594.58 L284.71 596.10 L284.75 596.10 L284.75 596.10 L284.80 596.10 L284.80 596.10 L284.84 596.10 L284.84 594.67 L284.88 594.67 L284.88 596.10 L284.92 596.10 L284.92 596.10 L284.96 596.10 L284.96 595.21 L285.01 595.21 L285.01 595.16 L285.05 595.16 L285.05 596.10 L285.09 596.10 L285.09 596.10 L285.13 596.10 L285.13 594.11 L285.17 594.11 L285.17 596.10 L285.21 596.10 L285.21 596.10 L285.26 596.10 L285.26 596.10 L285.30 596.10 L285.30 595.57 L285.34 595.57 L285.34 596.10 L285.38 596.10 L285.38 595.56 L285.42 595.56 L285.42 596.10 L285.46 596.10 L285.46 596.10 L285.50 596.10 L285.50 595.12 L285.55 595.12 L285.55 596.10 L285.59 596.10 L285.59 595.06 L285.63 595.06 L285.63 594.84 L285.67 594.84 L285.67 596.10 L285.71 596.10 L285.71 596.10 L285.75 596.10 L285.75 596.10 L285.79 596.10 L285.79 596.10 L285.83 596.10 L285.83 595.52 L285.87 595.52 L285.87 596.10 L285.91 596.10 L285.91 596.10 L285.96 596.10 L285.96 596.10 L286.00 596.10 L286.00 596.10 L286.04 596.10 L286.04 594.89 L286.08 594.89 L286.08 596.10 L286.12 596.10 L286.12 596.10 L286.16 596.10 L286.16 595.25 L286.20 595.25 L286.20 596.10 L286.24 596.10 L286.24 596.10 L286.28 596.10 L286.28 596.10 L286.32 596.10 L286.32 596.10 L286.36 596.10 L286.36 596.10 L286.40 596.10 L286.40 596.10 L286.44 596.10 L286.44 594.66 L286.48 594.66 L286.48 596.10 L286.52 596.10 L286.52 594.59 L286.56 594.59 L286.56 596.10 L286.60 596.10 L286.60 595.16 L286.64 595.16 L286.64 596.10 L286.68 596.10 L286.68 596.10 L286.72 596.10 L286.72 596.10 L286.76 596.10 L286.76 596.10 L286.80 596.10 L286.80 596.10 L286.84 596.10 L286.84 595.64 L286.88 595.64 L286.88 594.29 L286.92 594.29 L286.92 594.42 L286.96 594.42 L286.96 596.10 L287.00 596.10 L287.00 596.10 L287.04 596.10 L287.04 596.10 L287.08 596.10 L287.08 594.29 L287.12 594.29 L287.12 595.67 L287.16 595.67 L287.16 596.10 L287.20 596.10 L287.20 596.10 L287.23 596.10 L287.23 596.10 L287.27 596.10 L287.27 596.10 L287.31 596.10 L287.31 594.91 L287.35 594.91 L287.35 596.10 L287.39 596.10 L287.39 596.10 L287.43 596.10 L287.43 596.10 L287.47 596.10 L287.47 596.10 L287.51 596.10 L287.51 596.10 L287.55 596.10 L287.55 596.10 L287.59 596.10 L287.59 594.78 L287.63 594.78 L287.63 594.85 L287.66 594.85 L287.66 594.63 L287.70 594.63 L287.70 596.10 L287.74 596.10 L287.74 596.10 L287.78 596.10 L287.78 596.10 L287.82 596.10 L287.82 594.42 L287.86 594.42 L287.86 596.10 L287.90 596.10 L287.90 596.10 L287.94 596.10 L287.94 596.10 L287.97 596.10 L287.97 596.10 L288.01 596.10 L288.01 596.10 L288.05 596.10 L288.05 595.17 L288.09 595.17 L288.09 594.86 L288.13 594.86 L288.13 596.10 L288.17 596.10 L288.17 595.08 L288.20 595.08 L288.20 594.11 L288.24 594.11 L288.24 596.10 L288.28 596.10 L288.28 594.04 L288.32 594.04 L288.32 596.10 L288.36 596.10 L288.36 596.10 L288.39 596.10 L288.39 594.52 L288.43 594.52 L288.43 596.10 L288.47 596.10 L288.47 596.10 L288.51 596.10 L288.51 596.10 L288.55 596.10 L288.55 596.10 L288.58 596.10 L288.58 594.37 L288.62 594.37 L288.62 596.10 L288.66 596.10 L288.66 595.41 L288.70 595.41 L288.70 596.10 L288.74 596.10 L288.74 596.10 L288.77 596.10 L288.77 595.65 L288.81 595.65 L288.81 596.10 L288.85 596.10 L288.85 596.10 L288.89 596.10 L288.89 596.10 L288.92 596.10 L288.92 594.44 L288.96 594.44 L288.96 596.10 L289.00 596.10 L289.00 596.10 L289.04 596.10 L289.04 594.50 L289.07 594.50 L289.07 596.10 L289.11 596.10 L289.11 595.63 L289.15 595.63 L289.15 594.98 L289.18 594.98 L289.18 596.10 L289.22 596.10 L289.22 596.10 L289.26 596.10 L289.26 596.10 L289.30 596.10 L289.30 596.10 L289.33 596.10 L289.33 596.10 L289.37 596.10 L289.37 596.10 L289.41 596.10 L289.41 596.10 L289.44 596.10 L289.44 596.10 L289.48 596.10 L289.48 596.10 L289.52 596.10 L289.52 594.77 L289.55 594.77 L289.55 596.10 L289.59 596.10 L289.59 596.10 L289.63 596.10 L289.63 596.10 L289.67 596.10 L289.67 596.10 L289.70 596.10 L289.70 596.10 L289.74 596.10 L289.74 595.43 L289.78 595.43 L289.78 596.10 L289.81 596.10 L289.81 596.10 L289.85 596.10 L289.85 594.31 L289.88 594.31 L289.88 596.10 L289.92 596.10 L289.92 595.21 L289.96 595.21 L289.96 595.66 L289.99 595.66 L289.99 594.17 L290.03 594.17 L290.03 596.10 L290.07 596.10 L290.07 596.10 L290.10 596.10 L290.10 596.10 L290.14 596.10 L290.14 594.77 L290.18 594.77 L290.18 596.10 L290.21 596.10 L290.21 595.65 L290.25 595.65 L290.25 596.10 L290.28 596.10 L290.28 596.10 L290.32 596.10 L290.32 596.10 L290.36 596.10 L290.36 594.30 L290.39 594.30 L290.39 596.10 L290.43 596.10 L290.43 596.10 L290.46 596.10 L290.46 595.64 L290.50 595.64 L290.50 596.1 Z" fill="#ff7f0e" fill-opacity="0.5"/>
<polyline points="42.70,445.30 67.57,445.30 82.11,445.30 92.43,445.30 100.43,445.30 106.98,445.30 112.51,445.30 117.30,445.30 121.52,445.30 125.30,445.30 128.72,447.11 131.84,445.30 134.71,445.30 137.37,445.30 139.85,445.30 142.16,445.30 144.34,445.30 146.39,445.30 148.33,445.30 150.17,445.30 151.92,445.30 153.58,445.30 155.18,445.30 156.71,445.30 158.17,445.30 159.58,445.30 160.93,445.30 162.24,445.30 163.49,445.30 164.71,464.00 165.89,445.30 167.03,445.30 168.13,445.30 169.20,445.30 170.24,445.30 171.25,445.30 172.23,445.30 173.19,445.30 174.12,445.30 175.03,445.30 175.92,445.30 176.78,445.30 177.62,445.30 178.45,445.30 179.26,445.30 180.04,445.30 180.82,445.30 181.57,445.30 182.31,445.30 183.03,445.30 183.75,483.00 184.44,445.30 185.13,445.30 185.80,445.30 186.45,445.30 187.10,445.30 187.74,445.30 188.36,445.30 188.97,445.30 189.58,445.30 190.17,445.30 190.75,445.30 191.33,445.30 191.89,445.30 192.45,445.30 192.99,445.30 193.53,445.30 194.07,445.30 194.59,445.30 195.11,445.30 195.61,445.30 196.12,445.30 196.61,445.30 197.10,445.30 197.58,445.30 198.06,445.30 198.52,445.30 198.99,445.30 199.44,445.30 199.90,445.30 200.34,445.30 200.78,445.30 201.22,445.30 201.65,445.30 202.07,445.30 202.49,445.30 202.90,445.30 203.31,483.00 203.72,445.30 204.12,445.30 204.52,445.30 204.91,445.30 205.30,445.30 205.68,445.30 206.06,445.30 206.44,445.30 206.81,445.30 207.18,445.30 207.54,445.30 207.90,445.30 208.26,445.30 208.61,445.30 208.96,445.30 209.31,445.30 209.65,445.30 209.99,445.30 210.33,445.30 210.66,445.30 210.99,445.30 211.32,445.30 211.64,445.30 211.97,445.30 212.28,445.30 212.60,445.30 212.91,445.30 213.22,445.30 213.53,445.30 213.84,445.30 214.14,445.30 214.44,445.30 214.74,445.30 215.03,445.30 215.33,445.30 215.62,445.30 215.90,445.30 216.19,445.30 216.47,445.30 216.76,445.30 217.03,445.30 217.31,445.30 217.59,445.30 217.86,445.30 218.13,445.30 218.40,445.30 218.67,445.30 218.93,445.30 219.19,445.30 219.45,445.30 219.71,445.30 219.97,445.30 220.23,445.30 220.48,445.30 220.73,445.30 220.98,445.30 221.23,445.30 221.48,445.30 221.72,445.30 221.96,445.30 222.21,445.30 222.45,445.30 222.68,445.30 222.92,445.30 223.16,445.30 223.39,445.30 223.62,445.30 223.85,596.10 224.08,445.30 224.31,445.30 224.54,445.30 224.76,445.30 224.98,445.30 225.21,445.30 225.43,445.30 225.65,445.30 225.86,445.30 226.08,445.30 226.30,445.30 226.51,445.30 226.72,445.30 226.94,445.30 227.15,445.30 227.35,445.30 227.56,445.30 227.77,445.30 227.97,445.30 228.18,445.30 228.38,445.30 228.58,445.30 228.79,445.30 228.99,445.30 229.18,445.30 229.38,445.30 229.58,445.30 229.77,445.30 229.97,445.30 230.16,445.30 230.35,445.30 230.55,445.30 230.74,445.30 230.93,445.30 231.11,445.30 231.30,445.30 231.49,445.30 231.67,445.30 231.86,445.30 232.04,445.30 232.22,445.30 232.40,445.30 232.59,445.30 232.77,445.30 232.94,445.30 233.12,445.30 233.30,445.30 233.48,445.30 233.65,445.30 233.83,445.30 234.00,475.46 234.17,445.30 234.34,445.30 234.52,445.30 234.69,445.30 234.86,445.30 235.02,445.30 235.19,445.30 235.36,445.30 235.53,445.30 235.69,445.30 235.86,445.30 236.02,445.30 236.18,445.30 236.35,445.30 236.51,445.30 236.67,445.30 236.83,445.30 236.99,445.30 237.15,445.30 237.31,445.30 237.47,445.30 237.62,445.30 237.78,445.30 237.93,445.30 238.09,445.30 238.24,445.30 238.40,445.30 238.55,445.30 238.70,445.30 238.85,445.30 239.01,445.30 239.16,445.30 239.31,445.30 239.45,445.30 239.60,445.30 239.75,445.30 239.90,445.30 240.05,445.30 240.19,445.30 240.34,445.30 240.48,445.30 240.63,445.30 240.77,445.30 240.91,445.30 241.06,445.30 241.20,445.30 241.34,445.30 241.48,445.30 241.62,445.30 241.76,445.30 241.90,445.30 242.04,445.30 242.18,445.30 242.31,445.30 242.45,445.30 242.59,445.30 242.72,445.30 242.86,445.30 243.00,445.30 243.13,475.46 243.26,445.30 243.40,445.30 243.53,445.30 243.66,445.30 243.80,445.30 243.93,445.30 244.06,445.30 244.19,445.30 244.32,445.30 244.45,445.30 244.58,445.30 244.71,445.30 244.84,445.30 244.96,445.30 245.09,445.30 245.22,445.30 245.34,445.30 245.47,445.30 245.60,445.30 245.72,445.30 245.85,445.30 245.97,445.30 246.09,445.30 246.22,445.30 246.34,445.30 246.46,445.30 246.59,445.30 246.71,445.30 246.83,445.30 246.95,445.30 247.07,445.30 247.19,445.30 247.31,445.30 247.43,445.30 247.55,445.30 247.67,445.30 247.79,445.30 247.90,445.30 248.02,445.30 248.14,445.30 248.25,445.30 248.37,445.30 248.49,445.30 248.60,445.30 248.72,445.30 248.83,445.30 248.95,445.30 249.06,445.30 249.17,445.30 249.29,445.30 249.40,445.30 249.51,445.30 249.63,445.30 249.74,445.30 249.85,445.30 249.96,445.30 250.07,445.30 250.18,445.30 250.29,445.30 250.40,445.30 250.51,445.30 250.62,445.30 250.73,445.30 250.84,445.30 250.95,445.30 251.05,445.30 251.16,445.30 251.27,445.30 251.38,445.30 251.48,445.30 251.59,445.30 251.69,445.30 251.80,445.30 251.91,445.30 252.01,445.30 252.12,445.30 252.22,445.30 252.32,445.30 252.43,445.30 252.53,445.30 252.63,445.30 252.74,445.30 252.84,445.30 252.94,445.30 253.04,445.30 253.15,445.30 253.25,445.30 253.35,445.30 253.45,445.30 253.55,445.30 253.65,445.30 253.75,445.30 253.85,445.30 253.95,445.30 254.05,445.30 254.15,445.30 254.25,445.30 254.35,445.30 254.44,445.30 254.54,445.30 254.64,445.30 254.74,445.30 254.83,445.30 254.93,445.30 255.03,445.30 255.12,445.30 255.22,445.30 255.31,445.30 255.41,445.30 255.51,445.30 255.60,445.30 255.70,445.30 255.79,445.30 255.88,445.30 255.98,445.30 256.07,445.30 256.17,445.30 256.26,445.30 256.35,445.30 256.44,445.30 256.54,445.30 256.63,445.30 256.72,445.30 256.81,445.30 256.91,445.30 257.00,445.30 257.09,445.30 257.18,445.30 257.27,445.30 257.36,445.30 257.45,445.30 257.54,445.30 257.63,445.30 257.72,445.30 257.81,445.30 257.90,445.30 257.99,445.30 258.08,445.30 258.16,445.30 258.25,445.30 258.34,445.30 258.43,445.30 258.52,445.30 258.60,445.30 258.69,445.30 258.78,445.30 258.86,445.30 258.95,445.30 259.04,445.30 259.12,445.30 259.21,445.30 259.29,445.30 259.38,445.30 259.47,445.30 259.55,445.30 259.64,445.30 259.72,445.30 259.80,445.30 259.89,445.30 259.97,445.30 260.06,445.30 260.14,445.30 260.22,445.30 260.31,445.30 260.39,445.30 260.47,445.30 260.56,445.30 260.64,445.30 260.72,445.30 260.80,445.30 260.89,445.30 260.97,445.30 261.05,445.30 261.13,445.30 261.21,445.30 261.29,445.30 261.37,445.30 261.45,445.30 261.54,445.30 261.62,445.30 261.70,445.30 261.78,445.30 261.86,445.30 261.93,445.30 262.01,445.30 262.09,445.30 262.17,445.30 262.25,445.30 262.33,445.30 262.41,445.30 262.49,445.30 262.57,445.30 262.64,445.30 262.72,445.30 262.80,445.30 262.88,445.30 262.95,445.30 263.03,445.30 263.11,445.30 263.19,445.30 263.26,445.30 263.34,445.30 263.42,445.30 263.49,445.30 263.57,445.30 263.64,445.30 263.72,445.30 263.79,445.30 263.87,445.30 263.95,445.30 264.02,445.30 264.10,445.30 264.17,445.30 264.25,445.30 264.32,445.30 264.39,445.30 264.47,445.30 264.54,445.30 264.62,445.30 264.69,445.30 264.76,445.30 264.84,445.30 264.91,445.30 264.98,445.30 265.06,445.30 265.13,445.30 265.20,445.30 265.27,445.30 265.35,445.30 265.42,445.30 265.49,445.30 265.56,445.30 265.63,445.30 265.71,445.30 265.78,445.30 265.85,445.30 265.92,445.30 265.99,445.30 266.06,445.30 266.13,445.30 266.20,445.30 266.27,445.30 266.35,445.30 266.42,445.30 266.49,445.30 266.56,445.30 266.63,445.30 266.70,445.30 266.76,445.30 266.83,445.30 266.90,445.30 266.97,445.30 267.04,445.30 267.11,445.30 267.18,445.30 267.25,445.30 267.32,445.30 267.39,445.30 267.45,445.30 267.52,445.30 267.59,445.30 267.66,445.30 267.73,445.30 267.79,445.30 267.86,445.30 267.93,445.30 267.99,445.30 268.06,445.30 268.13,445.30 268.20,445.30 268.26,445.30 268.33,445.30 268.40,445.30 268.46,445.30 268.53,445.30 268.59,445.30 268.66,445.30 268.73,445.30 268.79,445.30 268.86,445.30 268.92,445.30 268.99,445.30 269.05,445.30 269.12,445.30 269.18,445.30 269.25,445.30 269.31,445.30 269.38,445.30 269.44,445.30 269.51,445.30 269.57,445.30 269.64,445.30 269.70,445.30 269.76,445.30 269.83,445.30 269.89,445.30 269.96,445.30 270.02,445.30 270.08,445.30 270.15,445.30 270.21,445.30 270.27,445.30 270.34,445.30 270.40,445.30 270.46,445.30 270.52,445.30 270.59,445.30 270.65,445.30 270.71,445.30 270.77,445.30 270.84,445.30 270.90,445.30 270.96,445.30 271.02,445.30 271.08,445.30 271.14,445.30 271.21,445.30 271.27,445.30 271.33,445.30 271.39,445.30 271.45,445.30 271.51,445.30 271.57,445.30 271.63,445.30 271.69,445.30 271.75,445.30 271.81,445.30 271.88,445.30 271.94,445.30 272.00,445.30 272.06,445.30 272.12,445.30 272.18,445.30 272.24,445.30 272.29,445.30 272.35,445.30 272.41,445.30 272.47,445.30 272.53,445.30 272.59,445.30 272.65,445.30 272.71,445.30 272.77,445.30 272.83,445.30 272.89,445.30 272.94,445.30 273.00,445.30 273.06,445.30 273.12,445.30 273.18,445.30 273.24,445.30 273.29,445.30 273.35,445.30 273.41,445.30 273.47,445.30 273.52,445.30 273.58,445.30 273.64,445.30 273.70,445.30 273.75,445.30 273.81,445.30 273.87,445.30 273.93,445.30 273.98,445.30 274.04,445.30 274.10,445.30 274.15,445.30 274.21,445.30 274.27,445.30 274.32,445.30 274.38,445.30 274.43,445.30 274.49,445.30 274.55,445.30 274.60,445.30 274.66,445.30 274.71,445.30 274.77,445.30 274.83,445.30 274.88,445.30 274.94,445.30 274.99,445.30 275.05,445.30 275.10,445.30 275.16,445.30 275.21,445.30 275.27,445.30 275.32,445.30 275.38,445.30 275.43,445.30 275.49,445.30 275.54,445.30 275.59,445.30 275.65,445.30 275.70,445.30 275.76,445.30 275.81,445.30 275.87,445.30 275.92,445.30 275.97,445.30 276.03,445.30 276.08,445.30 276.13,445.30 276.19,445.30 276.24,445.30 276.29,445.30 276.35,445.30 276.40,445.30 276.45,445.30 276.51,445.30 276.56,445.30 276.61,445.30 276.67,445.30 276.72,445.30 276.77,445.30 276.82,445.30 276.88,445.30 276.93,445.30 276.98,445.30 277.03,445.30 277.08,445.30 277.14,445.30 277.19,445.30 277.24,445.30 277.29,445.30 277.34,445.30 277.40,445.30 277.45,445.30 277.50,445.30 277.55,445.30 277.60,445.30 277.65,445.30 277.71,445.30 277.76,445.30 277.81,445.30 277.86,445.30 277.91,445.30 277.96,445.30 278.01,445.30 278.06,445.30 278.11,445.30 278.16,445.30 278.21,445.30 278.26,445.30 278.31,445.30 278.37,445.30 278.42,445.30 278.47,445.30 278.52,445.30 278.57,445.30 278.62,445.30 278.67,445.30 278.72,445.30 278.77,445.30 278.82,445.30 278.86,445.30 278.91,445.30 278.96,445.30 279.01,445.30 279.06,445.30 279.11,445.30 279.16,445.30 279.21,445.30 279.26,445.30 279.31,445.30 279.36,445.30 279.41,445.30 279.46,445.30 279.50,445.30 279.55,445.30 279.60,445.30 279.65,445.30 279.70,445.30 279.75,445.30 279.80,445.30 279.84,445.30 279.89,445.30 279.94,445.30 279.99,445.30 280.04,445.30 280.08,445.30 280.13,445.30 280.18,445.30 280.23,445.30 280.28,445.30 280.32,445.30 280.37,445.30 280.42,445.30 280.47,445.30 280.51,445.30 280.56,445.30 280.61,445.30 280.66,445.30 280.70,445.30 280.75,445.30 280.80,445.30 280.84,445.30 280.89,445.30 280.94,445.30 280.98,445.30 281.03,445.30 281.08,445.30 281.12,445.30 281.17,445.30 281.22,445.30 281.26,445.30 281.31,445.30 281.36,445.30 281.40,445.30 281.45,445.30 281.49,445.30 281.54,445.30 281.59,445.30 281.63,445.30 281.68,445.30 281.72,445.30 281.77,445.30 281.82,445.30 281.86,445.30 281.91,445.30 281.95,445.30 282.00,445.30 282.04,445.30 282.09,445.30 282.13,445.30 282.18,445.30 282.23,445.30 282.27,445.30 282.32,445.30 282.36,445.30 282.41,445.30 282.45,445.30 282.50,445.30 282.54,445.30 282.58,445.30 282.63,445.30 282.67,445.30 282.72,445.30 282.76,445.30 282.81,445.30 282.85,445.30 282.90,445.30 282.94,445.30 282.99,445.30 283.03,445.30 283.07,445.30 283.12,445.30 283.16,445.30 283.21,445.30 283.25,445.30 283.29,445.30 283.34,445.30 283.38,445.30 283.42,445.30 283.47,445.30 283.51,445.30 283.56,445.30 283.60,445.30 283.64,445.30 283.69,445.30 283.73,445.30 283.77,445.30 283.82,445.30 283.86,445.30 283.90,445.30 283.95,445.30 283.99,445.30 284.03,445.30 284.07,445.30 284.12,445.30 284.16,445.30 284.20,445.30 284.25,445.30 284.29,445.30 284.33,445.30 284.37,445.30 284.42,445.30 284.46,445.30 284.50,445.30 284.54,445.30 284.59,445.30 284.63,445.30 284.67,445.30 284.71,445.30 284.75,445.30 284.80,445.30 284.84,445.30 284.88,445.30 284.92,445.30 284.96,445.30 285.01,445.30 285.05,445.30 285.09,445.30 285.13,445.30 285.17,445.30 285.21,445.30 285.26,445.30 285.30,445.30 285.34,445.30 285.38,445.30 285.42,445.30 285.46,445.30 285.50,445.30 285.55,445.30 285.59,445.30 285.63,445.30 285.67,445.30 285.71,445.30 285.75,445.30 285.79,445.30 285.83,445.30 285.87,445.30 285.91,445.30 285.96,445.30 286.00,445.30 286.04,445.30 286.08,445.30 286.12,445.30 286.16,445.30 286.20,445.30 286.24,445.30 286.28,445.30 286.32,445.30 286.36,445.30 286.40,445.30 286.44,445.30 286.48,445.30 286.52,445.30 286.56,445.30 286.60,445.30 286.64,445.30 286.68,445.30 286.72,445.30 286.76,445.30 286.80,445.30 286.84,445.30 286.88,445.30 286.92,445.30 286.96,445.30 287.00,445.30 287.04,445.30 287.08,445.30 287.12,445.30 287.16,445.30 287.20,445.30 287.23,445.30 287.27,445.30 287.31,445.30 287.35,445.30 287.39,445.30 287.43,445.30 287.47,445.30 287.51,445.30 287.55,445.30 287.59,445.30 287.63,445.30 287.66,445.30 287.70,445.30 287.74,445.30 287.78,445.30 287.82,445.30 287.86,445.30 287.90,445.30 287.94,445.30 287.97,445.30 288.01,445.30 288.05,445.30 288.09,445.30 288.13,445.30 288.17,445.30 288.20,445.30 288.24,445.30 288.28,445.30 288.32,445.30 288.36,445.30 288.39,445.30 288.43,445.30 288.47,445.30 288.51,445.30 288.55,445.30 288.58,445.30 288.62,445.30 288.66,445.30 288.70,445.30 288.74,445.30 288.77,445.30 288.81,445.30 288.85,445.30 288.89,445.30 288.92,445.30 288.96,445.30 289.00,445.30 289.04,445.30 289.07,445.30 289.11,445.30 289.15,445.30 289.18,445.30 289.22,445.30 289.26,445.30 289.30,445.30 289.33,445.30 289.37,445.30 289.41,445.30 289.44,445.30 289.48,445.30 289.52,445.30 289.55,445.30 289.59,445.30 289.63,445.30 289.67,445.30 289.70,445.30 289.74,445.30 289.78,445.30 289.81,445.30 289.85,445.30 289.88,445.30 289.92,445.30 289.96,445.30 289.99,445.30 290.03,445.30 290.07,445.30 290.10,445.30 290.14,445.30 290.18,445.30 290.21,445.30 290.25,445.30 290.28,445.30 290.32,445.30 290.36,445.30 290.39,445.30 290.43,445.30 290.46,445.30 290.50,445.30" fill="none" stroke="#ff7f0e" stroke-width="1.1"/>
<circle cx="42.70" cy="445.30" r="1.6" fill="#ff7f0e"/><circle cx="67.57" cy="445.30" r="1.6" fill="#ff7f0e"/><circle cx="82.11" cy="445.30" r="1.6" fill="#ff7f0e"/><circle cx="92.43" cy="445.30" r="1.6" fill="#ff7f0e"/><circle cx="100.43" cy="445.30" r="1.6" fill="#ff7f0e"/><circle cx="106.98" cy="445.30" r="1.6" fill="#ff7f0e"/><circle cx="112.51" cy="445.30" r="1.6" fill="#ff7f0e"/><circle cx="117.30" cy="445.30" r="1.6" fill="#ff7f0e"/><circle cx="121.52" cy="445.30" r="1.6" fill="#ff7f0e"/><circle cx="125.30" cy="445.30" r="1.6" fill="#ff7f0e"/><circle cx="128.72" cy="447.11" r="1.6" fill="#ff7f0e"/><circle cx="131.84" cy="445.30" r="1.6" fill="#ff7f0e"/><circle cx="164.71" cy="464.00" r="1.6" fill="#ff7f0e"/><circle cx="183.75" cy="483.00" r="1.6" fill="#ff7f0e"/><circle cx="203.31" cy="483.00" r="1.6" fill="#ff7f0e"/><circle cx="223.85" cy="596.10" r="1.6" fill="#ff7f0e"/><circle cx="234.00" cy="475.46" r="1.6" fill="#ff7f0e"/><circle cx="243.13" cy="475.46" r="1.6" fill="#ff7f0e"/>
<polyline points="42.70,454.50 67.57,451.63 82.11,449.07 92.43,448.17 100.43,452.84 106.98,452.84 112.51,451.33 117.30,450.28 121.52,452.09 125.30,449.07 128.72,454.20 131.84,456.83 134.71,452.27 137.37,448.07 139.85,447.12 142.16,448.51 144.34,452.95 146.39,451.85 148.33,454.10 150.17,458.26 151.92,454.96 153.58,449.44 155.18,452.17 156.71,454.38 158.17,457.26 159.58,453.50 160.93,455.41 162.24,453.00 163.49,451.25 164.71,462.03 165.89,453.49 167.03,458.84 168.13,456.78 169.20,457.98 170.24,448.81 171.25,450.53 172.23,451.20 173.19,456.03 174.12,458.75 175.03,454.62 175.92,452.35 176.78,453.42 177.62,450.47 178.45,454.53 179.26,446.14 180.04,450.59 180.82,445.37 181.57,452.19 182.31,473.95 183.03,456.44 183.75,449.99 184.44,449.06 185.13,452.54 185.80,451.55 186.45,454.20 187.10,454.78 187.74,454.28 188.36,460.47 188.97,457.09 189.58,452.99 190.17,452.66 190.75,448.91 191.33,450.69 191.89,451.50 192.45,452.96 192.99,461.97 193.53,452.96 194.07,456.61 194.59,451.24 195.11,454.26 195.61,454.47 196.12,455.26 196.61,454.30 197.10,460.80 197.58,459.39 198.06,448.44 198.52,451.48 198.99,454.89 199.44,454.52 199.90,454.60 200.34,445.30 200.78,451.15 201.22,453.17 201.65,455.80 202.07,462.39 202.49,452.69 202.90,447.77 203.31,449.53 203.72,452.14 204.12,455.55 204.52,457.80 204.91,452.88 205.30,445.30 205.68,445.30 206.06,445.30 206.44,520.70 206.81,445.30 207.18,445.30 207.54,445.30 207.90,445.30 208.26,445.30 208.61,445.30 208.96,445.30 209.31,445.30 209.65,445.30 209.99,445.30 210.33,445.30 210.66,445.30 210.99,520.70 211.32,445.30 211.64,445.30 211.97,445.30 212.28,445.30 212.60,445.30 212.91,445.30 213.22,445.30 213.53,445.30 213.84,445.30 214.14,445.30 214.44,445.30 214.74,445.30 215.03,445.30 215.33,445.30 215.62,445.30 215.90,445.30 216.19,520.70 216.47,445.30 216.76,445.30 217.03,445.30 217.31,445.30 217.59,445.30 217.86,445.30 218.13,445.30 218.40,596.10 218.67,445.30 218.93,445.30 219.19,445.30 219.45,445.30 219.71,445.30 219.97,445.30 220.23,596.10 220.48,445.30 220.73,445.30 220.98,445.30 221.23,445.30 221.48,445.30 221.72,445.30 221.96,445.30 222.21,445.30 222.45,445.30 222.68,445.30 222.92,445.30 223.16,445.30 223.39,445.30 223.62,445.30 223.85,445.30 224.08,445.30 224.31,445.30 224.54,445.30 224.76,445.30 224.98,445.30 225.21,520.70 225.43,445.30 225.65,445.30 225.86,445.30 226.08,445.30 226.30,445.30 226.51,445.30 226.72,445.30 226.94,445.30 227.15,445.30 227.35,445.30 227.56,445.30 227.77,445.30 227.97,445.30 228.18,445.30 228.38,445.30 228.58,445.30 228.79,445.30 228.99,445.30 229.18,445.30 229.38,445.30 229.58,445.30 229.77,445.30 229.97,445.30 230.16,445.30 230.35,445.30 230.55,445.30 230.74,445.30 230.93,445.30 231.11,445.30 231.30,445.30 231.49,445.30 231.67,445.30 231.86,445.30 232.04,445.30 232.22,445.30 232.40,445.30 232.59,445.30 290.50,445.30" fill="none" stroke="#1f77b4" stroke-width="1.0"/>
<circle cx="42.70" cy="454.50" r="1.6" fill="#1f77b4"/><circle cx="67.57" cy="451.63" r="1.6" fill="#1f77b4"/><circle cx="82.11" cy="449.07" r="1.6" fill="#1f77b4"/><circle cx="92.43" cy="448.17" r="1.6" fill="#1f77b4"/><circle cx="100.43" cy="452.84" r="1.6" fill="#1f77b4"/><circle cx="106.98" cy="452.84" r="1.6" fill="#1f77b4"/><circle cx="112.51" cy="451.33" r="1.6" fill="#1f77b4"/><circle cx="117.30" cy="450.28" r="1.6" fill="#1f77b4"/><circle cx="121.52" cy="452.09" r="1.6" fill="#1f77b4"/><circle cx="125.30" cy="449.07" r="1.6" fill="#1f77b4"/><circle cx="128.72" cy="454.20" r="1.6" fill="#1f77b4"/><circle cx="131.84" cy="456.83" r="1.6" fill="#1f77b4"/><circle cx="134.71" cy="452.27" r="1.6" fill="#1f77b4"/><circle cx="137.37" cy="448.07" r="1.6" fill="#1f77b4"/><circle cx="139.85" cy="447.12" r="1.6" fill="#1f77b4"/><circle cx="142.16" cy="448.51" r="1.6" fill="#1f77b4"/><circle cx="144.34" cy="452.95" r="1.6" fill="#1f77b4"/><circle cx="146.39" cy="451.85" r="1.6" fill="#1f77b4"/><circle cx="148.33" cy="454.10" r="1.6" fill="#1f77b4"/><circle cx="150.17" cy="458.26" r="1.6" fill="#1f77b4"/><circle cx="151.92" cy="454.96" r="1.6" fill="#1f77b4"/><circle cx="153.58" cy="449.44" r="1.6" fill="#1f77b4"/><circle cx="155.18" cy="452.17" r="1.6" fill="#1f77b4"/><circle cx="156.71" cy="454.38" r="1.6" fill="#1f77b4"/><circle cx="158.17" cy="457.26" r="1.6" fill="#1f77b4"/><circle cx="159.58" cy="453.50" r="1.6" fill="#1f77b4"/><circle cx="160.93" cy="455.41" r="1.6" fill="#1f77b4"/><circle cx="162.24" cy="453.00" r="1.6" fill="#1f77b4"/><circle cx="163.49" cy="451.25" r="1.6" fill="#1f77b4"/><circle cx="164.71" cy="462.03" r="1.6" fill="#1f77b4"/><circle cx="165.89" cy="453.49" r="1.6" fill="#1f77b4"/><circle cx="167.03" cy="458.84" r="1.6" fill="#1f77b4"/><circle cx="168.13" cy="456.78" r="1.6" fill="#1f77b4"/><circle cx="169.20" cy="457.98" r="1.6" fill="#1f77b4"/><circle cx="170.24" cy="448.81" r="1.6" fill="#1f77b4"/><circle cx="171.25" cy="450.53" r="1.6" fill="#1f77b4"/><circle cx="172.23" cy="451.20" r="1.6" fill="#1f77b4"/><circle cx="173.19" cy="456.03" r="1.6" fill="#1f77b4"/><circle cx="174.12" cy="458.75" r="1.6" fill="#1f77b4"/><circle cx="175.03" cy="454.62" r="1.6" fill="#1f77b4"/><circle cx="175.92" cy="452.35" r="1.6" fill="#1f77b4"/><circle cx="176.78" cy="453.42" r="1.6" fill="#1f77b4"/><circle cx="177.62" cy="450.47" r="1.6" fill="#1f77b4"/><circle cx="178.45" cy="454.53" r="1.6" fill="#1f77b4"/><circle cx="179.26" cy="446.14" r="1.6" fill="#1f77b4"/><circle cx="180.04" cy="450.59" r="1.6" fill="#1f77b4"/><circle cx="180.82" cy="445.37" r="1.6" fill="#1f77b4"/><circle cx="181.57" cy="452.19" r="1.6" fill="#1f77b4"/><circle cx="182.31" cy="473.95" r="1.6" fill="#1f77b4"/><circle cx="183.03" cy="456.44" r="1.6" fill="#1f77b4"/><circle cx="183.75" cy="449.99" r="1.6" fill="#1f77b4"/><circle cx="184.44" cy="449.06" r="1.6" fill="#1f77b4"/><circle cx="185.13" cy="452.54" r="1.6" fill="#1f77b4"/><circle cx="185.80" cy="451.55" r="1.6" fill="#1f77b4"/><circle cx="186.45" cy="454.20" r="1.6" fill="#1f77b4"/><circle cx="187.10" cy="454.78" r="1.6" fill="#1f77b4"/><circle cx="187.74" cy="454.28" r="1.6" fill="#1f77b4"/><circle cx="188.36" cy="460.47" r="1.6" fill="#1f77b4"/><circle cx="188.97" cy="457.09" r="1.6" fill="#1f77b4"/><circle cx="189.58" cy="452.99" r="1.6" fill="#1f77b4"/><circle cx="190.17" cy="452.66" r="1.6" fill="#1f77b4"/><circle cx="190.75" cy="448.91" r="1.6" fill="#1f77b4"/><circle cx="191.33" cy="450.69" r="1.6" fill="#1f77b4"/><circle cx="191.89" cy="451.50" r="1.6" fill="#1f77b4"/><circle cx="192.45" cy="452.96" r="1.6" fill="#1f77b4"/><circle cx="192.99" cy="461.97" r="1.6" fill="#1f77b4"/><circle cx="193.53" cy="452.96" r="1.6" fill="#1f77b4"/><circle cx="194.07" cy="456.61" r="1.6" fill="#1f77b4"/><circle cx="194.59" cy="451.24" r="1.6" fill="#1f77b4"/><circle cx="195.11" cy="454.26" r="1.6" fill="#1f77b4"/><circle cx="195.61" cy="454.47" r="1.6" fill="#1f77b4"/><circle cx="196.12" cy="455.26" r="1.6" fill="#1f77b4"/><circle cx="196.61" cy="454.30" r="1.6" fill="#1f77b4"/><circle cx="197.10" cy="460.80" r="1.6" fill="#1f77b4"/><circle cx="197.58" cy="459.39" r="1.6" fill="#1f77b4"/><circle cx="198.06" cy="448.44" r="1.6" fill="#1f77b4"/><circle cx="198.52" cy="451.48" r="1.6" fill="#1f77b4"/><circle cx="198.99" cy="454.89" r="1.6" fill="#1f77b4"/><circle cx="199.44" cy="454.52" r="1.6" fill="#1f77b4"/><circle cx="199.90" cy="454.60" r="1.6" fill="#1f77b4"/><circle cx="200.34" cy="445.30" r="1.6" fill="#1f77b4"/><circle cx="200.78" cy="451.15" r="1.6" fill="#1f77b4"/><circle cx="201.22" cy="453.17" r="1.6" fill="#1f77b4"/><circle cx="201.65" cy="455.80" r="1.6" fill="#1f77b4"/><circle cx="202.07" cy="462.39" r="1.6" fill="#1f77b4"/><circle cx="202.49" cy="452.69" r="1.6" fill="#1f77b4"/><circle cx="202.90" cy="447.77" r="1.6" fill="#1f77b4"/><circle cx="203.31" cy="449.53" r="1.6" fill="#1f77b4"/><circle cx="203.72" cy="452.14" r="1.6" fill="#1f77b4"/><circle cx="204.12" cy="455.55" r="1.6" fill="#1f77b4"/><circle cx="204.52" cy="457.80" r="1.6" fill="#1f77b4"/><circle cx="204.91" cy="452.88" r="1.6" fill="#1f77b4"/><circle cx="205.30" cy="445.30" r="1.6" fill="#1f77b4"/><circle cx="206.44" cy="520.70" r="1.6" fill="#1f77b4"/><circle cx="210.99" cy="520.70" r="1.6" fill="#1f77b4"/><circle cx="216.19" cy="520.70" r="1.6" fill="#1f77b4"/><circle cx="225.21" cy="520.70" r="1.6" fill="#1f77b4"/>
<line x1="130.31" y1="445.30" x2="290.50" y2="445.30" stroke="#ff7f0e" stroke-width="3.2"/>
<circle cx="290.50" cy="445.30" r="1.6" fill="#ff7f0e"/>
<path d="M42.4 458.4 Q42.4 466 49.4 466 L106.5 466 Q111.5 466 111.5 473.2 Q111.5 466 116.5 466 L173.6 466 Q180.6 466 180.6 458.4" fill="none" stroke="#000" stroke-width="1.1"/>
<text x="109.80" y="484.00" font-size="8.8" text-anchor="middle" textLength="108.8" lengthAdjust="spacingAndGlyphs" >≥ 87.5% accuracy in short</text>
<text x="109.80" y="495.00" font-size="8.8" text-anchor="middle" textLength="100.6" lengthAdjust="spacingAndGlyphs" >binding events (&lt; 4.9 s),</text>
<text x="109.80" y="506.00" font-size="8.8" text-anchor="middle" textLength="82.1" lengthAdjust="spacingAndGlyphs" >which constitute the</text>
<text x="109.80" y="517.20" font-size="8.8" text-anchor="middle" textLength="69.9" lengthAdjust="spacingAndGlyphs" >majority (72.9%).</text>
<rect x="30.3" y="437.3" width="272.00" height="158.80" fill="none" stroke="#8a8a8a" stroke-width="1"/>
<line x1="27.3" y1="596.10" x2="30.3" y2="596.10" stroke="#444" stroke-width="0.8"/>
<text x="26.70" y="599.10" font-size="8.4" text-anchor="end" fill="#222" textLength="4.6" lengthAdjust="spacingAndGlyphs" >0</text>
<line x1="27.3" y1="581.02" x2="30.3" y2="581.02" stroke="#444" stroke-width="0.8"/>
<text x="26.70" y="584.02" font-size="8.4" text-anchor="end" fill="#222" textLength="9.2" lengthAdjust="spacingAndGlyphs" >10</text>
<line x1="27.3" y1="565.94" x2="30.3" y2="565.94" stroke="#444" stroke-width="0.8"/>
<text x="26.70" y="568.94" font-size="8.4" text-anchor="end" fill="#222" textLength="9.2" lengthAdjust="spacingAndGlyphs" >20</text>
<line x1="27.3" y1="550.86" x2="30.3" y2="550.86" stroke="#444" stroke-width="0.8"/>
<text x="26.70" y="553.86" font-size="8.4" text-anchor="end" fill="#222" textLength="9.2" lengthAdjust="spacingAndGlyphs" >30</text>
<line x1="27.3" y1="535.78" x2="30.3" y2="535.78" stroke="#444" stroke-width="0.8"/>
<text x="26.70" y="538.78" font-size="8.4" text-anchor="end" fill="#222" textLength="9.2" lengthAdjust="spacingAndGlyphs" >40</text>
<line x1="27.3" y1="520.70" x2="30.3" y2="520.70" stroke="#444" stroke-width="0.8"/>
<text x="26.70" y="523.70" font-size="8.4" text-anchor="end" fill="#222" textLength="9.2" lengthAdjust="spacingAndGlyphs" >50</text>
<line x1="27.3" y1="505.62" x2="30.3" y2="505.62" stroke="#444" stroke-width="0.8"/>
<text x="26.70" y="508.62" font-size="8.4" text-anchor="end" fill="#222" textLength="9.2" lengthAdjust="spacingAndGlyphs" >60</text>
<line x1="27.3" y1="490.54" x2="30.3" y2="490.54" stroke="#444" stroke-width="0.8"/>
<text x="26.70" y="493.54" font-size="8.4" text-anchor="end" fill="#222" textLength="9.2" lengthAdjust="spacingAndGlyphs" >70</text>
<line x1="27.3" y1="475.46" x2="30.3" y2="475.46" stroke="#444" stroke-width="0.8"/>
<text x="26.70" y="478.46" font-size="8.4" text-anchor="end" fill="#222" textLength="9.2" lengthAdjust="spacingAndGlyphs" >80</text>
<line x1="27.3" y1="460.38" x2="30.3" y2="460.38" stroke="#444" stroke-width="0.8"/>
<text x="26.70" y="463.38" font-size="8.4" text-anchor="end" fill="#222" textLength="9.2" lengthAdjust="spacingAndGlyphs" >90</text>
<line x1="27.3" y1="445.30" x2="30.3" y2="445.30" stroke="#444" stroke-width="0.8"/>
<text x="26.70" y="448.30" font-size="8.4" text-anchor="end" fill="#222" textLength="13.799999999999999" lengthAdjust="spacingAndGlyphs" >100</text>
<line x1="302.3" y1="596.10" x2="305.3" y2="596.10" stroke="#444" stroke-width="0.8"/>
<text x="306.20" y="599.10" font-size="8.4" fill="#222" textLength="4.6" lengthAdjust="spacingAndGlyphs" >0</text>
<line x1="302.3" y1="575.30" x2="305.3" y2="575.30" stroke="#444" stroke-width="0.8"/>
<text x="306.20" y="578.30" font-size="8.4" fill="#222" textLength="9.2" lengthAdjust="spacingAndGlyphs" >25</text>
<line x1="302.3" y1="554.50" x2="305.3" y2="554.50" stroke="#444" stroke-width="0.8"/>
<text x="306.20" y="557.50" font-size="8.4" fill="#222" textLength="9.2" lengthAdjust="spacingAndGlyphs" >50</text>
<line x1="302.3" y1="533.70" x2="305.3" y2="533.70" stroke="#444" stroke-width="0.8"/>
<text x="306.20" y="536.70" font-size="8.4" fill="#222" textLength="9.2" lengthAdjust="spacingAndGlyphs" >75</text>
<line x1="302.3" y1="512.90" x2="305.3" y2="512.90" stroke="#444" stroke-width="0.8"/>
<text x="306.20" y="515.90" font-size="8.4" fill="#222" textLength="13.799999999999999" lengthAdjust="spacingAndGlyphs" >100</text>
<line x1="302.3" y1="492.10" x2="305.3" y2="492.10" stroke="#444" stroke-width="0.8"/>
<text x="306.20" y="495.10" font-size="8.4" fill="#222" textLength="13.799999999999999" lengthAdjust="spacingAndGlyphs" >125</text>
<line x1="302.3" y1="471.30" x2="305.3" y2="471.30" stroke="#444" stroke-width="0.8"/>
<text x="306.20" y="474.30" font-size="8.4" fill="#222" textLength="13.799999999999999" lengthAdjust="spacingAndGlyphs" >150</text>
<line x1="302.3" y1="450.50" x2="305.3" y2="450.50" stroke="#444" stroke-width="0.8"/>
<text x="306.20" y="453.50" font-size="8.4" fill="#222" textLength="13.799999999999999" lengthAdjust="spacingAndGlyphs" >175</text>
<line x1="42.70" y1="596.1" x2="42.70" y2="599.1" stroke="#444" stroke-width="0.8"/>
<text x="41.60" y="604.80" font-size="6.7" text-anchor="middle" fill="#222" textLength="7.6" lengthAdjust="spacingAndGlyphs" >10</text>
<text x="45.60" y="601.60" font-size="4.8" fill="#222" >0</text>
<line x1="67.57" y1="596.1" x2="67.57" y2="597.9" stroke="#666" stroke-width="0.5"/>
<line x1="82.11" y1="596.1" x2="82.11" y2="597.9" stroke="#666" stroke-width="0.5"/>
<line x1="92.43" y1="596.1" x2="92.43" y2="597.9" stroke="#666" stroke-width="0.5"/>
<line x1="100.43" y1="596.1" x2="100.43" y2="597.9" stroke="#666" stroke-width="0.5"/>
<line x1="106.98" y1="596.1" x2="106.98" y2="597.9" stroke="#666" stroke-width="0.5"/>
<line x1="112.51" y1="596.1" x2="112.51" y2="597.9" stroke="#666" stroke-width="0.5"/>
<line x1="117.30" y1="596.1" x2="117.30" y2="597.9" stroke="#666" stroke-width="0.5"/>
<line x1="121.52" y1="596.1" x2="121.52" y2="597.9" stroke="#666" stroke-width="0.5"/>
<line x1="125.30" y1="596.1" x2="125.30" y2="599.1" stroke="#444" stroke-width="0.8"/>
<text x="124.20" y="604.80" font-size="6.7" text-anchor="middle" fill="#222" textLength="7.6" lengthAdjust="spacingAndGlyphs" >10</text>
<text x="128.20" y="601.60" font-size="4.8" fill="#222" >1</text>
<line x1="150.17" y1="596.1" x2="150.17" y2="597.9" stroke="#666" stroke-width="0.5"/>
<line x1="164.71" y1="596.1" x2="164.71" y2="597.9" stroke="#666" stroke-width="0.5"/>
<line x1="175.03" y1="596.1" x2="175.03" y2="597.9" stroke="#666" stroke-width="0.5"/>
<line x1="183.03" y1="596.1" x2="183.03" y2="597.9" stroke="#666" stroke-width="0.5"/>
<line x1="189.58" y1="596.1" x2="189.58" y2="597.9" stroke="#666" stroke-width="0.5"/>
<line x1="195.11" y1="596.1" x2="195.11" y2="597.9" stroke="#666" stroke-width="0.5"/>
<line x1="199.90" y1="596.1" x2="199.90" y2="597.9" stroke="#666" stroke-width="0.5"/>
<line x1="204.12" y1="596.1" x2="204.12" y2="597.9" stroke="#666" stroke-width="0.5"/>
<line x1="207.90" y1="596.1" x2="207.90" y2="599.1" stroke="#444" stroke-width="0.8"/>
<text x="206.80" y="604.80" font-size="6.7" text-anchor="middle" fill="#222" textLength="7.6" lengthAdjust="spacingAndGlyphs" >10</text>
<text x="210.80" y="601.60" font-size="4.8" fill="#222" >2</text>
<line x1="232.77" y1="596.1" x2="232.77" y2="597.9" stroke="#666" stroke-width="0.5"/>
<line x1="247.31" y1="596.1" x2="247.31" y2="597.9" stroke="#666" stroke-width="0.5"/>
<line x1="257.63" y1="596.1" x2="257.63" y2="597.9" stroke="#666" stroke-width="0.5"/>
<line x1="265.63" y1="596.1" x2="265.63" y2="597.9" stroke="#666" stroke-width="0.5"/>
<line x1="272.18" y1="596.1" x2="272.18" y2="597.9" stroke="#666" stroke-width="0.5"/>
<line x1="277.71" y1="596.1" x2="277.71" y2="597.9" stroke="#666" stroke-width="0.5"/>
<line x1="282.50" y1="596.1" x2="282.50" y2="597.9" stroke="#666" stroke-width="0.5"/>
<line x1="286.72" y1="596.1" x2="286.72" y2="597.9" stroke="#666" stroke-width="0.5"/>
<line x1="290.50" y1="596.1" x2="290.50" y2="599.1" stroke="#444" stroke-width="0.8"/>
<text x="289.40" y="604.80" font-size="6.7" text-anchor="middle" fill="#222" textLength="7.6" lengthAdjust="spacingAndGlyphs" >10</text>
<text x="293.40" y="601.60" font-size="4.8" fill="#222" >3</text>
<text x="166.10" y="615.30" font-size="9.0" text-anchor="middle" fill="#222" textLength="106.5" lengthAdjust="spacingAndGlyphs" >Event Length (× 100 ms)</text>
<text x="9.40" y="516.70" font-size="8.8" text-anchor="middle" fill="#222" textLength="56.3" lengthAdjust="spacingAndGlyphs" transform="rotate(-90 9.40 516.70)" >Accuracy (%)</text>
<text x="328.70" y="517.00" font-size="8.8" text-anchor="middle" fill="#222" textLength="68" lengthAdjust="spacingAndGlyphs" transform="rotate(-90 328.70 517.00)" >Count of Events</text>
<rect x="227.6" y="541.9" width="72.1" height="35.4" rx="2" fill="#fff" fill-opacity="0.8" stroke="#ddd" stroke-width="0.7"/>
<line x1="230" y1="547" x2="241.9" y2="547" stroke="#1f77b4" stroke-width="1"/><circle cx="236" cy="547" r="1.4" fill="#1f77b4"/>
<line x1="230" y1="555.2" x2="241.9" y2="555.2" stroke="#ff7f0e" stroke-width="1"/><circle cx="236" cy="555.2" r="1.4" fill="#ff7f0e"/>
<rect x="230" y="561.8" width="11.9" height="4" fill="#8fbbd9"/>
<rect x="230" y="570" width="11.9" height="4" fill="#ffbf86"/>
<text x="246.00" y="549.40" font-size="6.6" fill="#222" textLength="27" lengthAdjust="spacingAndGlyphs" >Domain 1</text>
<text x="246.00" y="557.60" font-size="6.6" fill="#222" textLength="27" lengthAdjust="spacingAndGlyphs" >Domain 2</text>
<text x="246.00" y="566.20" font-size="6.6" fill="#222" textLength="50.5" lengthAdjust="spacingAndGlyphs" >Domain 1 (Count)</text>
<text x="246.00" y="574.40" font-size="6.6" fill="#222" textLength="50.5" lengthAdjust="spacingAndGlyphs" >Domain 2 (Count)</text>
<text x="336.4" y="423.7" font-size="9" font-weight="bold">e</text>
<text x="379.90" y="432.80" font-size="8.6" text-anchor="middle" textLength="47.5" lengthAdjust="spacingAndGlyphs" >Input single</text>
<text x="382.40" y="443.90" font-size="8.6" text-anchor="middle" textLength="79.7" lengthAdjust="spacingAndGlyphs" >frame (1 x 10 x 10)</text>
<rect x="342.9" y="448.1" width="78.3" height="78.3" fill="#585858"/><rect x="413.37" y="448.10" width="7.88" height="7.88" fill="#101010"/><rect x="374.22" y="455.93" width="7.88" height="7.88" fill="#181818"/><rect x="389.88" y="455.93" width="7.88" height="7.88" fill="#101010"/><rect x="397.71" y="455.93" width="7.88" height="7.88" fill="#101010"/><rect x="366.39" y="463.76" width="7.88" height="7.88" fill="#101010"/><rect x="374.22" y="463.76" width="7.88" height="7.88" fill="#484848"/><rect x="382.05" y="463.76" width="7.88" height="7.88" fill="#989898"/><rect x="389.88" y="463.76" width="7.88" height="7.88" fill="#808080"/><rect x="397.71" y="463.76" width="7.88" height="7.88" fill="#606060"/><rect x="358.56" y="471.59" width="7.88" height="7.88" fill="#383838"/><rect x="366.39" y="471.59" width="7.88" height="7.88" fill="#989898"/><rect x="374.22" y="471.59" width="7.88" height="7.88" fill="#d0d0d0"/><rect x="382.05" y="471.59" width="7.88" height="7.88" fill="#c0c0c0"/><rect x="389.88" y="471.59" width="7.88" height="7.88" fill="#b0b0b0"/><rect x="397.71" y="471.59" width="7.88" height="7.88" fill="#707070"/><rect x="405.54" y="471.59" width="7.88" height="7.88" fill="#383838"/><rect x="366.39" y="479.42" width="7.88" height="7.88" fill="#c0c0c0"/><rect x="374.22" y="479.42" width="7.88" height="7.88" fill="#d8d8d8"/><rect x="382.05" y="479.42" width="7.88" height="7.88" fill="#d8d8d8"/><rect x="389.88" y="479.42" width="7.88" height="7.88" fill="#d0d0d0"/><rect x="397.71" y="479.42" width="7.88" height="7.88" fill="#d0d0d0"/><rect x="405.54" y="479.42" width="7.88" height="7.88" fill="#606060"/><rect x="358.56" y="487.25" width="7.88" height="7.88" fill="#909090"/><rect x="366.39" y="487.25" width="7.88" height="7.88" fill="#d8d8d8"/><rect x="374.22" y="487.25" width="7.88" height="7.88" fill="#e0e0e0"/><rect x="382.05" y="487.25" width="7.88" height="7.88" fill="#e0e0e0"/><rect x="389.88" y="487.25" width="7.88" height="7.88" fill="#e8e8e8"/><rect x="397.71" y="487.25" width="7.88" height="7.88" fill="#d0d0d0"/><rect x="405.54" y="487.25" width="7.88" height="7.88" fill="#707070"/><rect x="342.90" y="495.08" width="7.88" height="7.88" fill="#050505"/><rect x="358.56" y="495.08" width="7.88" height="7.88" fill="#787878"/><rect x="366.39" y="495.08" width="7.88" height="7.88" fill="#b0b0b0"/><rect x="374.22" y="495.08" width="7.88" height="7.88" fill="#e0e0e0"/><rect x="382.05" y="495.08" width="7.88" height="7.88" fill="#ffffff"/><rect x="389.88" y="495.08" width="7.88" height="7.88" fill="#a8a8a8"/><rect x="397.71" y="495.08" width="7.88" height="7.88" fill="#b0b0b0"/><rect x="405.54" y="495.08" width="7.88" height="7.88" fill="#505050"/><rect x="358.56" y="502.91" width="7.88" height="7.88" fill="#101010"/><rect x="366.39" y="502.91" width="7.88" height="7.88" fill="#808080"/><rect x="374.22" y="502.91" width="7.88" height="7.88" fill="#a0a0a0"/><rect x="382.05" y="502.91" width="7.88" height="7.88" fill="#b8b8b8"/><rect x="389.88" y="502.91" width="7.88" height="7.88" fill="#989898"/><rect x="397.71" y="502.91" width="7.88" height="7.88" fill="#505050"/><rect x="366.39" y="510.74" width="7.88" height="7.88" fill="#606060"/><rect x="374.22" y="510.74" width="7.88" height="7.88" fill="#787878"/><rect x="382.05" y="510.74" width="7.88" height="7.88" fill="#707070"/><rect x="389.88" y="510.74" width="7.88" height="7.88" fill="#303030"/>
<rect x="342.9" y="532.2" width="78.3" height="78.3" fill="#585858"/><rect x="382.05" y="532.20" width="7.88" height="7.88" fill="#101010"/><rect x="397.71" y="532.20" width="7.88" height="7.88" fill="#202020"/><rect x="342.90" y="540.03" width="7.88" height="7.88" fill="#101010"/><rect x="374.22" y="540.03" width="7.88" height="7.88" fill="#383838"/><rect x="382.05" y="540.03" width="7.88" height="7.88" fill="#686868"/><rect x="389.88" y="540.03" width="7.88" height="7.88" fill="#404040"/><rect x="397.71" y="540.03" width="7.88" height="7.88" fill="#050505"/><rect x="366.39" y="547.86" width="7.88" height="7.88" fill="#202020"/><rect x="374.22" y="547.86" width="7.88" height="7.88" fill="#989898"/><rect x="382.05" y="547.86" width="7.88" height="7.88" fill="#909090"/><rect x="389.88" y="547.86" width="7.88" height="7.88" fill="#b8b8b8"/><rect x="397.71" y="547.86" width="7.88" height="7.88" fill="#808080"/><rect x="405.54" y="547.86" width="7.88" height="7.88" fill="#707070"/><rect x="413.37" y="547.86" width="7.88" height="7.88" fill="#050505"/><rect x="358.56" y="555.69" width="7.88" height="7.88" fill="#303030"/><rect x="366.39" y="555.69" width="7.88" height="7.88" fill="#a0a0a0"/><rect x="374.22" y="555.69" width="7.88" height="7.88" fill="#d8d8d8"/><rect x="382.05" y="555.69" width="7.88" height="7.88" fill="#d8d8d8"/><rect x="389.88" y="555.69" width="7.88" height="7.88" fill="#f0f0f0"/><rect x="397.71" y="555.69" width="7.88" height="7.88" fill="#d8d8d8"/><rect x="405.54" y="555.69" width="7.88" height="7.88" fill="#909090"/><rect x="413.37" y="555.69" width="7.88" height="7.88" fill="#404040"/><rect x="358.56" y="563.52" width="7.88" height="7.88" fill="#383838"/><rect x="366.39" y="563.52" width="7.88" height="7.88" fill="#a8a8a8"/><rect x="374.22" y="563.52" width="7.88" height="7.88" fill="#e8e8e8"/><rect x="382.05" y="563.52" width="7.88" height="7.88" fill="#f0f0f0"/><rect x="389.88" y="563.52" width="7.88" height="7.88" fill="#fcfcfc"/><rect x="397.71" y="563.52" width="7.88" height="7.88" fill="#d8d8d8"/><rect x="405.54" y="563.52" width="7.88" height="7.88" fill="#989898"/><rect x="413.37" y="563.52" width="7.88" height="7.88" fill="#606060"/><rect x="358.56" y="571.35" width="7.88" height="7.88" fill="#383838"/><rect x="366.39" y="571.35" width="7.88" height="7.88" fill="#a8a8a8"/><rect x="374.22" y="571.35" width="7.88" height="7.88" fill="#f0f0f0"/><rect x="382.05" y="571.35" width="7.88" height="7.88" fill="#e8e8e8"/><rect x="389.88" y="571.35" width="7.88" height="7.88" fill="#ffffff"/><rect x="397.71" y="571.35" width="7.88" height="7.88" fill="#e8e8e8"/><rect x="405.54" y="571.35" width="7.88" height="7.88" fill="#989898"/><rect x="413.37" y="571.35" width="7.88" height="7.88" fill="#404040"/><rect x="358.56" y="579.18" width="7.88" height="7.88" fill="#383838"/><rect x="366.39" y="579.18" width="7.88" height="7.88" fill="#989898"/><rect x="374.22" y="579.18" width="7.88" height="7.88" fill="#c0c0c0"/><rect x="382.05" y="579.18" width="7.88" height="7.88" fill="#f0f0f0"/><rect x="389.88" y="579.18" width="7.88" height="7.88" fill="#f0f0f0"/><rect x="397.71" y="579.18" width="7.88" height="7.88" fill="#d8d8d8"/><rect x="405.54" y="579.18" width="7.88" height="7.88" fill="#888888"/><rect x="366.39" y="587.01" width="7.88" height="7.88" fill="#404040"/><rect x="374.22" y="587.01" width="7.88" height="7.88" fill="#909090"/><rect x="382.05" y="587.01" width="7.88" height="7.88" fill="#c0c0c0"/><rect x="389.88" y="587.01" width="7.88" height="7.88" fill="#a8a8a8"/><rect x="405.54" y="587.01" width="7.88" height="7.88" fill="#202020"/><rect x="374.22" y="594.84" width="7.88" height="7.88" fill="#555555"/><rect x="382.05" y="594.84" width="7.88" height="7.88" fill="#505050"/><rect x="389.88" y="594.84" width="7.88" height="7.88" fill="#484848"/>
<text x="442.40" y="479.80" font-size="9.2" text-anchor="middle" textLength="38.6" lengthAdjust="spacingAndGlyphs" >Temporal</text>
<path d="M428.9 484.40 L452.1 484.40 L452.1 481.70 L458.2 487.5 L452.1 493.30 L452.1 490.60 L428.9 490.60 Z" fill="#93b8dc"/>
<text x="449.00" y="503.90" font-size="9.2" text-anchor="middle" textLength="33.8" lengthAdjust="spacingAndGlyphs" >Channel</text>
<text x="442.40" y="559.80" font-size="9.2" text-anchor="middle" textLength="38.6" lengthAdjust="spacingAndGlyphs" >Temporal</text>
<path d="M428.9 564.30 L452.1 564.30 L452.1 561.60 L458.2 567.4 L452.1 573.20 L452.1 570.50 L428.9 570.50 Z" fill="#93b8dc"/>
<text x="449.00" y="583.80" font-size="9.2" text-anchor="middle" textLength="33.8" lengthAdjust="spacingAndGlyphs" >Channel</text>
<text x="537.50" y="450.60" font-size="9.0" text-anchor="middle" textLength="89" lengthAdjust="spacingAndGlyphs" >Conv1 (64 x 5 x 5) ...</text>
<defs>
<filter id="bl4" x="-30%" y="-30%" width="160%" height="160%"><feGaussianBlur stdDeviation="4"/></filter>
<filter id="bl3" x="-40%" y="-40%" width="180%" height="180%"><feGaussianBlur stdDeviation="2.5"/></filter>
<filter id="bl6" x="-40%" y="-40%" width="180%" height="180%"><feGaussianBlur stdDeviation="6"/></filter>
<clipPath id="h1"><rect x="467.3" y="454.6" width="59.7" height="59.6"/></clipPath>
<clipPath id="h2"><rect x="536.2" y="454.8" width="59.7" height="59.4"/></clipPath>
<clipPath id="h3"><rect x="467.3" y="532.1" width="59.7" height="59.5"/></clipPath>
<clipPath id="h4"><rect x="536.2" y="532.1" width="59.7" height="59.9"/></clipPath>
</defs>
<g clip-path="url(#h1)"><rect x="467.3" y="454.6" width="60" height="60" fill="#6e0a04"/><g filter="url(#bl6)"><ellipse cx="473.30" cy="472.60" rx="9.00" ry="12.00" fill="#2a0301"/><ellipse cx="473.30" cy="495.40" rx="9.00" ry="8.40" fill="#200201"/><ellipse cx="521.30" cy="484.60" rx="9.00" ry="18.00" fill="#8a1a08"/><ellipse cx="497.30" cy="455.80" rx="18.00" ry="4.80" fill="#3a1005"/><ellipse cx="520.10" cy="457.60" rx="9.00" ry="6.00" fill="#2a0402"/></g><g filter="url(#bl4)"><ellipse cx="497.30" cy="483.40" rx="18.60" ry="19.80" fill="#d46848"/><ellipse cx="483.50" cy="482.20" rx="7.80" ry="6.00" fill="#c89050"/></g><g filter="url(#bl3)"><ellipse cx="497.30" cy="481.60" rx="13.20" ry="15.00" fill="#fde6b4"/><ellipse cx="503.30" cy="491.80" rx="7.20" ry="5.40" fill="#ff9c80"/><ellipse cx="494.90" cy="479.20" rx="8.40" ry="8.40" fill="#fff4cc"/><ellipse cx="485.30" cy="482.20" rx="4.80" ry="3.60" fill="#e8c88c"/></g></g>
<g clip-path="url(#h2)"><rect x="536.2" y="454.6" width="60" height="60" fill="#b01208"/><g filter="url(#bl6)"><ellipse cx="537.40" cy="455.80" rx="9.00" ry="9.00" fill="#100000"/><ellipse cx="539.20" cy="484.60" rx="6.00" ry="30.00" fill="#4a0503"/><ellipse cx="572.20" cy="455.80" rx="24.00" ry="7.20" fill="#4a0503"/><ellipse cx="593.20" cy="481.60" rx="7.20" ry="12.00" fill="#f03a10"/><ellipse cx="566.20" cy="514.60" rx="24.00" ry="6.00" fill="#c02010"/></g><g filter="url(#bl4)"><rect x="551.80" y="469.00" width="33.60" height="37.20" fill="#f07050"/></g><g filter="url(#bl3)"><rect x="558.40" y="475.60" width="22.80" height="25.20" fill="#ffe4b0"/><rect x="562.00" y="479.20" width="16.20" height="18.00" fill="#fff0cc"/></g></g>
<g clip-path="url(#h3)"><rect x="467.3" y="532.1" width="60" height="60" fill="#5a0804"/><g filter="url(#bl6)"><ellipse cx="470.30" cy="556.10" rx="9.00" ry="36.00" fill="#1a0000"/><ellipse cx="521.30" cy="553.10" rx="9.00" ry="15.00" fill="#e82a18"/><ellipse cx="500.30" cy="533.90" rx="12.00" ry="4.80" fill="#2a2a05"/><ellipse cx="503.30" cy="589.10" rx="18.00" ry="6.00" fill="#6a1a08"/><ellipse cx="518.30" cy="583.10" rx="9.00" ry="9.00" fill="#8a0c06"/></g><g filter="url(#bl4)"><rect x="482.90" y="540.50" width="30.00" height="40.80" fill="#c06a38"/></g><g filter="url(#bl3)"><rect x="487.70" y="544.10" width="21.60" height="33.00" fill="#ffeeb0"/><rect x="491.30" y="547.10" width="15.00" height="22.20" fill="#fff6c4"/></g></g>
<g clip-path="url(#h4)"><rect x="536.2" y="532.1" width="60" height="60" fill="#c01a08"/><g filter="url(#bl6)"><ellipse cx="537.40" cy="533.30" rx="9.00" ry="9.00" fill="#1a0008"/><ellipse cx="566.20" cy="533.90" rx="30.00" ry="7.20" fill="#5a1005"/><ellipse cx="542.20" cy="562.10" rx="6.00" ry="24.00" fill="#6a0a04"/><ellipse cx="593.80" cy="559.10" rx="6.00" ry="12.00" fill="#f06820"/><ellipse cx="566.20" cy="590.90" rx="24.00" ry="6.00" fill="#b01208"/></g><g filter="url(#bl4)"><rect x="548.20" y="541.70" width="36.00" height="39.60" fill="#f08c40"/></g><g filter="url(#bl3)"><rect x="554.80" y="547.10" width="24.60" height="30.00" fill="#fde088"/><rect x="557.80" y="551.30" width="18.00" height="20.40" fill="#f8dc68"/><ellipse cx="555.40" cy="559.10" rx="4.20" ry="8.40" fill="#d8b848"/></g></g>
<line x1="528.5" y1="488.4" x2="535.5" y2="488.4" stroke="#555" stroke-width="0.8" stroke-dasharray="0.9 1"/>
<line x1="528.5" y1="566.5" x2="535.5" y2="566.5" stroke="#555" stroke-width="0.8" stroke-dasharray="0.9 1"/>
<text x="499.20" y="602.30" font-size="9.6" text-anchor="middle" textLength="39" lengthAdjust="spacingAndGlyphs" >Circle vs.</text>
<text x="499.10" y="613.20" font-size="9.6" text-anchor="middle" textLength="38" lengthAdjust="spacingAndGlyphs" >rectangle</text>
<text x="567.30" y="602.30" font-size="9.6" text-anchor="middle" textLength="50.8" lengthAdjust="spacingAndGlyphs" >Focused vs.</text>
<text x="567.30" y="613.20" font-size="9.6" text-anchor="middle" textLength="28" lengthAdjust="spacingAndGlyphs" >diffuse</text>
<text x="613.70" y="473.80" font-size="9.2" text-anchor="middle" textLength="34.6" lengthAdjust="spacingAndGlyphs" >Channel</text>
<path d="M599 478.80 L622.4 478.80 L622.4 476.10 L628.2 481.8 L622.4 487.50 L622.4 484.80 L599 484.80 Z" fill="#93b8dc"/>
<text x="626.40" y="499.30" font-size="9.0" text-anchor="middle" textLength="41.2" lengthAdjust="spacingAndGlyphs" >Prediction</text>
<line x1="640" y1="489.8" x2="640" y2="454.4" stroke="#000" stroke-width="1.1"/>
<path d="M640 450.4 L637.6 455.4 L642.4 455.4 Z" fill="#000"/>
<line x1="635.2" y1="484.3" x2="678.2" y2="484.3" stroke="#000" stroke-width="1.1"/>
<path d="M682.2 484.3 L677.2 481.90000000000003 L677.2 486.7 Z" fill="#000"/>
<rect x="648.4" y="468.2" width="4.60" height="16.10" fill="#4472c4" stroke="#2a4a8a" stroke-width="0.5"/>
<rect x="665.6" y="481" width="4.40" height="3.30" fill="#f5b21e" stroke="#9a7010" stroke-width="0.5"/>
<text x="651.80" y="466.70" font-size="9.0" text-anchor="middle" textLength="18.4" lengthAdjust="spacingAndGlyphs" >85%</text>
<text x="668.50" y="479.10" font-size="9.0" text-anchor="middle" textLength="18.4" lengthAdjust="spacingAndGlyphs" >15%</text>
<path d="M646.2 453.37 L649.53 457 L655.7 450.4" fill="none" stroke="#e8141c" stroke-width="1.8"/>
<text x="641.40" y="447.70" font-size="8.8" text-anchor="middle" textLength="21.2" lengthAdjust="spacingAndGlyphs" >Prob.</text>
<text x="653.5" y="495.1" font-size="8.8" textLength="33.5" lengthAdjust="spacingAndGlyphs">Domain</text>
<text x="613.70" y="554.20" font-size="9.2" text-anchor="middle" textLength="34.6" lengthAdjust="spacingAndGlyphs" >Channel</text>
<path d="M599 559.20 L622.4 559.20 L622.4 556.50 L628.2 562.2 L622.4 567.90 L622.4 565.20 L599 565.20 Z" fill="#93b8dc"/>
<text x="626.40" y="579.70" font-size="9.0" text-anchor="middle" textLength="41.2" lengthAdjust="spacingAndGlyphs" >Prediction</text>
<line x1="637.9" y1="569.8" x2="637.9" y2="536.8" stroke="#000" stroke-width="1.1"/>
<path d="M637.9 532.8 L635.5 537.8 L640.3 537.8 Z" fill="#000"/>
<line x1="633.3" y1="564.2" x2="678.2" y2="564.2" stroke="#000" stroke-width="1.1"/>
<path d="M682.2 564.2 L677.2 561.8000000000001 L677.2 566.6 Z" fill="#000"/>
<rect x="648.2" y="562.1" width="4.60" height="2.10" fill="#4472c4" stroke="#2a4a8a" stroke-width="0.5"/>
<rect x="665.7" y="549.4" width="4.40" height="14.80" fill="#f5b21e" stroke="#9a7010" stroke-width="0.5"/>
<text x="651.90" y="559.40" font-size="9.0" text-anchor="middle" textLength="18.4" lengthAdjust="spacingAndGlyphs" >13%</text>
<text x="669.30" y="547.80" font-size="9.0" text-anchor="middle" textLength="18.4" lengthAdjust="spacingAndGlyphs" >87%</text>
<path d="M663.2 534.34 L666.49 537.8 L672.6 531.5" fill="none" stroke="#e8141c" stroke-width="1.8"/>
<text x="639.50" y="530.00" font-size="8.8" text-anchor="middle" textLength="21.2" lengthAdjust="spacingAndGlyphs" >Prob.</text>
<text x="653.5" y="575.9" font-size="8.8" textLength="33.5" lengthAdjust="spacingAndGlyphs">Domain</text>
</svg></body></html>
